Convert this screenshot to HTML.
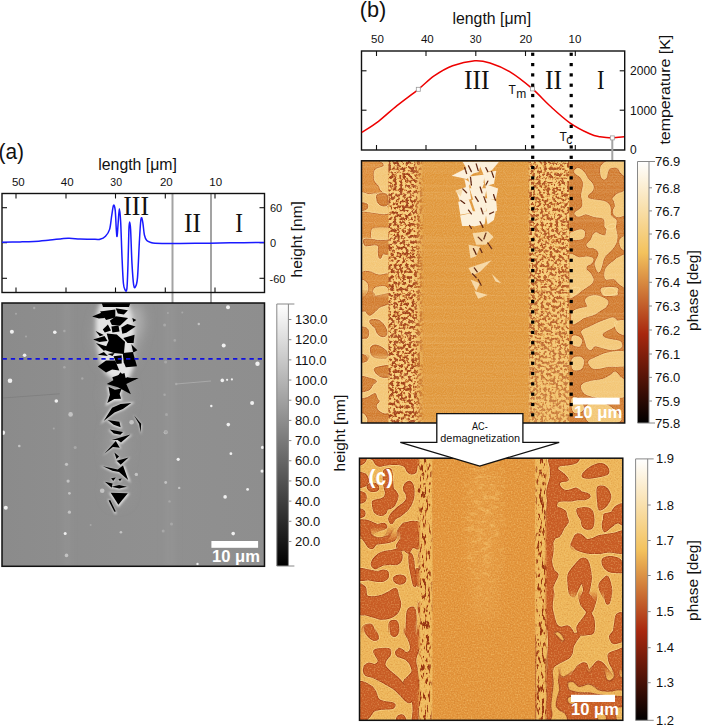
<!DOCTYPE html><html><head><meta charset="utf-8"><style>html,body{margin:0;padding:0;background:#fff;width:702px;height:726px;overflow:hidden}svg{display:block}</style></head><body><svg width="702" height="726" viewBox="0 0 702 726"><defs><linearGradient id="gGray" x1="0" y1="0" x2="0" y2="1"><stop offset="0" stop-color="#fff"/><stop offset="1" stop-color="#000"/></linearGradient><linearGradient id="gGwy" x1="0" y1="0" x2="0" y2="1"><stop offset="0" stop-color="#fff"/><stop offset="0.349" stop-color="rgb(243,194,93)"/><stop offset="0.659" stop-color="rgb(168,40,15)"/><stop offset="1" stop-color="#000"/></linearGradient><clipPath id="cA"><rect x="2" y="303" width="262.5" height="263.3"/></clipPath><clipPath id="cB"><rect x="361.5" y="160.8" width="263.2" height="262.2"/></clipPath><clipPath id="cC"><rect x="359.5" y="458.2" width="263.3" height="262.1"/></clipPath><filter id="fBlur1" x="-20%" y="-20%" width="140%" height="140%"><feGaussianBlur stdDeviation="0.6"/></filter><filter id="fBlur2" x="-50%" y="-50%" width="200%" height="200%"><feGaussianBlur stdDeviation="2.2"/></filter><filter id="fBlur12" x="-50%" y="-50%" width="200%" height="200%"><feGaussianBlur stdDeviation="1.3"/></filter><filter id="fBlur3" x="-50%" y="-50%" width="200%" height="200%"><feGaussianBlur stdDeviation="3"/></filter><filter id="fBlur6" x="-50%" y="-50%" width="200%" height="200%"><feGaussianBlur stdDeviation="6"/></filter><linearGradient id="gAbg" x1="0" y1="0" x2="1" y2="0"><stop offset="0" stop-color="rgb(139,139,139)"/><stop offset="0.3" stop-color="rgb(142,142,142)"/><stop offset="0.6" stop-color="rgb(144,144,144)"/><stop offset="1" stop-color="rgb(142,142,142)"/></linearGradient><filter id="fChC1" x="414" y="455" width="20" height="270" filterUnits="userSpaceOnUse" color-interpolation-filters="sRGB"><feTurbulence type="fractalNoise" baseFrequency="0.45 0.14" numOctaves="2" seed="31"/><feColorMatrix type="matrix" values="1 0 0 0 0  1 0 0 0 0  1 0 0 0 0  0 0 0 0 1"/><feComponentTransfer><feFuncR type="table" tableValues="0.588 0.588 0.588 0.588 0.588 0.588 0.588 0.588 0.792 0.922 0.941 0.941 0.941 0.941 0.941 0.941 0.941 0.941 0.941 0.941 0.941"/><feFuncG type="table" tableValues="0.196 0.196 0.196 0.196 0.196 0.196 0.196 0.196 0.447 0.692 0.737 0.737 0.737 0.737 0.737 0.737 0.737 0.737 0.737 0.737 0.737"/><feFuncB type="table" tableValues="0.059 0.059 0.059 0.059 0.059 0.059 0.059 0.059 0.184 0.341 0.373 0.373 0.373 0.373 0.373 0.373 0.373 0.373 0.373 0.373 0.373"/></feComponentTransfer></filter><filter id="fChC2" x="533" y="455" width="18" height="270" filterUnits="userSpaceOnUse" color-interpolation-filters="sRGB"><feTurbulence type="fractalNoise" baseFrequency="0.45 0.14" numOctaves="2" seed="37"/><feColorMatrix type="matrix" values="1 0 0 0 0  1 0 0 0 0  1 0 0 0 0  0 0 0 0 1"/><feComponentTransfer><feFuncR type="table" tableValues="0.588 0.588 0.588 0.588 0.588 0.588 0.588 0.588 0.792 0.922 0.941 0.941 0.941 0.941 0.941 0.941 0.941 0.941 0.941 0.941 0.941"/><feFuncG type="table" tableValues="0.196 0.196 0.196 0.196 0.196 0.196 0.196 0.196 0.447 0.692 0.737 0.737 0.737 0.737 0.737 0.737 0.737 0.737 0.737 0.737 0.737"/><feFuncB type="table" tableValues="0.059 0.059 0.059 0.059 0.059 0.059 0.059 0.059 0.184 0.341 0.373 0.373 0.373 0.373 0.373 0.373 0.373 0.373 0.373 0.373 0.373"/></feComponentTransfer></filter><linearGradient id="gChC" x1="0" y1="0" x2="1" y2="0"><stop offset="0" stop-color="#fff" stop-opacity="0"/><stop offset="0.25" stop-color="#fff" stop-opacity="1"/><stop offset="0.75" stop-color="#fff" stop-opacity="1"/><stop offset="1" stop-color="#fff" stop-opacity="0"/></linearGradient><mask id="mChC1" maskUnits="userSpaceOnUse" x="414" y="455" width="20" height="270"><rect x="417" y="455" width="16" height="270" fill="url(#gChC)"/></mask><mask id="mChC2" maskUnits="userSpaceOnUse" x="533" y="455" width="16" height="270"><rect x="534.5" y="455" width="13" height="270" fill="url(#gChC)"/></mask><filter id="fGrainC" x="355" y="455" width="275" height="270" filterUnits="userSpaceOnUse" color-interpolation-filters="sRGB"><feTurbulence type="fractalNoise" baseFrequency="0.7" numOctaves="1" seed="7" result="n"/><feColorMatrix in="n" type="matrix" values="0 0 0 0 1  0 0 0 0 0.9  0 0 0 0 0.6  2.2 0 0 0 -1.05" result="l"/><feColorMatrix in="n" type="matrix" values="0 0 0 0 0.7  0 0 0 0 0.35  0 0 0 0 0.1  -2.2 0 0 0 0.95" result="d"/><feMerge><feMergeNode in="l"/><feMergeNode in="d"/></feMerge></filter><filter id="fMottle" x="455" y="458" width="60" height="170" filterUnits="userSpaceOnUse" color-interpolation-filters="sRGB"><feTurbulence type="fractalNoise" baseFrequency="0.12 0.25" numOctaves="2" seed="4"/><feColorMatrix type="matrix" values="0 0 0 0 0.95  0 0 0 0 0.74  0 0 0 0 0.40  4 0 0 0 -2.0"/></filter><radialGradient id="gMot" cx="0.5" cy="0.35" r="0.6"><stop offset="0" stop-color="#fff" stop-opacity="1"/><stop offset="0.6" stop-color="#fff" stop-opacity="0.7"/><stop offset="1" stop-color="#fff" stop-opacity="0"/></radialGradient><mask id="mMot" maskUnits="userSpaceOnUse" x="455" y="458" width="60" height="170"><rect x="462" y="458" width="44" height="170" fill="url(#gMot)" opacity="0.75"/></mask><filter id="fWallC" x="-50%" y="-50%" width="200%" height="200%"><feGaussianBlur stdDeviation="0.7"/></filter><linearGradient id="gcz355_455" gradientUnits="userSpaceOnUse" x1="0" y1="455" x2="0" y2="540"><stop offset="0" stop-color="#fff" stop-opacity="1"/><stop offset="0.000" stop-color="#fff" stop-opacity="1"/><stop offset="1" stop-color="#fff" stop-opacity="1"/></linearGradient><mask id="cz355_455" maskUnits="userSpaceOnUse" x="355" y="455" width="77.5" height="85"><rect x="355" y="455" width="77.5" height="85" fill="url(#gcz355_455)"/></mask><linearGradient id="gcz355_532" gradientUnits="userSpaceOnUse" x1="0" y1="526" x2="0" y2="611"><stop offset="0" stop-color="#fff" stop-opacity="0"/><stop offset="0.141" stop-color="#fff" stop-opacity="1"/><stop offset="1" stop-color="#fff" stop-opacity="1"/></linearGradient><mask id="cz355_532" maskUnits="userSpaceOnUse" x="355" y="526" width="77.5" height="85"><rect x="355" y="526" width="77.5" height="85" fill="url(#gcz355_532)"/></mask><linearGradient id="gcz355_603" gradientUnits="userSpaceOnUse" x1="0" y1="597" x2="0" y2="676"><stop offset="0" stop-color="#fff" stop-opacity="0"/><stop offset="0.152" stop-color="#fff" stop-opacity="1"/><stop offset="1" stop-color="#fff" stop-opacity="1"/></linearGradient><mask id="cz355_603" maskUnits="userSpaceOnUse" x="355" y="597" width="77.5" height="79"><rect x="355" y="597" width="77.5" height="79" fill="url(#gcz355_603)"/></mask><linearGradient id="gcz355_668" gradientUnits="userSpaceOnUse" x1="0" y1="662" x2="0" y2="733"><stop offset="0" stop-color="#fff" stop-opacity="0"/><stop offset="0.169" stop-color="#fff" stop-opacity="1"/><stop offset="1" stop-color="#fff" stop-opacity="1"/></linearGradient><mask id="cz355_668" maskUnits="userSpaceOnUse" x="355" y="662" width="77.5" height="71"><rect x="355" y="662" width="77.5" height="71" fill="url(#gcz355_668)"/></mask><linearGradient id="gcz535_455" gradientUnits="userSpaceOnUse" x1="0" y1="455" x2="0" y2="554"><stop offset="0" stop-color="#fff" stop-opacity="1"/><stop offset="0.000" stop-color="#fff" stop-opacity="1"/><stop offset="1" stop-color="#fff" stop-opacity="1"/></linearGradient><mask id="cz535_455" maskUnits="userSpaceOnUse" x="535" y="455" width="95" height="99"><rect x="535" y="455" width="95" height="99" fill="url(#gcz535_455)"/></mask><linearGradient id="gcz535_546" gradientUnits="userSpaceOnUse" x1="0" y1="540" x2="0" y2="641"><stop offset="0" stop-color="#fff" stop-opacity="0"/><stop offset="0.119" stop-color="#fff" stop-opacity="1"/><stop offset="1" stop-color="#fff" stop-opacity="1"/></linearGradient><mask id="cz535_546" maskUnits="userSpaceOnUse" x="535" y="540" width="95" height="101"><rect x="535" y="540" width="95" height="101" fill="url(#gcz535_546)"/></mask><linearGradient id="gcz535_633" gradientUnits="userSpaceOnUse" x1="0" y1="627" x2="0" y2="733"><stop offset="0" stop-color="#fff" stop-opacity="0"/><stop offset="0.113" stop-color="#fff" stop-opacity="1"/><stop offset="1" stop-color="#fff" stop-opacity="1"/></linearGradient><mask id="cz535_633" maskUnits="userSpaceOnUse" x="535" y="627" width="95" height="106"><rect x="535" y="627" width="95" height="106" fill="url(#gcz535_633)"/></mask><linearGradient id="gcz547_596" gradientUnits="userSpaceOnUse" x1="0" y1="590" x2="0" y2="688"><stop offset="0" stop-color="#fff" stop-opacity="0"/><stop offset="0.122" stop-color="#fff" stop-opacity="1"/><stop offset="0.878" stop-color="#fff" stop-opacity="1"/><stop offset="1" stop-color="#fff" stop-opacity="0"/></linearGradient><mask id="cz547_596" maskUnits="userSpaceOnUse" x="547" y="590" width="83" height="98"><rect x="547" y="590" width="83" height="98" fill="url(#gcz547_596)"/></mask><linearGradient id="gcz548_672" gradientUnits="userSpaceOnUse" x1="0" y1="666" x2="0" y2="733"><stop offset="0" stop-color="#fff" stop-opacity="0"/><stop offset="0.179" stop-color="#fff" stop-opacity="1"/><stop offset="1" stop-color="#fff" stop-opacity="1"/></linearGradient><mask id="cz548_672" maskUnits="userSpaceOnUse" x="548" y="666" width="82" height="67"><rect x="548" y="666" width="82" height="67" fill="url(#gcz548_672)"/></mask><linearGradient id="gcz355_630" gradientUnits="userSpaceOnUse" x1="0" y1="624" x2="0" y2="733"><stop offset="0" stop-color="#fff" stop-opacity="0"/><stop offset="0.110" stop-color="#fff" stop-opacity="1"/><stop offset="1" stop-color="#fff" stop-opacity="1"/></linearGradient><mask id="cz355_630" maskUnits="userSpaceOnUse" x="355" y="624" width="77.5" height="109"><rect x="355" y="624" width="77.5" height="109" fill="url(#gcz355_630)"/></mask><linearGradient id="gcz355_536" gradientUnits="userSpaceOnUse" x1="0" y1="530" x2="0" y2="634"><stop offset="0" stop-color="#fff" stop-opacity="0"/><stop offset="0.115" stop-color="#fff" stop-opacity="1"/><stop offset="0.885" stop-color="#fff" stop-opacity="1"/><stop offset="1" stop-color="#fff" stop-opacity="0"/></linearGradient><mask id="cz355_536" maskUnits="userSpaceOnUse" x="355" y="530" width="77.5" height="104"><rect x="355" y="530" width="77.5" height="104" fill="url(#gcz355_536)"/></mask><filter id="fSpk1" x="386" y="160" width="42" height="265" filterUnits="userSpaceOnUse" color-interpolation-filters="sRGB"><feTurbulence type="fractalNoise" baseFrequency="0.34" numOctaves="2" seed="11"/><feColorMatrix type="matrix" values="1 0 0 0 0  1 0 0 0 0  1 0 0 0 0  0 0 0 0 1"/><feComponentTransfer><feFuncR type="table" tableValues="0.627 0.627 0.627 0.627 0.627 0.627 0.627 0.627 0.627 0.742 0.867 0.948 0.965 0.965 0.965 0.965 0.965 0.965 0.965 0.965 0.965"/><feFuncG type="table" tableValues="0.235 0.235 0.235 0.235 0.235 0.235 0.235 0.235 0.235 0.386 0.575 0.766 0.804 0.804 0.804 0.804 0.804 0.804 0.804 0.804 0.804"/><feFuncB type="table" tableValues="0.078 0.078 0.078 0.078 0.078 0.078 0.078 0.078 0.078 0.154 0.270 0.437 0.471 0.471 0.471 0.471 0.471 0.471 0.471 0.471 0.471"/></feComponentTransfer></filter><filter id="fSpk2" x="526" y="160" width="46" height="265" filterUnits="userSpaceOnUse" color-interpolation-filters="sRGB"><feTurbulence type="fractalNoise" baseFrequency="0.34" numOctaves="2" seed="23"/><feColorMatrix type="matrix" values="1 0 0 0 0  1 0 0 0 0  1 0 0 0 0  0 0 0 0 1"/><feComponentTransfer><feFuncR type="table" tableValues="0.667 0.667 0.667 0.667 0.667 0.667 0.667 0.667 0.667 0.794 0.894 0.953 0.965 0.965 0.965 0.965 0.965 0.965 0.965 0.965 0.965"/><feFuncG type="table" tableValues="0.282 0.282 0.282 0.282 0.282 0.282 0.282 0.282 0.282 0.461 0.627 0.775 0.804 0.804 0.804 0.804 0.804 0.804 0.804 0.804 0.804"/><feFuncB type="table" tableValues="0.098 0.098 0.098 0.098 0.098 0.098 0.098 0.098 0.098 0.189 0.300 0.442 0.471 0.471 0.471 0.471 0.471 0.471 0.471 0.471 0.471"/></feComponentTransfer></filter><linearGradient id="gFade1" x1="0" y1="0" x2="1" y2="0"><stop offset="0" stop-color="#fff" stop-opacity="1"/><stop offset="0.7" stop-color="#fff" stop-opacity="1"/><stop offset="1" stop-color="#fff" stop-opacity="0"/></linearGradient><mask id="mSpk1" maskUnits="userSpaceOnUse" x="380" y="160" width="50" height="265"><rect x="388.5" y="160" width="36" height="265" fill="url(#gFade1)"/></mask><linearGradient id="gFade2" x1="0" y1="0" x2="1" y2="0"><stop offset="0" stop-color="#fff" stop-opacity="0"/><stop offset="0.07" stop-color="#fff" stop-opacity="1"/><stop offset="1" stop-color="#fff" stop-opacity="1"/></linearGradient><linearGradient id="gFade2v" x1="0" y1="0" x2="0" y2="1"><stop offset="0" stop-color="#fff" stop-opacity="1"/><stop offset="0.45" stop-color="#fff" stop-opacity="0.95"/><stop offset="1" stop-color="#fff" stop-opacity="0.5"/></linearGradient><mask id="mSpk2" maskUnits="userSpaceOnUse" x="520" y="160" width="55" height="265"><rect x="527.5" y="160" width="41.5" height="265" fill="url(#gFade2)"/><rect x="527.5" y="160" width="41.5" height="265" fill="#000" opacity="0"/></mask><linearGradient id="gSpk2L" x1="0" y1="0" x2="0" y2="1"><stop offset="0" stop-color="rgb(236,180,95)" stop-opacity="0"/><stop offset="0.45" stop-color="rgb(236,180,95)" stop-opacity="0.1"/><stop offset="1" stop-color="rgb(236,180,95)" stop-opacity="0.5"/></linearGradient><filter id="fScan" x="361" y="160" width="265" height="265" filterUnits="userSpaceOnUse" color-interpolation-filters="sRGB"><feTurbulence type="fractalNoise" baseFrequency="0.004 0.6" numOctaves="2" seed="5"/><feColorMatrix type="matrix" values="0 0 0 0 1  0 0 0 0 0.9  0 0 0 0 0.7  2.2 0 0 0 -0.95"/></filter><filter id="fGrainB" x="361" y="160" width="265" height="265" filterUnits="userSpaceOnUse" color-interpolation-filters="sRGB"><feTurbulence type="fractalNoise" baseFrequency="0.9" numOctaves="1" seed="9"/><feColorMatrix type="matrix" values="0 0 0 0 1  0 0 0 0 0.95  0 0 0 0 0.8  1.6 0 0 0 -0.55"/></filter><filter id="fB05" x="-50%" y="-50%" width="200%" height="200%"><feGaussianBlur stdDeviation="0.5"/></filter><linearGradient id="gbz0" gradientUnits="userSpaceOnUse" x1="0" y1="156" x2="0" y2="232"><stop offset="0" stop-color="#fff" stop-opacity="1"/><stop offset="0.000" stop-color="#fff" stop-opacity="1"/><stop offset="1" stop-color="#fff" stop-opacity="1"/></linearGradient><mask id="bz0" maskUnits="userSpaceOnUse" x="355" y="156" width="33.60000000000002" height="76"><rect x="355" y="156" width="33.60000000000002" height="76" fill="url(#gbz0)"/></mask><linearGradient id="gbz1" gradientUnits="userSpaceOnUse" x1="0" y1="221" x2="0" y2="299"><stop offset="0" stop-color="#fff" stop-opacity="0"/><stop offset="0.128" stop-color="#fff" stop-opacity="1"/><stop offset="1" stop-color="#fff" stop-opacity="1"/></linearGradient><mask id="bz1" maskUnits="userSpaceOnUse" x="355" y="221" width="33.60000000000002" height="78"><rect x="355" y="221" width="33.60000000000002" height="78" fill="url(#gbz1)"/></mask><linearGradient id="gbz2" gradientUnits="userSpaceOnUse" x1="0" y1="288" x2="0" y2="364"><stop offset="0" stop-color="#fff" stop-opacity="0"/><stop offset="0.132" stop-color="#fff" stop-opacity="1"/><stop offset="1" stop-color="#fff" stop-opacity="1"/></linearGradient><mask id="bz2" maskUnits="userSpaceOnUse" x="355" y="288" width="33.60000000000002" height="76"><rect x="355" y="288" width="33.60000000000002" height="76" fill="url(#gbz2)"/></mask><linearGradient id="gbz3" gradientUnits="userSpaceOnUse" x1="0" y1="353" x2="0" y2="432"><stop offset="0" stop-color="#fff" stop-opacity="0"/><stop offset="0.127" stop-color="#fff" stop-opacity="1"/><stop offset="1" stop-color="#fff" stop-opacity="1"/></linearGradient><mask id="bz3" maskUnits="userSpaceOnUse" x="355" y="353" width="33.60000000000002" height="79"><rect x="355" y="353" width="33.60000000000002" height="79" fill="url(#gbz3)"/></mask><clipPath id="cBR"><rect x="569.5" y="155" width="60" height="275"/></clipPath></defs><text x="-1.5" y="159.3" font-size="22" text-anchor="start" fill="#111" font-family="Liberation Sans, sans-serif" textLength="25.5" lengthAdjust="spacingAndGlyphs" >(a)</text><text x="98.3" y="169.5" font-size="16" text-anchor="start" fill="#111" font-family="Liberation Sans, sans-serif" textLength="78.6" lengthAdjust="spacingAndGlyphs" >length [μm]</text><text x="18.3" y="186" font-size="11.5" text-anchor="middle" fill="#111" font-family="Liberation Sans, sans-serif" >50</text><text x="67.2" y="186" font-size="11.5" text-anchor="middle" fill="#111" font-family="Liberation Sans, sans-serif" >40</text><text x="116.2" y="186" font-size="10.5" text-anchor="middle" fill="#111" font-family="Liberation Sans, sans-serif" >30</text><text x="166.3" y="186" font-size="11.5" text-anchor="middle" fill="#111" font-family="Liberation Sans, sans-serif" >20</text><text x="215.7" y="186" font-size="11.5" text-anchor="middle" fill="#111" font-family="Liberation Sans, sans-serif" >10</text><line x1="172.5" y1="194" x2="172.5" y2="303" stroke="#a3a3a3" stroke-width="2"/><line x1="211" y1="194" x2="211" y2="303" stroke="#a3a3a3" stroke-width="2"/><rect x="2" y="193.5" width="262.5" height="99.0" fill="none" stroke="#111" stroke-width="1.4"/><line x1="16" y1="193.5" x2="16" y2="198.5" stroke="#111" stroke-width="1.1"/><line x1="16" y1="292.5" x2="16" y2="287.5" stroke="#111" stroke-width="1.1"/><line x1="66" y1="193.5" x2="66" y2="198.5" stroke="#111" stroke-width="1.1"/><line x1="66" y1="292.5" x2="66" y2="287.5" stroke="#111" stroke-width="1.1"/><line x1="115.5" y1="193.5" x2="115.5" y2="198.5" stroke="#111" stroke-width="1.1"/><line x1="115.5" y1="292.5" x2="115.5" y2="287.5" stroke="#111" stroke-width="1.1"/><line x1="165.3" y1="193.5" x2="165.3" y2="198.5" stroke="#111" stroke-width="1.1"/><line x1="165.3" y1="292.5" x2="165.3" y2="287.5" stroke="#111" stroke-width="1.1"/><line x1="215" y1="193.5" x2="215" y2="198.5" stroke="#111" stroke-width="1.1"/><line x1="215" y1="292.5" x2="215" y2="287.5" stroke="#111" stroke-width="1.1"/><line x1="2" y1="207.7" x2="7" y2="207.7" stroke="#111" stroke-width="1.1"/><line x1="264.5" y1="207.7" x2="259.5" y2="207.7" stroke="#111" stroke-width="1.1"/><line x1="2" y1="242.7" x2="7" y2="242.7" stroke="#111" stroke-width="1.1"/><line x1="264.5" y1="242.7" x2="259.5" y2="242.7" stroke="#111" stroke-width="1.1"/><line x1="2" y1="278.3" x2="7" y2="278.3" stroke="#111" stroke-width="1.1"/><line x1="264.5" y1="278.3" x2="259.5" y2="278.3" stroke="#111" stroke-width="1.1"/><path d="M2.00,242.20 C5.00,242.15 14.67,242.03 20.00,241.90 C25.33,241.77 29.00,241.72 34.00,241.40 C39.00,241.08 44.33,240.52 50.00,240.00 C55.67,239.48 63.00,238.47 68.00,238.30 C73.00,238.13 75.50,238.85 80.00,239.00 C84.50,239.15 91.67,239.15 95.00,239.20 C98.33,239.25 98.25,239.78 100.00,239.30 C101.75,238.82 103.90,237.95 105.50,236.30 C107.10,234.65 108.57,232.83 109.60,229.40 C110.63,225.97 111.05,219.72 111.70,215.70 C112.35,211.68 112.92,206.22 113.50,205.30 C114.08,204.38 114.73,206.18 115.20,210.20 C115.67,214.22 115.98,225.05 116.30,229.40 C116.62,233.75 116.78,237.45 117.10,236.30 C117.42,235.15 117.82,227.08 118.20,222.50 C118.58,217.92 118.98,208.80 119.40,208.80 C119.82,208.80 120.27,214.47 120.70,222.50 C121.13,230.53 121.55,246.88 122.00,257.00 C122.45,267.12 122.88,277.73 123.40,283.20 C123.92,288.67 124.52,288.88 125.10,289.80 C125.68,290.72 126.42,293.02 126.90,288.70 C127.38,284.38 127.67,273.78 128.00,263.90 C128.33,254.02 128.63,236.40 128.90,229.40 C129.17,222.40 129.32,221.90 129.60,221.90 C129.88,221.90 130.20,222.40 130.60,229.40 C131.00,236.40 131.48,254.60 132.00,263.90 C132.52,273.20 133.12,281.42 133.70,285.20 C134.28,288.98 134.87,287.87 135.50,286.60 C136.13,285.33 136.87,284.83 137.50,277.60 C138.13,270.37 138.78,252.38 139.30,243.20 C139.82,234.02 140.20,226.75 140.60,222.50 C141.00,218.25 141.30,217.47 141.70,217.70 C142.10,217.93 142.55,221.02 143.00,223.90 C143.45,226.78 143.77,232.23 144.40,235.00 C145.03,237.77 145.70,239.25 146.80,240.50 C147.90,241.75 149.63,242.05 151.00,242.50 C152.37,242.95 151.83,243.02 155.00,243.20 C158.17,243.38 162.50,243.58 170.00,243.60 C177.50,243.62 190.00,243.43 200.00,243.30 C210.00,243.17 219.33,242.93 230.00,242.80 C240.67,242.67 258.33,242.55 264.00,242.50" fill="none" stroke="#1a1aff" stroke-width="1.5"/><text x="123.3" y="215" font-size="26.5" text-anchor="start" fill="#111" font-family="Liberation Serif, serif" textLength="25.7" lengthAdjust="spacingAndGlyphs" >III</text><text x="184" y="232.2" font-size="26.5" text-anchor="start" fill="#111" font-family="Liberation Serif, serif" textLength="17" lengthAdjust="spacingAndGlyphs" >II</text><text x="235.3" y="231.7" font-size="26.5" text-anchor="start" fill="#111" font-family="Liberation Serif, serif" textLength="7.7" lengthAdjust="spacingAndGlyphs" >I</text><text x="270" y="212" font-size="11" text-anchor="start" fill="#111" font-family="Liberation Sans, sans-serif" >60</text><text x="270" y="247.3" font-size="11" text-anchor="start" fill="#111" font-family="Liberation Sans, sans-serif" >0</text><text x="269.5" y="282.7" font-size="11" text-anchor="start" fill="#111" font-family="Liberation Sans, sans-serif" >-60</text><text transform="translate(301.7,239.3) rotate(-90)" font-size="13.8" text-anchor="middle" fill="#111" font-family="Liberation Sans, sans-serif" textLength="76.2" lengthAdjust="spacingAndGlyphs">height [nm]</text><text x="359.7" y="16.9" font-size="22" text-anchor="start" fill="#111" font-family="Liberation Sans, sans-serif" textLength="26.5" lengthAdjust="spacingAndGlyphs" >(b)</text><text x="452.5" y="23.9" font-size="16" text-anchor="start" fill="#111" font-family="Liberation Sans, sans-serif" textLength="78.6" lengthAdjust="spacingAndGlyphs" >length [μm]</text><text x="377.4" y="43.3" font-size="11.5" text-anchor="middle" fill="#111" font-family="Liberation Sans, sans-serif" >50</text><text x="427.3" y="43.3" font-size="11.5" text-anchor="middle" fill="#111" font-family="Liberation Sans, sans-serif" >40</text><text x="475.7" y="43.3" font-size="10.5" text-anchor="middle" fill="#111" font-family="Liberation Sans, sans-serif" >30</text><text x="525.8" y="43.3" font-size="11.5" text-anchor="middle" fill="#111" font-family="Liberation Sans, sans-serif" >20</text><text x="575" y="43.3" font-size="11.5" text-anchor="middle" fill="#111" font-family="Liberation Sans, sans-serif" >10</text><rect x="361.5" y="51" width="263.20000000000005" height="99" fill="none" stroke="#111" stroke-width="1.4"/><line x1="376.5" y1="51" x2="376.5" y2="56" stroke="#111" stroke-width="1.1"/><line x1="376.5" y1="150" x2="376.5" y2="145" stroke="#111" stroke-width="1.1"/><line x1="426" y1="51" x2="426" y2="56" stroke="#111" stroke-width="1.1"/><line x1="426" y1="150" x2="426" y2="145" stroke="#111" stroke-width="1.1"/><line x1="475.8" y1="51" x2="475.8" y2="56" stroke="#111" stroke-width="1.1"/><line x1="475.8" y1="150" x2="475.8" y2="145" stroke="#111" stroke-width="1.1"/><line x1="525.5" y1="51" x2="525.5" y2="56" stroke="#111" stroke-width="1.1"/><line x1="525.5" y1="150" x2="525.5" y2="145" stroke="#111" stroke-width="1.1"/><line x1="575.3" y1="51" x2="575.3" y2="56" stroke="#111" stroke-width="1.1"/><line x1="575.3" y1="150" x2="575.3" y2="145" stroke="#111" stroke-width="1.1"/><line x1="361.5" y1="70.8" x2="366.5" y2="70.8" stroke="#111" stroke-width="1.1"/><line x1="624.7" y1="70.8" x2="619.7" y2="70.8" stroke="#111" stroke-width="1.1"/><line x1="361.5" y1="110.2" x2="366.5" y2="110.2" stroke="#111" stroke-width="1.1"/><line x1="624.7" y1="110.2" x2="619.7" y2="110.2" stroke="#111" stroke-width="1.1"/><path d="M361.90,132.40 C364.67,130.55 372.65,125.77 378.50,121.30 C384.35,116.83 390.37,110.93 397.00,105.60 C403.63,100.27 412.12,94.25 418.30,89.30 C424.48,84.35 428.38,79.83 434.10,75.90 C439.82,71.97 445.82,68.23 452.60,65.70 C459.38,63.17 468.57,61.15 474.80,60.70 C481.03,60.25 484.13,61.13 490.00,63.00 C495.87,64.87 502.92,67.58 510.00,71.90 C517.08,76.22 525.87,83.25 532.50,88.90 C539.13,94.55 543.58,100.15 549.80,105.80 C556.02,111.45 563.15,118.13 569.80,122.80 C576.45,127.47 584.67,131.47 589.70,133.80 C594.73,136.13 596.23,136.12 600.00,136.80 C603.77,137.48 608.30,137.90 612.30,137.90 C616.30,137.90 622.05,136.98 624.00,136.80" fill="none" stroke="#ee0000" stroke-width="1.5"/><line x1="612.3" y1="140" x2="612.3" y2="161" stroke="#a3a3a3" stroke-width="2"/><rect x="416.3" y="87.3" width="4" height="4" fill="#fff" stroke="#999" stroke-width="0.8"/><rect x="530.5" y="86.9" width="4" height="4" fill="#fff" stroke="#999" stroke-width="0.8"/><rect x="610.3" y="135.9" width="4" height="4" fill="#fff" stroke="#999" stroke-width="0.8"/><text x="464" y="88.7" font-size="26.5" text-anchor="start" fill="#111" font-family="Liberation Serif, serif" textLength="25.6" lengthAdjust="spacingAndGlyphs" >III</text><text x="545" y="88.7" font-size="26.5" text-anchor="start" fill="#111" font-family="Liberation Serif, serif" textLength="17" lengthAdjust="spacingAndGlyphs" >II</text><text x="597" y="88.7" font-size="26.5" text-anchor="start" fill="#111" font-family="Liberation Serif, serif" textLength="7.5" lengthAdjust="spacingAndGlyphs" >I</text><text x="508.5" y="94.3" font-size="12" text-anchor="start" fill="#111" font-family="Liberation Sans, sans-serif" >T</text><text x="516.3" y="97.5" font-size="12" text-anchor="start" fill="#111" font-family="Liberation Sans, sans-serif" >m</text><text x="559.5" y="141" font-size="12" text-anchor="start" fill="#111" font-family="Liberation Sans, sans-serif" >T</text><text x="566.3" y="144" font-size="12" text-anchor="start" fill="#111" font-family="Liberation Sans, sans-serif" >c</text><text x="630" y="75.4" font-size="12" text-anchor="start" fill="#111" font-family="Liberation Sans, sans-serif" textLength="26.8" lengthAdjust="spacingAndGlyphs" >2000</text><text x="630" y="115" font-size="12" text-anchor="start" fill="#111" font-family="Liberation Sans, sans-serif" textLength="26.8" lengthAdjust="spacingAndGlyphs" >1000</text><text x="630" y="154" font-size="12" text-anchor="start" fill="#111" font-family="Liberation Sans, sans-serif" >0</text><text transform="translate(670.2,89.7) rotate(-90)" font-size="14.5" text-anchor="middle" fill="#111" font-family="Liberation Sans, sans-serif" textLength="109.8" lengthAdjust="spacingAndGlyphs">temperature [K]</text><g clip-path="url(#cA)"><rect x="0" y="300" width="270" height="270" fill="url(#gAbg)"/><g filter="url(#fBlur3)" opacity="0.5"><rect x="63" y="300" width="8" height="270" fill="rgb(152,152,152)"/><rect x="164" y="300" width="12" height="270" fill="rgb(150,150,150)"/></g><g filter="url(#fBlur6)"><ellipse cx="117" cy="335" rx="22" ry="36" fill="rgb(165,165,165)"/><ellipse cx="135" cy="322" rx="8" ry="18" fill="rgb(178,178,178)"/><ellipse cx="118" cy="395" rx="12" ry="20" fill="rgb(158,158,158)"/><ellipse cx="117" cy="445" rx="10" ry="30" fill="rgb(154,154,154)"/><ellipse cx="118" cy="490" rx="10" ry="14" fill="rgb(154,154,154)"/></g><g filter="url(#fBlur2)"><polygon points="100.0,303.0 128.0,303.0 132.0,315.0 134.0,330.0 133.0,350.0 134.0,366.0 128.0,381.0 118.0,383.0 106.0,374.0 101.0,364.0 98.0,350.0 96.0,336.0 96.0,318.0" fill="rgb(228,228,228)" /></g><g filter="url(#fBlur12)"><polygon points="106.9,385.7 115.0,389.4 123.4,387.9 120.9,394.7 122.7,400.7 114.3,400.9 105.4,405.9 108.7,395.7" fill="rgb(225,225,225)" /><polygon points="134.8,402.1 121.2,403.3 110.8,408.1 100.2,424.6 113.8,414.1 124.2,409.6" fill="rgb(225,225,225)" /><polygon points="133.0,414.2 141.8,424.6 141.1,435.1 139.1,424.9" fill="rgb(225,225,225)" /><polygon points="105.8,419.9 120.4,422.1 122.0,429.0 113.3,425.9" fill="rgb(225,225,225)" /><polygon points="108.1,429.5 124.6,432.8 121.3,436.1 113.1,434.4" fill="rgb(225,225,225)" /><polygon points="109.7,440.9 132.8,434.2 121.3,444.2 116.9,441.2" fill="rgb(225,225,225)" /><polygon points="102.4,455.9 116.5,440.2 121.4,448.6 112.9,447.7" fill="rgb(225,225,225)" /><polygon points="113.9,452.4 119.7,457.4 116.4,460.7" fill="rgb(225,225,225)" /><polygon points="115.4,461.5 130.2,457.3 120.4,466.5" fill="rgb(225,225,225)" /><polygon points="99.5,465.8 117.8,469.9 124.4,464.9 131.0,483.1 119.4,473.2 111.2,471.5" fill="rgb(225,225,225)" /><polygon points="110.6,478.9 116.4,478.0 113.1,482.2" fill="rgb(225,225,225)" /><polygon points="118.0,479.5 122.2,479.2 120.0,482.5" fill="rgb(225,225,225)" /><polygon points="103.7,481.8 113.3,483.9 112.2,489.3" fill="rgb(225,225,225)" /><polygon points="109.6,487.5 119.2,485.4 128.8,487.5 119.2,489.7" fill="rgb(225,225,225)" /><polygon points="108.7,492.6 130.0,493.2 118.3,507.6" fill="rgb(225,225,225)" /><polygon points="107.7,499.8 109.6,499.3 116.7,513.7 114.9,514.0" fill="rgb(225,225,225)" /></g><g filter="url(#fBlur1)"><polygon points="101.7,303.1 130.3,303.1 129.0,306.9 103.0,306.9" fill="#050505" /><polygon points="92.2,316.5 101.8,312.4 105.0,318.1 98.9,318.5" fill="#050505" /><polygon points="100.0,311.5 115.3,309.4 115.3,317.6 106.1,320.1" fill="#050505" /><polygon points="115.7,308.2 127.9,310.3 123.9,314.5 117.8,313.4" fill="#050505" /><polygon points="109.8,320.7 115.9,316.2 128.1,318.1 119.9,325.8 111.9,324.9" fill="#050505" /><polygon points="102.8,329.5 107.9,324.4 111.0,330.5 104.8,332.6" fill="#050505" /><polygon points="111.4,326.5 118.5,325.5 119.5,331.6 112.4,332.6" fill="#050505" /><polygon points="121.3,327.6 127.4,324.0 135.6,326.6 126.3,332.7 122.3,333.7" fill="#050505" /><polygon points="95.6,331.1 103.8,335.1 99.8,336.2" fill="#050505" /><polygon points="132.3,318.0 136.3,320.0 133.3,322.1" fill="#050505" /><polygon points="93.2,339.4 104.5,335.9 107.5,340.9 99.4,342.0" fill="#050505" /><polygon points="95.9,342.9 107.1,346.4 104.1,351.0" fill="#050505" /><polygon points="106.7,333.5 116.8,334.5 125.0,341.7 123.9,353.9 113.8,352.9 104.6,349.9 108.7,340.7" fill="#050505" /><polygon points="123.3,337.9 134.6,334.8 133.6,343.0 127.5,343.0" fill="#050505" /><polygon points="131.3,344.2 137.4,350.3 133.3,352.4" fill="#050505" /><polygon points="97.8,354.8 103.9,351.9 107.9,355.9" fill="#050505" /><polygon points="107.5,353.9 114.6,352.9 112.5,355.9" fill="#050505" /><polygon points="113.5,356.3 121.7,355.3 121.7,363.5 116.6,364.0" fill="#050505" /><polygon points="122.7,353.0 132.9,352.1 137.0,366.3 125.8,367.3 123.7,362.3" fill="#050505" /><polygon points="97.8,366.5 106.0,360.4 115.2,360.4 119.3,370.5 112.1,369.5 106.0,372.6" fill="#050505" /><polygon points="112.3,377.2 124.5,373.0 126.4,382.2 114.2,382.2" fill="#050505" /><polygon points="126.3,377.0 136.4,379.0 128.3,381.1" fill="#050505" /><polygon points="106.8,383.9 115.9,378.7 120.5,372.2 125.7,378.1 138.7,378.1 126.3,383.9 130.9,394.3 117.9,387.2" fill="#050505" /><polygon points="108.5,386.7 114.9,389.7 121.7,388.5 119.6,393.9 121.1,398.7 114.3,399.0 107.3,402.9 109.9,394.8" fill="#050505" /><polygon points="131.3,402.9 120.5,403.9 112.1,407.7 103.7,420.9 114.5,412.5 122.9,408.9" fill="#050505" /><polygon points="134.1,415.5 141.2,423.8 140.6,432.2 139.1,424.0" fill="#050505" /><polygon points="107.7,419.9 119.4,421.7 120.7,427.2 113.7,424.7" fill="#050505" /><polygon points="109.8,429.4 123.0,432.0 120.4,434.7 113.8,433.4" fill="#050505" /><polygon points="111.8,439.9 130.3,434.6 121.0,442.5 117.6,440.1" fill="#050505" /><polygon points="104.5,453.5 115.8,440.9 119.8,447.7 112.9,446.9" fill="#050505" /><polygon points="114.4,452.5 119.1,456.5 116.5,459.1" fill="#050505" /><polygon points="116.7,460.8 128.6,457.4 120.7,464.7" fill="#050505" /><polygon points="103.0,466.2 117.7,469.4 123.0,465.4 128.2,480.0 119.0,472.0 112.4,470.7" fill="#050505" /><polygon points="111.1,478.3 115.8,477.6 113.2,480.9" fill="#050505" /><polygon points="118.4,478.9 121.8,478.6 120.0,481.3" fill="#050505" /><polygon points="104.9,481.7 112.6,483.4 111.7,487.7" fill="#050505" /><polygon points="111.5,486.7 119.2,485.0 126.9,486.7 119.2,488.5" fill="#050505" /><polygon points="110.7,492.8 127.8,493.3 118.4,504.8" fill="#050505" /><polygon points="108.6,500.4 110.2,500.0 115.8,511.5 114.4,511.8" fill="#050505" /></g><g filter="url(#fBlur1)"><circle cx="228" cy="307.3" r="2" fill="rgb(240,240,240)"/><circle cx="223.7" cy="345.6" r="2" fill="rgb(240,240,240)"/><circle cx="257.5" cy="363.8" r="2.2" fill="rgb(240,240,240)"/><circle cx="222.3" cy="380.4" r="1.8" fill="rgb(240,240,240)"/><circle cx="227.1" cy="379.8" r="1.1" fill="rgb(240,240,240)"/><circle cx="231.9" cy="379.4" r="1.1" fill="rgb(240,240,240)"/><circle cx="252.1" cy="402.9" r="2" fill="rgb(240,240,240)"/><circle cx="211.3" cy="406" r="1.2" fill="rgb(240,240,240)"/><circle cx="228.3" cy="424.6" r="1.8" fill="rgb(240,240,240)"/><circle cx="11.9" cy="331.7" r="2" fill="rgb(240,240,240)"/><circle cx="54.8" cy="332.3" r="1.8" fill="rgb(240,240,240)"/><circle cx="24.6" cy="355.2" r="1.8" fill="rgb(240,240,240)"/><circle cx="10" cy="380.8" r="2.3" fill="rgb(240,240,240)"/><circle cx="56.3" cy="401" r="1.8" fill="rgb(240,240,240)"/><circle cx="2.9" cy="432.7" r="2.2" fill="rgb(240,240,240)"/><circle cx="5.8" cy="507.7" r="2" fill="rgb(240,240,240)"/><circle cx="65.2" cy="533.6" r="1.5" fill="rgb(240,240,240)"/><circle cx="178.2" cy="459.3" r="1.6" fill="rgb(240,240,240)"/><circle cx="230.9" cy="453.7" r="1.4" fill="rgb(240,240,240)"/><circle cx="262.5" cy="447.4" r="1.6" fill="rgb(240,240,240)"/><circle cx="262.1" cy="471.1" r="1.6" fill="rgb(240,240,240)"/><circle cx="247.6" cy="489.4" r="1.4" fill="rgb(240,240,240)"/><circle cx="225.1" cy="496.9" r="1.8" fill="rgb(240,240,240)"/><circle cx="233.2" cy="533.6" r="1.8" fill="rgb(240,240,240)"/><circle cx="197.5" cy="564" r="1.2" fill="rgb(240,240,240)"/><circle cx="198.8" cy="324" r="1.2" fill="rgb(195,195,195)"/><circle cx="70.6" cy="414.4" r="2.3" fill="rgb(195,195,195)"/><circle cx="19.3" cy="446" r="1.3" fill="rgb(195,195,195)"/><circle cx="66.5" cy="464.3" r="1.6" fill="rgb(195,195,195)"/><circle cx="68.1" cy="481.1" r="1.6" fill="rgb(195,195,195)"/><circle cx="69.4" cy="493.3" r="1.4" fill="rgb(195,195,195)"/><circle cx="69.4" cy="512.2" r="1.6" fill="rgb(195,195,195)"/><circle cx="102.2" cy="490.8" r="2.3" fill="rgb(195,195,195)"/><circle cx="120.9" cy="532.2" r="1.3" fill="rgb(195,195,195)"/><circle cx="66.5" cy="555.4" r="1.8" fill="rgb(195,195,195)"/><circle cx="165.7" cy="432.3" r="2" fill="rgb(195,195,195)"/><circle cx="136.4" cy="474.4" r="1.5" fill="rgb(195,195,195)"/><circle cx="165.7" cy="482.5" r="1.4" fill="rgb(195,195,195)"/><circle cx="179.2" cy="487.9" r="1.2" fill="rgb(195,195,195)"/><circle cx="131.6" cy="422.3" r="2.3" fill="rgb(195,195,195)"/><circle cx="136.3" cy="474.3" r="1.5" fill="rgb(195,195,195)"/><circle cx="167.9" cy="312.9" r="1" fill="rgb(168,168,168)"/><circle cx="182.3" cy="312.5" r="1" fill="rgb(168,168,168)"/><circle cx="164.6" cy="325" r="1.5" fill="rgb(168,168,168)"/><circle cx="174.8" cy="340.4" r="1.3" fill="rgb(168,168,168)"/><circle cx="165.6" cy="362" r="1.5" fill="rgb(168,168,168)"/><circle cx="176.2" cy="384" r="1.3" fill="rgb(168,168,168)"/><circle cx="164.6" cy="394.8" r="1.3" fill="rgb(168,168,168)"/><circle cx="166.5" cy="414.6" r="1.5" fill="rgb(168,168,168)"/><circle cx="166" cy="432" r="1.8" fill="rgb(168,168,168)"/><circle cx="34.2" cy="308" r="1.2" fill="rgb(168,168,168)"/><circle cx="16" cy="313.8" r="1" fill="rgb(168,168,168)"/><circle cx="26" cy="336.5" r="1" fill="rgb(168,168,168)"/><circle cx="64.4" cy="331" r="1.3" fill="rgb(168,168,168)"/><circle cx="64.4" cy="367.3" r="1.3" fill="rgb(168,168,168)"/><circle cx="82.3" cy="378.5" r="1.2" fill="rgb(168,168,168)"/><circle cx="53.8" cy="428.5" r="1" fill="rgb(168,168,168)"/><circle cx="75.2" cy="447.4" r="1.5" fill="rgb(168,168,168)"/><circle cx="169.5" cy="501.4" r="1.2" fill="rgb(168,168,168)"/><circle cx="171.5" cy="524.1" r="1.5" fill="rgb(168,168,168)"/><circle cx="163.2" cy="530.9" r="1.5" fill="rgb(168,168,168)"/><circle cx="90.6" cy="525" r="1" fill="rgb(168,168,168)"/><line x1="176" y1="384" x2="211" y2="381" stroke="rgb(175,175,175)" stroke-width="0.8"/><line x1="2.9" y1="398" x2="59.6" y2="393.8" stroke="rgb(125,125,125)" stroke-width="0.8"/></g></g><rect x="2" y="303" width="262.5" height="263.3" fill="none" stroke="#111" stroke-width="1.5"/><g clip-path="url(#cB)"><rect x="355" y="155" width="275" height="275" fill="rgb(224,150,58)"/><g mask="url(#bz0)"><rect x="355" y="156" width="33.60000000000002" height="76" fill="rgb(220,138,56)"/><g filter="url(#fB05)"><path d="M374.4,171.5 C374.9,169.7 376.2,169.3 377.3,168.6 C378.4,168.0 380.0,168.1 381.1,167.6 C382.3,167.2 383.7,166.5 384.0,165.7 C384.4,164.9 383.7,163.6 383.1,162.8 C382.4,162.0 379.1,161.2 380.2,160.9 C381.3,160.6 388.2,155.9 389.8,160.9 C391.4,165.9 390.5,185.5 389.8,190.8 C389.2,196.1 387.3,192.6 386.0,192.7 C384.7,192.8 383.1,191.9 382.1,191.3 C381.1,190.6 380.7,189.7 380.2,188.9 C379.7,188.0 379.9,186.9 379.2,186.0 C378.6,185.0 377.1,184.2 376.3,183.1 C375.5,181.9 374.7,181.1 374.4,179.2 C374.1,177.3 373.9,173.3 374.4,171.5Z" fill="none" stroke="rgb(180,85,30)" stroke-width="2.2"/><path d="M374.4,171.5 C374.9,169.7 376.2,169.3 377.3,168.6 C378.4,168.0 380.0,168.1 381.1,167.6 C382.3,167.2 383.7,166.5 384.0,165.7 C384.4,164.9 383.7,163.6 383.1,162.8 C382.4,162.0 379.1,161.2 380.2,160.9 C381.3,160.6 388.2,155.9 389.8,160.9 C391.4,165.9 390.5,185.5 389.8,190.8 C389.2,196.1 387.3,192.6 386.0,192.7 C384.7,192.8 383.1,191.9 382.1,191.3 C381.1,190.6 380.7,189.7 380.2,188.9 C379.7,188.0 379.9,186.9 379.2,186.0 C378.6,185.0 377.1,184.2 376.3,183.1 C375.5,181.9 374.7,181.1 374.4,179.2 C374.1,177.3 373.9,173.3 374.4,171.5Z" fill="rgb(243,198,118)" stroke="rgb(250,220,150)" stroke-width="0.9"/><path d="M359.9,193.7 C361.5,191.0 367.0,194.6 369.6,194.6 C372.1,194.6 374.1,193.5 375.4,193.7 C376.6,193.8 377.1,194.6 377.3,195.6 C377.4,196.6 376.3,198.3 376.3,199.5 C376.3,200.6 376.5,201.4 377.3,202.4 C378.1,203.3 379.5,204.4 381.1,205.3 C382.8,206.1 385.5,206.1 386.9,207.2 C388.4,208.3 390.3,210.9 389.8,212.0 C389.3,213.1 386.1,213.8 384.0,213.9 C381.9,214.1 379.7,213.3 377.3,213.0 C374.9,212.6 371.8,212.3 369.6,212.0 C367.3,211.7 365.4,211.3 363.8,211.0 C362.2,210.8 360.6,213.4 359.9,210.6 C359.3,207.7 358.3,196.3 359.9,193.7Z" fill="none" stroke="rgb(180,85,30)" stroke-width="2.2"/><path d="M359.9,193.7 C361.5,191.0 367.0,194.6 369.6,194.6 C372.1,194.6 374.1,193.5 375.4,193.7 C376.6,193.8 377.1,194.6 377.3,195.6 C377.4,196.6 376.3,198.3 376.3,199.5 C376.3,200.6 376.5,201.4 377.3,202.4 C378.1,203.3 379.5,204.4 381.1,205.3 C382.8,206.1 385.5,206.1 386.9,207.2 C388.4,208.3 390.3,210.9 389.8,212.0 C389.3,213.1 386.1,213.8 384.0,213.9 C381.9,214.1 379.7,213.3 377.3,213.0 C374.9,212.6 371.8,212.3 369.6,212.0 C367.3,211.7 365.4,211.3 363.8,211.0 C362.2,210.8 360.6,213.4 359.9,210.6 C359.3,207.7 358.3,196.3 359.9,193.7Z" fill="rgb(243,198,118)" stroke="rgb(250,220,150)" stroke-width="0.9"/><path d="M377.3,194.6 C378.3,193.7 381.5,193.7 383.1,193.7 C384.7,193.7 386.1,193.4 386.9,194.6 C387.7,195.9 387.9,199.6 387.9,201.4 C387.9,203.2 387.9,204.5 386.9,205.3 C386.0,206.0 383.6,206.1 382.1,205.7 C380.7,205.4 379.1,204.4 378.3,203.3 C377.4,202.3 377.0,200.9 376.8,199.5 C376.6,198.0 376.2,195.6 377.3,194.6Z" fill="none" stroke="rgb(250,220,150)" stroke-width="2.4"/><path d="M377.3,194.6 C378.3,193.7 381.5,193.7 383.1,193.7 C384.7,193.7 386.1,193.4 386.9,194.6 C387.7,195.9 387.9,199.6 387.9,201.4 C387.9,203.2 387.9,204.5 386.9,205.3 C386.0,206.0 383.6,206.1 382.1,205.7 C380.7,205.4 379.1,204.4 378.3,203.3 C377.4,202.3 377.0,200.9 376.8,199.5 C376.6,198.0 376.2,195.6 377.3,194.6Z" fill="rgb(209,122,47)" stroke="rgb(180,85,30)" stroke-width="1.0"/><path d="M359.9,203.3 C361.1,202.3 365.4,203.2 366.7,203.8 C368.0,204.4 367.8,206.2 367.6,207.2 C367.5,208.1 367.0,209.1 365.7,209.6 C364.4,210.1 360.9,211.1 359.9,210.1 C359.0,209.0 358.8,204.4 359.9,203.3Z" fill="none" stroke="rgb(250,220,150)" stroke-width="2.4"/><path d="M359.9,203.3 C361.1,202.3 365.4,203.2 366.7,203.8 C368.0,204.4 367.8,206.2 367.6,207.2 C367.5,208.1 367.0,209.1 365.7,209.6 C364.4,210.1 360.9,211.1 359.9,210.1 C359.0,209.0 358.8,204.4 359.9,203.3Z" fill="rgb(209,122,47)" stroke="rgb(180,85,30)" stroke-width="1.0"/></g></g><g mask="url(#bz1)"><rect x="355" y="221" width="33.60000000000002" height="78" fill="rgb(220,138,56)"/><g filter="url(#fB05)"><path d="M372.5,228.9 C373.4,227.7 375.2,228.1 377.3,227.9 C379.4,227.7 382.9,227.7 385.0,227.9 C387.1,228.1 389.0,226.9 389.8,228.9 C390.6,230.8 390.8,237.5 389.8,239.5 C388.9,241.4 386.1,240.3 384.0,240.4 C381.9,240.6 379.2,240.6 377.3,240.4 C375.4,240.3 373.4,240.4 372.5,239.5 C371.5,238.5 371.5,236.4 371.5,234.6 C371.5,232.9 371.5,230.0 372.5,228.9Z" fill="none" stroke="rgb(180,85,30)" stroke-width="2.2"/><path d="M372.5,228.9 C373.4,227.7 375.2,228.1 377.3,227.9 C379.4,227.7 382.9,227.7 385.0,227.9 C387.1,228.1 389.0,226.9 389.8,228.9 C390.6,230.8 390.8,237.5 389.8,239.5 C388.9,241.4 386.1,240.3 384.0,240.4 C381.9,240.6 379.2,240.6 377.3,240.4 C375.4,240.3 373.4,240.4 372.5,239.5 C371.5,238.5 371.5,236.4 371.5,234.6 C371.5,232.9 371.5,230.0 372.5,228.9Z" fill="rgb(243,198,118)" stroke="rgb(250,220,150)" stroke-width="0.9"/><path d="M359.9,246.2 C361.2,242.3 365.2,246.0 367.6,245.7 C370.1,245.5 372.6,244.7 374.4,244.8 C376.2,244.8 377.6,245.0 378.3,246.2 C378.9,247.4 378.1,250.1 378.3,252.0 C378.4,253.9 378.7,256.8 379.2,257.8 C379.7,258.8 380.5,258.4 381.1,257.8 C381.8,257.1 381.6,254.6 383.1,253.9 C384.5,253.3 388.7,251.0 389.8,253.9 C390.9,256.8 390.6,268.1 389.8,271.3 C389.0,274.5 386.6,272.7 385.0,273.2 C383.4,273.7 381.8,274.2 380.2,274.2 C378.6,274.2 376.8,273.7 375.4,273.2 C373.9,272.7 373.1,271.8 371.5,271.3 C369.9,270.8 367.6,270.6 365.7,270.3 C363.8,270.0 360.9,273.4 359.9,269.4 C359.0,265.3 358.6,250.2 359.9,246.2Z" fill="none" stroke="rgb(180,85,30)" stroke-width="2.2"/><path d="M359.9,246.2 C361.2,242.3 365.2,246.0 367.6,245.7 C370.1,245.5 372.6,244.7 374.4,244.8 C376.2,244.8 377.6,245.0 378.3,246.2 C378.9,247.4 378.1,250.1 378.3,252.0 C378.4,253.9 378.7,256.8 379.2,257.8 C379.7,258.8 380.5,258.4 381.1,257.8 C381.8,257.1 381.6,254.6 383.1,253.9 C384.5,253.3 388.7,251.0 389.8,253.9 C390.9,256.8 390.6,268.1 389.8,271.3 C389.0,274.5 386.6,272.7 385.0,273.2 C383.4,273.7 381.8,274.2 380.2,274.2 C378.6,274.2 376.8,273.7 375.4,273.2 C373.9,272.7 373.1,271.8 371.5,271.3 C369.9,270.8 367.6,270.6 365.7,270.3 C363.8,270.0 360.9,273.4 359.9,269.4 C359.0,265.3 358.6,250.2 359.9,246.2Z" fill="rgb(243,198,118)" stroke="rgb(250,220,150)" stroke-width="0.9"/><path d="M363.8,239.5 C365.1,238.5 370.2,239.3 372.5,239.5 C374.7,239.6 375.4,240.3 377.3,240.4 C379.2,240.6 381.9,240.3 384.0,240.4 C386.1,240.6 388.9,239.1 389.8,241.4 C390.8,243.6 390.9,251.8 389.8,253.9 C388.7,256.0 384.5,253.3 383.1,253.9 C381.6,254.6 381.8,257.1 381.1,257.8 C380.5,258.4 379.7,258.8 379.2,257.8 C378.7,256.8 378.4,253.9 378.3,252.0 C378.1,250.1 378.9,247.4 378.3,246.2 C377.6,245.0 376.2,244.8 374.4,244.8 C372.6,244.7 369.3,245.7 367.6,245.7 C366.0,245.8 365.4,246.3 364.8,245.3 C364.1,244.2 362.5,240.4 363.8,239.5Z" fill="none" stroke="rgb(250,220,150)" stroke-width="2.4"/><path d="M363.8,239.5 C365.1,238.5 370.2,239.3 372.5,239.5 C374.7,239.6 375.4,240.3 377.3,240.4 C379.2,240.6 381.9,240.3 384.0,240.4 C386.1,240.6 388.9,239.1 389.8,241.4 C390.8,243.6 390.9,251.8 389.8,253.9 C388.7,256.0 384.5,253.3 383.1,253.9 C381.6,254.6 381.8,257.1 381.1,257.8 C380.5,258.4 379.7,258.8 379.2,257.8 C378.7,256.8 378.4,253.9 378.3,252.0 C378.1,250.1 378.9,247.4 378.3,246.2 C377.6,245.0 376.2,244.8 374.4,244.8 C372.6,244.7 369.3,245.7 367.6,245.7 C366.0,245.8 365.4,246.3 364.8,245.3 C364.1,244.2 362.5,240.4 363.8,239.5Z" fill="rgb(209,122,47)" stroke="rgb(180,85,30)" stroke-width="1.0"/><path d="M359.9,280.9 C361.1,278.7 365.4,281.3 366.7,282.9 C368.0,284.5 368.1,288.3 367.6,290.6 C367.2,292.8 365.1,295.4 363.8,296.4 C362.5,297.3 360.6,298.9 359.9,296.4 C359.3,293.8 358.8,283.2 359.9,280.9Z" fill="none" stroke="rgb(180,85,30)" stroke-width="2.2"/><path d="M359.9,280.9 C361.1,278.7 365.4,281.3 366.7,282.9 C368.0,284.5 368.1,288.3 367.6,290.6 C367.2,292.8 365.1,295.4 363.8,296.4 C362.5,297.3 360.6,298.9 359.9,296.4 C359.3,293.8 358.8,283.2 359.9,280.9Z" fill="rgb(243,198,118)" stroke="rgb(250,220,150)" stroke-width="0.9"/><path d="M374.4,288.6 C375.4,287.0 378.1,286.9 380.2,286.7 C382.3,286.6 385.3,286.1 386.9,287.7 C388.5,289.3 391.9,294.9 389.8,296.4 C387.7,297.8 377.0,297.6 374.4,296.4 C371.8,295.1 373.4,290.3 374.4,288.6Z" fill="none" stroke="rgb(180,85,30)" stroke-width="2.2"/><path d="M374.4,288.6 C375.4,287.0 378.1,286.9 380.2,286.7 C382.3,286.6 385.3,286.1 386.9,287.7 C388.5,289.3 391.9,294.9 389.8,296.4 C387.7,297.8 377.0,297.6 374.4,296.4 C371.8,295.1 373.4,290.3 374.4,288.6Z" fill="rgb(243,198,118)" stroke="rgb(250,220,150)" stroke-width="0.9"/></g></g><g mask="url(#bz2)"><rect x="355" y="288" width="33.60000000000002" height="76" fill="rgb(243,198,118)"/><g filter="url(#fB05)"><path d="M359.9,292.0 C362.0,289.1 369.9,291.4 372.5,292.0 C375.0,292.6 373.8,295.4 375.4,295.9 C377.0,296.3 379.7,295.2 382.1,294.9 C384.5,294.6 388.5,292.6 389.8,293.9 C391.1,295.2 390.8,300.7 389.8,302.6 C388.9,304.5 385.8,304.7 384.0,305.5 C382.3,306.3 380.7,306.5 379.2,307.4 C377.8,308.4 376.8,310.0 375.4,311.3 C373.9,312.6 371.8,314.7 370.5,315.1 C369.3,315.6 368.4,314.8 367.6,314.2 C366.8,313.5 367.0,312.1 365.7,311.3 C364.4,310.5 360.9,312.6 359.9,309.4 C359.0,306.1 357.8,294.9 359.9,292.0Z" fill="none" stroke="rgb(250,220,150)" stroke-width="2.4"/><path d="M359.9,292.0 C362.0,289.1 369.9,291.4 372.5,292.0 C375.0,292.6 373.8,295.4 375.4,295.9 C377.0,296.3 379.7,295.2 382.1,294.9 C384.5,294.6 388.5,292.6 389.8,293.9 C391.1,295.2 390.8,300.7 389.8,302.6 C388.9,304.5 385.8,304.7 384.0,305.5 C382.3,306.3 380.7,306.5 379.2,307.4 C377.8,308.4 376.8,310.0 375.4,311.3 C373.9,312.6 371.8,314.7 370.5,315.1 C369.3,315.6 368.4,314.8 367.6,314.2 C366.8,313.5 367.0,312.1 365.7,311.3 C364.4,310.5 360.9,312.6 359.9,309.4 C359.0,306.1 357.8,294.9 359.9,292.0Z" fill="rgb(209,122,47)" stroke="rgb(180,85,30)" stroke-width="1.0"/><path d="M369.6,320.9 C369.9,320.0 371.8,319.6 373.4,319.5 C375.0,319.4 377.6,319.7 379.2,320.4 C380.8,321.2 381.9,322.5 383.1,323.8 C384.2,325.2 385.3,327.0 386.0,328.6 C386.6,330.3 387.1,332.2 386.9,333.5 C386.8,334.8 386.0,335.9 385.0,336.4 C384.0,336.8 382.4,336.8 381.1,336.4 C379.9,335.9 378.3,334.8 377.3,333.5 C376.3,332.2 376.3,330.1 375.4,328.6 C374.4,327.2 372.5,326.1 371.5,324.8 C370.5,323.5 369.3,321.8 369.6,320.9Z" fill="none" stroke="rgb(250,220,150)" stroke-width="2.4"/><path d="M369.6,320.9 C369.9,320.0 371.8,319.6 373.4,319.5 C375.0,319.4 377.6,319.7 379.2,320.4 C380.8,321.2 381.9,322.5 383.1,323.8 C384.2,325.2 385.3,327.0 386.0,328.6 C386.6,330.3 387.1,332.2 386.9,333.5 C386.8,334.8 386.0,335.9 385.0,336.4 C384.0,336.8 382.4,336.8 381.1,336.4 C379.9,335.9 378.3,334.8 377.3,333.5 C376.3,332.2 376.3,330.1 375.4,328.6 C374.4,327.2 372.5,326.1 371.5,324.8 C370.5,323.5 369.3,321.8 369.6,320.9Z" fill="rgb(209,122,47)" stroke="rgb(180,85,30)" stroke-width="1.0"/><path d="M359.9,327.7 C361.1,326.2 365.2,327.4 366.7,328.2 C368.1,329.0 368.4,331.0 368.6,332.5 C368.8,334.0 368.3,336.4 367.6,337.3 C367.0,338.3 366.0,338.3 364.8,338.3 C363.5,338.3 360.7,339.1 359.9,337.3 C359.1,335.6 358.8,329.2 359.9,327.7Z" fill="none" stroke="rgb(250,220,150)" stroke-width="2.4"/><path d="M359.9,327.7 C361.1,326.2 365.2,327.4 366.7,328.2 C368.1,329.0 368.4,331.0 368.6,332.5 C368.8,334.0 368.3,336.4 367.6,337.3 C367.0,338.3 366.0,338.3 364.8,338.3 C363.5,338.3 360.7,339.1 359.9,337.3 C359.1,335.6 358.8,329.2 359.9,327.7Z" fill="rgb(209,122,47)" stroke="rgb(180,85,30)" stroke-width="1.0"/><path d="M370.5,347.9 C371.0,346.3 372.9,345.4 374.4,345.0 C375.8,344.7 377.6,345.4 379.2,346.0 C380.8,346.6 382.8,347.9 384.0,348.9 C385.3,349.9 386.4,350.3 386.9,351.8 C387.4,353.2 387.7,356.4 386.9,357.6 C386.1,358.7 384.0,358.5 382.1,358.5 C380.2,358.5 377.1,358.2 375.4,357.6 C373.6,356.9 372.3,356.3 371.5,354.7 C370.7,353.1 370.1,349.5 370.5,347.9Z" fill="none" stroke="rgb(250,220,150)" stroke-width="2.4"/><path d="M370.5,347.9 C371.0,346.3 372.9,345.4 374.4,345.0 C375.8,344.7 377.6,345.4 379.2,346.0 C380.8,346.6 382.8,347.9 384.0,348.9 C385.3,349.9 386.4,350.3 386.9,351.8 C387.4,353.2 387.7,356.4 386.9,357.6 C386.1,358.7 384.0,358.5 382.1,358.5 C380.2,358.5 377.1,358.2 375.4,357.6 C373.6,356.9 372.3,356.3 371.5,354.7 C370.7,353.1 370.1,349.5 370.5,347.9Z" fill="rgb(209,122,47)" stroke="rgb(180,85,30)" stroke-width="1.0"/><path d="M359.9,354.7 C361.1,353.6 365.7,355.2 366.7,356.6 C367.6,358.1 366.8,362.2 365.7,363.4 C364.6,364.5 360.9,364.8 359.9,363.4 C359.0,361.9 358.8,355.8 359.9,354.7Z" fill="none" stroke="rgb(250,220,150)" stroke-width="2.4"/><path d="M359.9,354.7 C361.1,353.6 365.7,355.2 366.7,356.6 C367.6,358.1 366.8,362.2 365.7,363.4 C364.6,364.5 360.9,364.8 359.9,363.4 C359.0,361.9 358.8,355.8 359.9,354.7Z" fill="rgb(209,122,47)" stroke="rgb(180,85,30)" stroke-width="1.0"/></g></g><g mask="url(#bz3)"><rect x="355" y="353" width="33.60000000000002" height="79" fill="rgb(243,198,118)"/><g filter="url(#fB05)"><path d="M359.9,355.1 C361.4,353.9 367.3,354.3 368.6,355.1 C369.9,355.9 368.3,358.8 367.6,359.9 C367.0,361.0 366.0,361.5 364.8,361.8 C363.5,362.1 360.7,362.9 359.9,361.8 C359.1,360.7 358.5,356.2 359.9,355.1Z" fill="none" stroke="rgb(250,220,150)" stroke-width="2.4"/><path d="M359.9,355.1 C361.4,353.9 367.3,354.3 368.6,355.1 C369.9,355.9 368.3,358.8 367.6,359.9 C367.0,361.0 366.0,361.5 364.8,361.8 C363.5,362.1 360.7,362.9 359.9,361.8 C359.1,360.7 358.5,356.2 359.9,355.1Z" fill="rgb(209,122,47)" stroke="rgb(180,85,30)" stroke-width="1.0"/><path d="M374.4,368.6 C375.2,367.6 378.3,367.1 380.2,366.6 C382.1,366.2 384.4,365.7 386.0,365.7 C387.6,365.7 389.2,364.9 389.8,366.6 C390.5,368.4 390.9,374.5 389.8,376.3 C388.7,378.1 385.0,377.4 383.1,377.3 C381.1,377.1 379.5,376.1 378.3,375.3 C377.0,374.5 376.0,373.6 375.4,372.4 C374.7,371.3 373.6,369.5 374.4,368.6Z" fill="none" stroke="rgb(250,220,150)" stroke-width="2.4"/><path d="M374.4,368.6 C375.2,367.6 378.3,367.1 380.2,366.6 C382.1,366.2 384.4,365.7 386.0,365.7 C387.6,365.7 389.2,364.9 389.8,366.6 C390.5,368.4 390.9,374.5 389.8,376.3 C388.7,378.1 385.0,377.4 383.1,377.3 C381.1,377.1 379.5,376.1 378.3,375.3 C377.0,374.5 376.0,373.6 375.4,372.4 C374.7,371.3 373.6,369.5 374.4,368.6Z" fill="rgb(209,122,47)" stroke="rgb(180,85,30)" stroke-width="1.0"/><path d="M359.9,377.3 C361.5,375.2 367.0,377.7 369.6,378.2 C372.1,378.7 374.2,379.5 375.4,380.1 C376.5,380.8 376.8,381.3 376.3,382.1 C375.8,382.9 373.4,383.8 372.5,385.0 C371.5,386.1 371.5,387.9 370.5,388.8 C369.6,389.8 368.4,390.4 366.7,390.8 C364.9,391.1 361.1,393.0 359.9,390.8 C358.8,388.5 358.3,379.3 359.9,377.3Z" fill="none" stroke="rgb(250,220,150)" stroke-width="2.4"/><path d="M359.9,377.3 C361.5,375.2 367.0,377.7 369.6,378.2 C372.1,378.7 374.2,379.5 375.4,380.1 C376.5,380.8 376.8,381.3 376.3,382.1 C375.8,382.9 373.4,383.8 372.5,385.0 C371.5,386.1 371.5,387.9 370.5,388.8 C369.6,389.8 368.4,390.4 366.7,390.8 C364.9,391.1 361.1,393.0 359.9,390.8 C358.8,388.5 358.3,379.3 359.9,377.3Z" fill="rgb(209,122,47)" stroke="rgb(180,85,30)" stroke-width="1.0"/><path d="M367.6,397.5 C369.7,396.5 371.2,395.3 372.5,394.6 C373.8,394.0 374.6,393.0 375.4,393.6 C376.2,394.3 376.6,397.2 377.3,398.5 C377.9,399.8 379.4,400.2 379.2,401.4 C379.1,402.5 376.6,403.9 376.3,405.2 C376.0,406.5 376.6,407.9 377.3,409.1 C377.9,410.2 379.1,411.2 380.2,412.0 C381.3,412.8 382.4,413.4 384.0,413.9 C385.6,414.4 388.9,412.8 389.8,414.9 C390.8,416.9 393.2,424.5 389.8,426.4 C386.4,428.4 373.3,427.7 369.6,426.4 C365.9,425.1 368.4,420.8 367.6,418.7 C366.8,416.6 366.0,415.2 364.8,413.9 C363.5,412.6 360.7,413.3 359.9,411.0 C359.1,408.8 358.6,402.6 359.9,400.4 C361.2,398.1 365.6,398.5 367.6,397.5Z" fill="none" stroke="rgb(250,220,150)" stroke-width="2.4"/><path d="M367.6,397.5 C369.7,396.5 371.2,395.3 372.5,394.6 C373.8,394.0 374.6,393.0 375.4,393.6 C376.2,394.3 376.6,397.2 377.3,398.5 C377.9,399.8 379.4,400.2 379.2,401.4 C379.1,402.5 376.6,403.9 376.3,405.2 C376.0,406.5 376.6,407.9 377.3,409.1 C377.9,410.2 379.1,411.2 380.2,412.0 C381.3,412.8 382.4,413.4 384.0,413.9 C385.6,414.4 388.9,412.8 389.8,414.9 C390.8,416.9 393.2,424.5 389.8,426.4 C386.4,428.4 373.3,427.7 369.6,426.4 C365.9,425.1 368.4,420.8 367.6,418.7 C366.8,416.6 366.0,415.2 364.8,413.9 C363.5,412.6 360.7,413.3 359.9,411.0 C359.1,408.8 358.6,402.6 359.9,400.4 C361.2,398.1 365.6,398.5 367.6,397.5Z" fill="rgb(209,122,47)" stroke="rgb(180,85,30)" stroke-width="1.0"/></g></g><rect x="569.5" y="155" width="60" height="275" fill="rgb(209,122,47)"/><g filter="url(#fB05)"><g clip-path="url(#cBR)"><path d="M574.3,171.5 C574.4,170.5 576.0,168.7 577.2,168.4 C578.3,168.1 579.7,168.7 581.0,169.6 C582.3,170.4 583.8,171.9 584.9,173.4 C586.0,175.0 586.6,177.2 587.8,178.7 C588.9,180.3 590.7,181.2 591.6,182.6 C592.5,184.0 593.2,185.5 593.3,186.9 C593.4,188.4 593.0,189.9 592.1,191.3 C591.2,192.6 588.3,193.9 587.8,195.1 C587.2,196.3 587.5,197.7 588.7,198.5 C589.9,199.3 592.8,199.6 595.0,200.0 C597.2,200.4 599.8,200.5 601.8,200.9 C603.7,201.3 605.3,201.6 606.6,202.4 C607.9,203.1 608.8,204.0 609.5,205.3 C610.1,206.6 610.3,208.5 610.4,210.1 C610.6,211.7 610.0,213.6 610.4,214.9 C610.9,216.2 612.4,216.8 613.3,217.8 C614.3,218.8 616.1,219.0 616.2,220.7 C616.4,222.4 616.1,226.8 614.3,228.0 C612.5,229.3 607.2,229.3 605.6,228.0 C604.0,226.8 605.3,222.4 604.7,220.7 C604.0,219.0 603.4,218.4 601.8,217.8 C600.2,217.2 597.1,217.3 595.0,216.8 C592.9,216.4 590.8,215.4 589.2,214.9 C587.6,214.4 586.8,213.8 585.4,213.9 C583.9,214.1 582.0,215.6 580.5,215.9 C579.1,216.2 577.6,216.4 576.7,215.9 C575.7,215.4 574.4,213.9 574.8,213.0 C575.1,212.0 577.3,211.2 578.6,210.1 C579.9,209.0 581.8,207.8 582.5,206.2 C583.1,204.6 582.6,202.2 582.5,200.4 C582.3,198.7 581.5,197.4 581.5,195.6 C581.5,193.9 582.1,191.9 582.5,189.8 C582.8,187.7 583.8,185.2 583.4,183.1 C583.1,181.0 581.7,178.7 580.5,177.3 C579.4,175.8 577.7,175.4 576.7,174.4 C575.6,173.4 574.2,172.5 574.3,171.5Z" fill="none" stroke="rgb(180,85,30)" stroke-width="2.2"/><path d="M600.8,167.2 C601.3,165.3 602.4,164.4 603.7,163.3 C605.0,162.3 606.4,161.5 608.5,160.9 C610.6,160.3 613.0,160.1 616.2,159.9 C619.4,159.8 625.9,157.2 627.8,159.9 C629.7,162.7 628.9,174.1 627.8,176.3 C626.8,178.6 623.1,174.7 621.5,173.4 C619.9,172.1 619.4,169.7 618.2,168.6 C617.0,167.6 615.7,167.2 614.3,167.2 C612.9,167.2 610.6,167.7 609.5,168.6 C608.4,169.5 608.1,170.9 607.5,172.5 C607.0,174.1 606.9,177.2 606.1,178.3 C605.3,179.3 603.6,179.4 602.7,178.7 C601.8,178.1 601.1,176.3 600.8,174.4 C600.5,172.5 600.3,169.0 600.8,167.2Z" fill="none" stroke="rgb(180,85,30)" stroke-width="2.2"/><path d="M612.9,198.5 C613.2,197.4 614.9,195.6 616.2,194.7 C617.6,193.7 619.1,193.1 621.1,192.7 C623.0,192.3 626.7,189.0 627.8,192.2 C628.9,195.5 628.8,208.1 627.8,212.0 C626.8,216.0 623.6,215.1 622.0,215.9 C620.4,216.7 619.4,217.0 618.2,216.8 C616.9,216.7 615.1,216.0 614.3,214.9 C613.5,213.8 613.2,211.5 613.3,210.1 C613.5,208.6 615.1,207.7 615.3,206.2 C615.4,204.8 614.7,202.7 614.3,201.4 C613.9,200.1 612.5,199.6 612.9,198.5Z" fill="none" stroke="rgb(180,85,30)" stroke-width="2.2"/><path d="M569.9,233.7 C570.6,232.7 572.2,232.4 573.8,231.8 C575.4,231.1 577.9,230.0 579.6,229.8 C581.3,229.7 583.1,229.8 583.9,230.8 C584.7,231.8 584.6,234.3 584.4,235.6 C584.2,236.9 583.6,237.9 582.5,238.5 C581.3,239.1 579.4,239.3 577.6,239.5 C575.9,239.6 573.1,239.8 571.9,239.5 C570.6,239.1 570.3,238.5 569.9,237.5 C569.6,236.6 569.3,234.6 569.9,233.7Z" fill="none" stroke="rgb(180,85,30)" stroke-width="2.2"/><path d="M586.8,244.8 C587.1,243.4 590.0,241.2 591.2,239.5 C592.3,237.7 592.7,235.3 593.6,234.2 C594.4,233.0 595.3,232.6 596.5,232.7 C597.6,232.8 598.9,234.2 600.3,234.6 C601.8,235.1 604.1,236.3 605.1,235.6 C606.2,235.0 606.1,232.4 606.6,230.8 C607.1,229.2 606.7,227.1 608.0,226.0 C609.3,224.8 612.9,223.2 614.3,224.0 C615.7,224.8 615.7,228.7 616.2,230.8 C616.7,232.9 617.2,234.6 617.2,236.6 C617.2,238.5 616.9,240.5 616.2,242.4 C615.6,244.2 614.5,246.1 613.3,247.7 C612.2,249.3 610.9,250.5 609.5,252.0 C608.0,253.5 605.8,255.2 604.7,256.8 C603.5,258.4 603.3,259.9 602.7,261.7 C602.2,263.4 601.9,265.7 601.3,267.4 C600.6,269.2 599.7,272.0 598.9,272.3 C598.1,272.5 597.1,270.3 596.5,268.9 C595.8,267.4 594.9,265.3 595.0,263.6 C595.1,261.9 596.3,260.4 596.9,258.8 C597.6,257.2 598.9,255.4 598.9,253.9 C598.9,252.5 597.9,251.1 596.9,250.1 C596.0,249.0 594.4,248.1 593.1,247.7 C591.8,247.3 590.3,248.2 589.2,247.7 C588.2,247.2 586.5,246.1 586.8,244.8Z" fill="none" stroke="rgb(180,85,30)" stroke-width="2.2"/><path d="M568.0,256.8 C569.9,250.6 576.4,257.8 579.6,257.8 C582.8,257.8 585.0,256.7 587.3,256.8 C589.5,257.0 592.4,257.6 593.1,258.8 C593.7,259.9 592.1,262.5 591.2,263.6 C590.2,264.7 588.1,264.5 587.3,265.5 C586.5,266.5 585.8,268.1 586.3,269.4 C586.8,270.7 589.1,271.6 590.2,273.2 C591.3,274.8 592.8,277.4 593.1,279.0 C593.4,280.6 593.1,281.6 592.1,282.9 C591.2,284.2 589.1,285.4 587.3,286.7 C585.5,288.0 583.4,289.2 581.5,290.6 C579.6,292.0 578.0,294.3 575.7,295.0 C573.5,295.8 569.3,301.4 568.0,295.0 C566.7,288.7 566.1,263.0 568.0,256.8Z" fill="none" stroke="rgb(180,85,30)" stroke-width="2.2"/><path d="M604.7,273.2 C604.8,271.3 605.6,269.1 606.6,267.4 C607.5,265.8 609.2,264.7 610.4,263.6 C611.7,262.5 613.0,261.7 614.3,260.7 C615.6,259.7 615.9,258.4 618.2,257.8 C620.4,257.2 626.2,252.0 627.8,256.8 C629.4,261.7 628.8,281.9 627.8,286.7 C626.8,291.6 623.6,286.4 622.0,285.8 C620.4,285.1 619.4,284.0 618.2,282.9 C616.9,281.8 615.7,279.7 614.3,279.0 C612.9,278.4 610.9,279.0 609.5,279.0 C608.0,279.0 606.4,280.0 605.6,279.0 C604.8,278.1 604.5,275.2 604.7,273.2Z" fill="none" stroke="rgb(180,85,30)" stroke-width="2.2"/><path d="M620.1,239.5 C621.1,237.5 626.5,235.0 627.8,236.6 C629.1,238.2 628.9,247.2 627.8,249.1 C626.8,251.0 622.8,249.8 621.5,248.2 C620.2,246.5 619.0,241.4 620.1,239.5Z" fill="none" stroke="rgb(180,85,30)" stroke-width="2.2"/><path d="M604.7,290.6 C605.3,289.4 606.9,288.0 608.5,287.7 C610.1,287.4 612.9,287.9 614.3,288.7 C615.7,289.5 616.9,291.5 617.2,292.5 C617.5,293.6 618.3,294.6 616.2,295.0 C614.1,295.4 606.6,295.8 604.7,295.0 C602.7,294.3 604.0,291.8 604.7,290.6Z" fill="none" stroke="rgb(180,85,30)" stroke-width="2.2"/><path d="M572.4,288.1 C573.7,286.9 579.3,287.2 579.9,288.1 C580.5,289.1 577.4,292.5 576.2,293.7 C574.9,295.0 573.1,296.5 572.4,295.6 C571.8,294.7 571.2,289.4 572.4,288.1Z" fill="none" stroke="rgb(180,85,30)" stroke-width="2.2"/><path d="M602.2,288.1 C604.7,287.2 615.0,287.2 617.1,288.1 C619.3,289.1 617.1,292.5 615.3,293.7 C613.4,295.0 608.1,295.6 606.0,295.6 C603.8,295.6 602.9,295.0 602.2,293.7 C601.6,292.5 599.8,289.1 602.2,288.1Z" fill="none" stroke="rgb(180,85,30)" stroke-width="2.2"/><path d="M572.4,312.3 C573.7,309.9 577.4,309.6 579.9,308.6 C582.4,307.7 586.4,308.0 587.3,306.8 C588.3,305.5 585.5,302.7 585.5,301.2 C585.5,299.6 585.8,298.4 587.3,297.4 C588.9,296.5 592.3,295.6 594.8,295.6 C597.3,295.6 600.1,296.5 602.2,297.4 C604.4,298.4 607.2,299.6 607.8,301.2 C608.5,302.7 607.2,305.2 606.0,306.8 C604.7,308.3 602.2,309.2 600.4,310.5 C598.5,311.7 596.7,313.3 594.8,314.2 C592.9,315.1 591.1,315.5 589.2,316.1 C587.3,316.7 585.5,317.0 583.6,317.9 C581.8,318.9 579.9,320.7 578.0,321.7 C576.2,322.6 573.4,325.1 572.4,323.5 C571.5,322.0 571.2,314.8 572.4,312.3Z" fill="none" stroke="rgb(180,85,30)" stroke-width="2.2"/><path d="M581.8,331.0 C582.7,329.4 586.7,328.5 589.2,327.2 C591.7,326.0 593.9,324.8 596.7,323.5 C599.5,322.3 603.2,320.7 606.0,319.8 C608.8,318.9 611.6,317.6 613.4,317.9 C615.3,318.2 617.1,320.1 617.1,321.7 C617.1,323.2 615.3,325.7 613.4,327.2 C611.6,328.8 607.8,329.7 606.0,331.0 C604.1,332.2 602.2,333.5 602.2,334.7 C602.2,335.9 603.8,337.5 606.0,338.4 C608.1,339.3 612.8,339.7 615.3,340.3 C617.8,340.9 619.9,340.9 620.9,342.1 C621.8,343.4 622.4,346.5 620.9,347.7 C619.3,349.0 614.7,349.6 611.6,349.6 C608.5,349.6 605.0,348.3 602.2,347.7 C599.5,347.1 596.7,345.6 594.8,345.9 C592.9,346.2 592.3,349.3 591.1,349.6 C589.8,349.9 588.3,349.0 587.3,347.7 C586.4,346.5 586.1,344.0 585.5,342.1 C584.9,340.3 584.2,338.4 583.6,336.6 C583.0,334.7 580.8,332.5 581.8,331.0Z" fill="none" stroke="rgb(180,85,30)" stroke-width="2.2"/><path d="M572.4,336.6 C573.4,335.3 576.5,335.9 578.0,336.6 C579.6,337.2 581.4,338.7 581.8,340.3 C582.1,341.8 580.8,344.9 579.9,345.9 C579.0,346.8 577.4,346.2 576.2,345.9 C574.9,345.6 573.1,345.6 572.4,344.0 C571.8,342.5 571.5,337.8 572.4,336.6Z" fill="none" stroke="rgb(180,85,30)" stroke-width="2.2"/><path d="M572.4,358.9 C573.7,357.0 578.0,356.7 579.9,357.0 C581.8,357.3 583.3,358.9 583.6,360.8 C583.9,362.6 583.0,366.7 581.8,368.2 C580.5,369.8 577.7,370.1 576.2,370.1 C574.6,370.1 573.1,370.1 572.4,368.2 C571.8,366.4 571.2,360.8 572.4,358.9Z" fill="none" stroke="rgb(180,85,30)" stroke-width="2.2"/><path d="M589.2,360.8 C590.5,359.5 593.9,358.3 596.7,357.0 C599.5,355.8 602.6,354.2 606.0,353.3 C609.4,352.4 613.4,351.5 617.1,351.5 C620.9,351.5 626.5,351.1 628.3,353.3 C630.2,355.5 630.2,362.3 628.3,364.5 C626.5,366.7 620.6,366.0 617.1,366.4 C613.7,366.7 610.6,366.0 607.8,366.4 C605.0,366.7 602.9,367.9 600.4,368.2 C597.9,368.5 594.8,368.8 592.9,368.2 C591.1,367.6 589.8,365.7 589.2,364.5 C588.6,363.2 588.0,362.0 589.2,360.8Z" fill="none" stroke="rgb(180,85,30)" stroke-width="2.2"/><path d="M581.8,385.0 C583.0,383.1 587.7,382.2 591.1,381.2 C594.5,380.3 599.1,380.3 602.2,379.4 C605.3,378.5 607.5,376.9 609.7,375.7 C611.9,374.4 613.4,371.6 615.3,371.9 C617.1,372.2 618.7,375.7 620.9,377.5 C623.0,379.4 627.1,380.3 628.3,383.1 C629.6,385.9 630.2,391.8 628.3,394.3 C626.5,396.8 621.5,397.4 617.1,398.0 C612.8,398.6 606.6,398.3 602.2,398.0 C597.9,397.7 594.2,397.1 591.1,396.1 C588.0,395.2 585.2,394.3 583.6,392.4 C582.1,390.6 580.5,386.8 581.8,385.0Z" fill="none" stroke="rgb(180,85,30)" stroke-width="2.2"/><path d="M615.3,321.7 C617.5,320.7 626.1,319.5 628.3,321.7 C630.5,323.8 629.9,332.8 628.3,334.7 C626.8,336.6 621.2,334.1 619.0,332.8 C616.8,331.6 615.9,329.1 615.3,327.2 C614.7,325.4 613.1,322.6 615.3,321.7Z" fill="none" stroke="rgb(180,85,30)" stroke-width="2.2"/><path d="M572.4,398.0 C573.7,396.5 578.0,398.0 579.9,399.9 C581.8,401.7 584.2,407.0 583.6,409.2 C583.0,411.4 578.0,412.9 576.2,412.9 C574.3,412.9 573.1,411.7 572.4,409.2 C571.8,406.7 571.2,399.6 572.4,398.0Z" fill="none" stroke="rgb(180,85,30)" stroke-width="2.2"/><path d="M587.3,405.5 C589.8,402.7 597.9,403.0 602.2,403.6 C606.6,404.2 610.3,406.4 613.4,409.2 C616.5,412.0 622.7,417.9 620.9,420.4 C619.0,422.8 607.8,424.1 602.2,424.1 C596.7,424.1 589.8,423.5 587.3,420.4 C584.9,417.3 584.9,408.2 587.3,405.5Z" fill="none" stroke="rgb(180,85,30)" stroke-width="2.2"/><path d="M574.3,171.5 C574.4,170.5 576.0,168.7 577.2,168.4 C578.3,168.1 579.7,168.7 581.0,169.6 C582.3,170.4 583.8,171.9 584.9,173.4 C586.0,175.0 586.6,177.2 587.8,178.7 C588.9,180.3 590.7,181.2 591.6,182.6 C592.5,184.0 593.2,185.5 593.3,186.9 C593.4,188.4 593.0,189.9 592.1,191.3 C591.2,192.6 588.3,193.9 587.8,195.1 C587.2,196.3 587.5,197.7 588.7,198.5 C589.9,199.3 592.8,199.6 595.0,200.0 C597.2,200.4 599.8,200.5 601.8,200.9 C603.7,201.3 605.3,201.6 606.6,202.4 C607.9,203.1 608.8,204.0 609.5,205.3 C610.1,206.6 610.3,208.5 610.4,210.1 C610.6,211.7 610.0,213.6 610.4,214.9 C610.9,216.2 612.4,216.8 613.3,217.8 C614.3,218.8 616.1,219.0 616.2,220.7 C616.4,222.4 616.1,226.8 614.3,228.0 C612.5,229.3 607.2,229.3 605.6,228.0 C604.0,226.8 605.3,222.4 604.7,220.7 C604.0,219.0 603.4,218.4 601.8,217.8 C600.2,217.2 597.1,217.3 595.0,216.8 C592.9,216.4 590.8,215.4 589.2,214.9 C587.6,214.4 586.8,213.8 585.4,213.9 C583.9,214.1 582.0,215.6 580.5,215.9 C579.1,216.2 577.6,216.4 576.7,215.9 C575.7,215.4 574.4,213.9 574.8,213.0 C575.1,212.0 577.3,211.2 578.6,210.1 C579.9,209.0 581.8,207.8 582.5,206.2 C583.1,204.6 582.6,202.2 582.5,200.4 C582.3,198.7 581.5,197.4 581.5,195.6 C581.5,193.9 582.1,191.9 582.5,189.8 C582.8,187.7 583.8,185.2 583.4,183.1 C583.1,181.0 581.7,178.7 580.5,177.3 C579.4,175.8 577.7,175.4 576.7,174.4 C575.6,173.4 574.2,172.5 574.3,171.5Z" fill="rgb(243,198,118)" stroke="rgb(243,198,118)" stroke-width="0.2"/><path d="M600.8,167.2 C601.3,165.3 602.4,164.4 603.7,163.3 C605.0,162.3 606.4,161.5 608.5,160.9 C610.6,160.3 613.0,160.1 616.2,159.9 C619.4,159.8 625.9,157.2 627.8,159.9 C629.7,162.7 628.9,174.1 627.8,176.3 C626.8,178.6 623.1,174.7 621.5,173.4 C619.9,172.1 619.4,169.7 618.2,168.6 C617.0,167.6 615.7,167.2 614.3,167.2 C612.9,167.2 610.6,167.7 609.5,168.6 C608.4,169.5 608.1,170.9 607.5,172.5 C607.0,174.1 606.9,177.2 606.1,178.3 C605.3,179.3 603.6,179.4 602.7,178.7 C601.8,178.1 601.1,176.3 600.8,174.4 C600.5,172.5 600.3,169.0 600.8,167.2Z" fill="rgb(243,198,118)" stroke="rgb(243,198,118)" stroke-width="0.2"/><path d="M612.9,198.5 C613.2,197.4 614.9,195.6 616.2,194.7 C617.6,193.7 619.1,193.1 621.1,192.7 C623.0,192.3 626.7,189.0 627.8,192.2 C628.9,195.5 628.8,208.1 627.8,212.0 C626.8,216.0 623.6,215.1 622.0,215.9 C620.4,216.7 619.4,217.0 618.2,216.8 C616.9,216.7 615.1,216.0 614.3,214.9 C613.5,213.8 613.2,211.5 613.3,210.1 C613.5,208.6 615.1,207.7 615.3,206.2 C615.4,204.8 614.7,202.7 614.3,201.4 C613.9,200.1 612.5,199.6 612.9,198.5Z" fill="rgb(243,198,118)" stroke="rgb(243,198,118)" stroke-width="0.2"/><path d="M569.9,233.7 C570.6,232.7 572.2,232.4 573.8,231.8 C575.4,231.1 577.9,230.0 579.6,229.8 C581.3,229.7 583.1,229.8 583.9,230.8 C584.7,231.8 584.6,234.3 584.4,235.6 C584.2,236.9 583.6,237.9 582.5,238.5 C581.3,239.1 579.4,239.3 577.6,239.5 C575.9,239.6 573.1,239.8 571.9,239.5 C570.6,239.1 570.3,238.5 569.9,237.5 C569.6,236.6 569.3,234.6 569.9,233.7Z" fill="rgb(243,198,118)" stroke="rgb(243,198,118)" stroke-width="0.2"/><path d="M586.8,244.8 C587.1,243.4 590.0,241.2 591.2,239.5 C592.3,237.7 592.7,235.3 593.6,234.2 C594.4,233.0 595.3,232.6 596.5,232.7 C597.6,232.8 598.9,234.2 600.3,234.6 C601.8,235.1 604.1,236.3 605.1,235.6 C606.2,235.0 606.1,232.4 606.6,230.8 C607.1,229.2 606.7,227.1 608.0,226.0 C609.3,224.8 612.9,223.2 614.3,224.0 C615.7,224.8 615.7,228.7 616.2,230.8 C616.7,232.9 617.2,234.6 617.2,236.6 C617.2,238.5 616.9,240.5 616.2,242.4 C615.6,244.2 614.5,246.1 613.3,247.7 C612.2,249.3 610.9,250.5 609.5,252.0 C608.0,253.5 605.8,255.2 604.7,256.8 C603.5,258.4 603.3,259.9 602.7,261.7 C602.2,263.4 601.9,265.7 601.3,267.4 C600.6,269.2 599.7,272.0 598.9,272.3 C598.1,272.5 597.1,270.3 596.5,268.9 C595.8,267.4 594.9,265.3 595.0,263.6 C595.1,261.9 596.3,260.4 596.9,258.8 C597.6,257.2 598.9,255.4 598.9,253.9 C598.9,252.5 597.9,251.1 596.9,250.1 C596.0,249.0 594.4,248.1 593.1,247.7 C591.8,247.3 590.3,248.2 589.2,247.7 C588.2,247.2 586.5,246.1 586.8,244.8Z" fill="rgb(243,198,118)" stroke="rgb(243,198,118)" stroke-width="0.2"/><path d="M568.0,256.8 C569.9,250.6 576.4,257.8 579.6,257.8 C582.8,257.8 585.0,256.7 587.3,256.8 C589.5,257.0 592.4,257.6 593.1,258.8 C593.7,259.9 592.1,262.5 591.2,263.6 C590.2,264.7 588.1,264.5 587.3,265.5 C586.5,266.5 585.8,268.1 586.3,269.4 C586.8,270.7 589.1,271.6 590.2,273.2 C591.3,274.8 592.8,277.4 593.1,279.0 C593.4,280.6 593.1,281.6 592.1,282.9 C591.2,284.2 589.1,285.4 587.3,286.7 C585.5,288.0 583.4,289.2 581.5,290.6 C579.6,292.0 578.0,294.3 575.7,295.0 C573.5,295.8 569.3,301.4 568.0,295.0 C566.7,288.7 566.1,263.0 568.0,256.8Z" fill="rgb(243,198,118)" stroke="rgb(243,198,118)" stroke-width="0.2"/><path d="M604.7,273.2 C604.8,271.3 605.6,269.1 606.6,267.4 C607.5,265.8 609.2,264.7 610.4,263.6 C611.7,262.5 613.0,261.7 614.3,260.7 C615.6,259.7 615.9,258.4 618.2,257.8 C620.4,257.2 626.2,252.0 627.8,256.8 C629.4,261.7 628.8,281.9 627.8,286.7 C626.8,291.6 623.6,286.4 622.0,285.8 C620.4,285.1 619.4,284.0 618.2,282.9 C616.9,281.8 615.7,279.7 614.3,279.0 C612.9,278.4 610.9,279.0 609.5,279.0 C608.0,279.0 606.4,280.0 605.6,279.0 C604.8,278.1 604.5,275.2 604.7,273.2Z" fill="rgb(243,198,118)" stroke="rgb(243,198,118)" stroke-width="0.2"/><path d="M620.1,239.5 C621.1,237.5 626.5,235.0 627.8,236.6 C629.1,238.2 628.9,247.2 627.8,249.1 C626.8,251.0 622.8,249.8 621.5,248.2 C620.2,246.5 619.0,241.4 620.1,239.5Z" fill="rgb(243,198,118)" stroke="rgb(243,198,118)" stroke-width="0.2"/><path d="M604.7,290.6 C605.3,289.4 606.9,288.0 608.5,287.7 C610.1,287.4 612.9,287.9 614.3,288.7 C615.7,289.5 616.9,291.5 617.2,292.5 C617.5,293.6 618.3,294.6 616.2,295.0 C614.1,295.4 606.6,295.8 604.7,295.0 C602.7,294.3 604.0,291.8 604.7,290.6Z" fill="rgb(243,198,118)" stroke="rgb(243,198,118)" stroke-width="0.2"/><path d="M572.4,288.1 C573.7,286.9 579.3,287.2 579.9,288.1 C580.5,289.1 577.4,292.5 576.2,293.7 C574.9,295.0 573.1,296.5 572.4,295.6 C571.8,294.7 571.2,289.4 572.4,288.1Z" fill="rgb(243,198,118)" stroke="rgb(243,198,118)" stroke-width="0.2"/><path d="M602.2,288.1 C604.7,287.2 615.0,287.2 617.1,288.1 C619.3,289.1 617.1,292.5 615.3,293.7 C613.4,295.0 608.1,295.6 606.0,295.6 C603.8,295.6 602.9,295.0 602.2,293.7 C601.6,292.5 599.8,289.1 602.2,288.1Z" fill="rgb(243,198,118)" stroke="rgb(243,198,118)" stroke-width="0.2"/><path d="M572.4,312.3 C573.7,309.9 577.4,309.6 579.9,308.6 C582.4,307.7 586.4,308.0 587.3,306.8 C588.3,305.5 585.5,302.7 585.5,301.2 C585.5,299.6 585.8,298.4 587.3,297.4 C588.9,296.5 592.3,295.6 594.8,295.6 C597.3,295.6 600.1,296.5 602.2,297.4 C604.4,298.4 607.2,299.6 607.8,301.2 C608.5,302.7 607.2,305.2 606.0,306.8 C604.7,308.3 602.2,309.2 600.4,310.5 C598.5,311.7 596.7,313.3 594.8,314.2 C592.9,315.1 591.1,315.5 589.2,316.1 C587.3,316.7 585.5,317.0 583.6,317.9 C581.8,318.9 579.9,320.7 578.0,321.7 C576.2,322.6 573.4,325.1 572.4,323.5 C571.5,322.0 571.2,314.8 572.4,312.3Z" fill="rgb(243,198,118)" stroke="rgb(243,198,118)" stroke-width="0.2"/><path d="M581.8,331.0 C582.7,329.4 586.7,328.5 589.2,327.2 C591.7,326.0 593.9,324.8 596.7,323.5 C599.5,322.3 603.2,320.7 606.0,319.8 C608.8,318.9 611.6,317.6 613.4,317.9 C615.3,318.2 617.1,320.1 617.1,321.7 C617.1,323.2 615.3,325.7 613.4,327.2 C611.6,328.8 607.8,329.7 606.0,331.0 C604.1,332.2 602.2,333.5 602.2,334.7 C602.2,335.9 603.8,337.5 606.0,338.4 C608.1,339.3 612.8,339.7 615.3,340.3 C617.8,340.9 619.9,340.9 620.9,342.1 C621.8,343.4 622.4,346.5 620.9,347.7 C619.3,349.0 614.7,349.6 611.6,349.6 C608.5,349.6 605.0,348.3 602.2,347.7 C599.5,347.1 596.7,345.6 594.8,345.9 C592.9,346.2 592.3,349.3 591.1,349.6 C589.8,349.9 588.3,349.0 587.3,347.7 C586.4,346.5 586.1,344.0 585.5,342.1 C584.9,340.3 584.2,338.4 583.6,336.6 C583.0,334.7 580.8,332.5 581.8,331.0Z" fill="rgb(243,198,118)" stroke="rgb(243,198,118)" stroke-width="0.2"/><path d="M572.4,336.6 C573.4,335.3 576.5,335.9 578.0,336.6 C579.6,337.2 581.4,338.7 581.8,340.3 C582.1,341.8 580.8,344.9 579.9,345.9 C579.0,346.8 577.4,346.2 576.2,345.9 C574.9,345.6 573.1,345.6 572.4,344.0 C571.8,342.5 571.5,337.8 572.4,336.6Z" fill="rgb(243,198,118)" stroke="rgb(243,198,118)" stroke-width="0.2"/><path d="M572.4,358.9 C573.7,357.0 578.0,356.7 579.9,357.0 C581.8,357.3 583.3,358.9 583.6,360.8 C583.9,362.6 583.0,366.7 581.8,368.2 C580.5,369.8 577.7,370.1 576.2,370.1 C574.6,370.1 573.1,370.1 572.4,368.2 C571.8,366.4 571.2,360.8 572.4,358.9Z" fill="rgb(243,198,118)" stroke="rgb(243,198,118)" stroke-width="0.2"/><path d="M589.2,360.8 C590.5,359.5 593.9,358.3 596.7,357.0 C599.5,355.8 602.6,354.2 606.0,353.3 C609.4,352.4 613.4,351.5 617.1,351.5 C620.9,351.5 626.5,351.1 628.3,353.3 C630.2,355.5 630.2,362.3 628.3,364.5 C626.5,366.7 620.6,366.0 617.1,366.4 C613.7,366.7 610.6,366.0 607.8,366.4 C605.0,366.7 602.9,367.9 600.4,368.2 C597.9,368.5 594.8,368.8 592.9,368.2 C591.1,367.6 589.8,365.7 589.2,364.5 C588.6,363.2 588.0,362.0 589.2,360.8Z" fill="rgb(243,198,118)" stroke="rgb(243,198,118)" stroke-width="0.2"/><path d="M581.8,385.0 C583.0,383.1 587.7,382.2 591.1,381.2 C594.5,380.3 599.1,380.3 602.2,379.4 C605.3,378.5 607.5,376.9 609.7,375.7 C611.9,374.4 613.4,371.6 615.3,371.9 C617.1,372.2 618.7,375.7 620.9,377.5 C623.0,379.4 627.1,380.3 628.3,383.1 C629.6,385.9 630.2,391.8 628.3,394.3 C626.5,396.8 621.5,397.4 617.1,398.0 C612.8,398.6 606.6,398.3 602.2,398.0 C597.9,397.7 594.2,397.1 591.1,396.1 C588.0,395.2 585.2,394.3 583.6,392.4 C582.1,390.6 580.5,386.8 581.8,385.0Z" fill="rgb(243,198,118)" stroke="rgb(243,198,118)" stroke-width="0.2"/><path d="M615.3,321.7 C617.5,320.7 626.1,319.5 628.3,321.7 C630.5,323.8 629.9,332.8 628.3,334.7 C626.8,336.6 621.2,334.1 619.0,332.8 C616.8,331.6 615.9,329.1 615.3,327.2 C614.7,325.4 613.1,322.6 615.3,321.7Z" fill="rgb(243,198,118)" stroke="rgb(243,198,118)" stroke-width="0.2"/><path d="M572.4,398.0 C573.7,396.5 578.0,398.0 579.9,399.9 C581.8,401.7 584.2,407.0 583.6,409.2 C583.0,411.4 578.0,412.9 576.2,412.9 C574.3,412.9 573.1,411.7 572.4,409.2 C571.8,406.7 571.2,399.6 572.4,398.0Z" fill="rgb(243,198,118)" stroke="rgb(243,198,118)" stroke-width="0.2"/><path d="M587.3,405.5 C589.8,402.7 597.9,403.0 602.2,403.6 C606.6,404.2 610.3,406.4 613.4,409.2 C616.5,412.0 622.7,417.9 620.9,420.4 C619.0,422.8 607.8,424.1 602.2,424.1 C596.7,424.1 589.8,423.5 587.3,420.4 C584.9,417.3 584.9,408.2 587.3,405.5Z" fill="rgb(243,198,118)" stroke="rgb(243,198,118)" stroke-width="0.2"/><path d="M574.3,171.5 C574.4,170.5 576.0,168.7 577.2,168.4 C578.3,168.1 579.7,168.7 581.0,169.6 C582.3,170.4 583.8,171.9 584.9,173.4 C586.0,175.0 586.6,177.2 587.8,178.7 C588.9,180.3 590.7,181.2 591.6,182.6 C592.5,184.0 593.2,185.5 593.3,186.9 C593.4,188.4 593.0,189.9 592.1,191.3 C591.2,192.6 588.3,193.9 587.8,195.1 C587.2,196.3 587.5,197.7 588.7,198.5 C589.9,199.3 592.8,199.6 595.0,200.0 C597.2,200.4 599.8,200.5 601.8,200.9 C603.7,201.3 605.3,201.6 606.6,202.4 C607.9,203.1 608.8,204.0 609.5,205.3 C610.1,206.6 610.3,208.5 610.4,210.1 C610.6,211.7 610.0,213.6 610.4,214.9 C610.9,216.2 612.4,216.8 613.3,217.8 C614.3,218.8 616.1,219.0 616.2,220.7 C616.4,222.4 616.1,226.8 614.3,228.0 C612.5,229.3 607.2,229.3 605.6,228.0 C604.0,226.8 605.3,222.4 604.7,220.7 C604.0,219.0 603.4,218.4 601.8,217.8 C600.2,217.2 597.1,217.3 595.0,216.8 C592.9,216.4 590.8,215.4 589.2,214.9 C587.6,214.4 586.8,213.8 585.4,213.9 C583.9,214.1 582.0,215.6 580.5,215.9 C579.1,216.2 577.6,216.4 576.7,215.9 C575.7,215.4 574.4,213.9 574.8,213.0 C575.1,212.0 577.3,211.2 578.6,210.1 C579.9,209.0 581.8,207.8 582.5,206.2 C583.1,204.6 582.6,202.2 582.5,200.4 C582.3,198.7 581.5,197.4 581.5,195.6 C581.5,193.9 582.1,191.9 582.5,189.8 C582.8,187.7 583.8,185.2 583.4,183.1 C583.1,181.0 581.7,178.7 580.5,177.3 C579.4,175.8 577.7,175.4 576.7,174.4 C575.6,173.4 574.2,172.5 574.3,171.5Z" fill="none" stroke="rgb(250,220,150)" stroke-width="0.8" transform="translate(0,0)"/><path d="M600.8,167.2 C601.3,165.3 602.4,164.4 603.7,163.3 C605.0,162.3 606.4,161.5 608.5,160.9 C610.6,160.3 613.0,160.1 616.2,159.9 C619.4,159.8 625.9,157.2 627.8,159.9 C629.7,162.7 628.9,174.1 627.8,176.3 C626.8,178.6 623.1,174.7 621.5,173.4 C619.9,172.1 619.4,169.7 618.2,168.6 C617.0,167.6 615.7,167.2 614.3,167.2 C612.9,167.2 610.6,167.7 609.5,168.6 C608.4,169.5 608.1,170.9 607.5,172.5 C607.0,174.1 606.9,177.2 606.1,178.3 C605.3,179.3 603.6,179.4 602.7,178.7 C601.8,178.1 601.1,176.3 600.8,174.4 C600.5,172.5 600.3,169.0 600.8,167.2Z" fill="none" stroke="rgb(250,220,150)" stroke-width="0.8" transform="translate(0,0)"/><path d="M612.9,198.5 C613.2,197.4 614.9,195.6 616.2,194.7 C617.6,193.7 619.1,193.1 621.1,192.7 C623.0,192.3 626.7,189.0 627.8,192.2 C628.9,195.5 628.8,208.1 627.8,212.0 C626.8,216.0 623.6,215.1 622.0,215.9 C620.4,216.7 619.4,217.0 618.2,216.8 C616.9,216.7 615.1,216.0 614.3,214.9 C613.5,213.8 613.2,211.5 613.3,210.1 C613.5,208.6 615.1,207.7 615.3,206.2 C615.4,204.8 614.7,202.7 614.3,201.4 C613.9,200.1 612.5,199.6 612.9,198.5Z" fill="none" stroke="rgb(250,220,150)" stroke-width="0.8" transform="translate(0,0)"/><path d="M569.9,233.7 C570.6,232.7 572.2,232.4 573.8,231.8 C575.4,231.1 577.9,230.0 579.6,229.8 C581.3,229.7 583.1,229.8 583.9,230.8 C584.7,231.8 584.6,234.3 584.4,235.6 C584.2,236.9 583.6,237.9 582.5,238.5 C581.3,239.1 579.4,239.3 577.6,239.5 C575.9,239.6 573.1,239.8 571.9,239.5 C570.6,239.1 570.3,238.5 569.9,237.5 C569.6,236.6 569.3,234.6 569.9,233.7Z" fill="none" stroke="rgb(250,220,150)" stroke-width="0.8" transform="translate(0,0)"/><path d="M586.8,244.8 C587.1,243.4 590.0,241.2 591.2,239.5 C592.3,237.7 592.7,235.3 593.6,234.2 C594.4,233.0 595.3,232.6 596.5,232.7 C597.6,232.8 598.9,234.2 600.3,234.6 C601.8,235.1 604.1,236.3 605.1,235.6 C606.2,235.0 606.1,232.4 606.6,230.8 C607.1,229.2 606.7,227.1 608.0,226.0 C609.3,224.8 612.9,223.2 614.3,224.0 C615.7,224.8 615.7,228.7 616.2,230.8 C616.7,232.9 617.2,234.6 617.2,236.6 C617.2,238.5 616.9,240.5 616.2,242.4 C615.6,244.2 614.5,246.1 613.3,247.7 C612.2,249.3 610.9,250.5 609.5,252.0 C608.0,253.5 605.8,255.2 604.7,256.8 C603.5,258.4 603.3,259.9 602.7,261.7 C602.2,263.4 601.9,265.7 601.3,267.4 C600.6,269.2 599.7,272.0 598.9,272.3 C598.1,272.5 597.1,270.3 596.5,268.9 C595.8,267.4 594.9,265.3 595.0,263.6 C595.1,261.9 596.3,260.4 596.9,258.8 C597.6,257.2 598.9,255.4 598.9,253.9 C598.9,252.5 597.9,251.1 596.9,250.1 C596.0,249.0 594.4,248.1 593.1,247.7 C591.8,247.3 590.3,248.2 589.2,247.7 C588.2,247.2 586.5,246.1 586.8,244.8Z" fill="none" stroke="rgb(250,220,150)" stroke-width="0.8" transform="translate(0,0)"/><path d="M568.0,256.8 C569.9,250.6 576.4,257.8 579.6,257.8 C582.8,257.8 585.0,256.7 587.3,256.8 C589.5,257.0 592.4,257.6 593.1,258.8 C593.7,259.9 592.1,262.5 591.2,263.6 C590.2,264.7 588.1,264.5 587.3,265.5 C586.5,266.5 585.8,268.1 586.3,269.4 C586.8,270.7 589.1,271.6 590.2,273.2 C591.3,274.8 592.8,277.4 593.1,279.0 C593.4,280.6 593.1,281.6 592.1,282.9 C591.2,284.2 589.1,285.4 587.3,286.7 C585.5,288.0 583.4,289.2 581.5,290.6 C579.6,292.0 578.0,294.3 575.7,295.0 C573.5,295.8 569.3,301.4 568.0,295.0 C566.7,288.7 566.1,263.0 568.0,256.8Z" fill="none" stroke="rgb(250,220,150)" stroke-width="0.8" transform="translate(0,0)"/><path d="M604.7,273.2 C604.8,271.3 605.6,269.1 606.6,267.4 C607.5,265.8 609.2,264.7 610.4,263.6 C611.7,262.5 613.0,261.7 614.3,260.7 C615.6,259.7 615.9,258.4 618.2,257.8 C620.4,257.2 626.2,252.0 627.8,256.8 C629.4,261.7 628.8,281.9 627.8,286.7 C626.8,291.6 623.6,286.4 622.0,285.8 C620.4,285.1 619.4,284.0 618.2,282.9 C616.9,281.8 615.7,279.7 614.3,279.0 C612.9,278.4 610.9,279.0 609.5,279.0 C608.0,279.0 606.4,280.0 605.6,279.0 C604.8,278.1 604.5,275.2 604.7,273.2Z" fill="none" stroke="rgb(250,220,150)" stroke-width="0.8" transform="translate(0,0)"/><path d="M620.1,239.5 C621.1,237.5 626.5,235.0 627.8,236.6 C629.1,238.2 628.9,247.2 627.8,249.1 C626.8,251.0 622.8,249.8 621.5,248.2 C620.2,246.5 619.0,241.4 620.1,239.5Z" fill="none" stroke="rgb(250,220,150)" stroke-width="0.8" transform="translate(0,0)"/><path d="M604.7,290.6 C605.3,289.4 606.9,288.0 608.5,287.7 C610.1,287.4 612.9,287.9 614.3,288.7 C615.7,289.5 616.9,291.5 617.2,292.5 C617.5,293.6 618.3,294.6 616.2,295.0 C614.1,295.4 606.6,295.8 604.7,295.0 C602.7,294.3 604.0,291.8 604.7,290.6Z" fill="none" stroke="rgb(250,220,150)" stroke-width="0.8" transform="translate(0,0)"/><path d="M572.4,288.1 C573.7,286.9 579.3,287.2 579.9,288.1 C580.5,289.1 577.4,292.5 576.2,293.7 C574.9,295.0 573.1,296.5 572.4,295.6 C571.8,294.7 571.2,289.4 572.4,288.1Z" fill="none" stroke="rgb(250,220,150)" stroke-width="0.8" transform="translate(0,0)"/><path d="M602.2,288.1 C604.7,287.2 615.0,287.2 617.1,288.1 C619.3,289.1 617.1,292.5 615.3,293.7 C613.4,295.0 608.1,295.6 606.0,295.6 C603.8,295.6 602.9,295.0 602.2,293.7 C601.6,292.5 599.8,289.1 602.2,288.1Z" fill="none" stroke="rgb(250,220,150)" stroke-width="0.8" transform="translate(0,0)"/><path d="M572.4,312.3 C573.7,309.9 577.4,309.6 579.9,308.6 C582.4,307.7 586.4,308.0 587.3,306.8 C588.3,305.5 585.5,302.7 585.5,301.2 C585.5,299.6 585.8,298.4 587.3,297.4 C588.9,296.5 592.3,295.6 594.8,295.6 C597.3,295.6 600.1,296.5 602.2,297.4 C604.4,298.4 607.2,299.6 607.8,301.2 C608.5,302.7 607.2,305.2 606.0,306.8 C604.7,308.3 602.2,309.2 600.4,310.5 C598.5,311.7 596.7,313.3 594.8,314.2 C592.9,315.1 591.1,315.5 589.2,316.1 C587.3,316.7 585.5,317.0 583.6,317.9 C581.8,318.9 579.9,320.7 578.0,321.7 C576.2,322.6 573.4,325.1 572.4,323.5 C571.5,322.0 571.2,314.8 572.4,312.3Z" fill="none" stroke="rgb(250,220,150)" stroke-width="0.8" transform="translate(0,0)"/><path d="M581.8,331.0 C582.7,329.4 586.7,328.5 589.2,327.2 C591.7,326.0 593.9,324.8 596.7,323.5 C599.5,322.3 603.2,320.7 606.0,319.8 C608.8,318.9 611.6,317.6 613.4,317.9 C615.3,318.2 617.1,320.1 617.1,321.7 C617.1,323.2 615.3,325.7 613.4,327.2 C611.6,328.8 607.8,329.7 606.0,331.0 C604.1,332.2 602.2,333.5 602.2,334.7 C602.2,335.9 603.8,337.5 606.0,338.4 C608.1,339.3 612.8,339.7 615.3,340.3 C617.8,340.9 619.9,340.9 620.9,342.1 C621.8,343.4 622.4,346.5 620.9,347.7 C619.3,349.0 614.7,349.6 611.6,349.6 C608.5,349.6 605.0,348.3 602.2,347.7 C599.5,347.1 596.7,345.6 594.8,345.9 C592.9,346.2 592.3,349.3 591.1,349.6 C589.8,349.9 588.3,349.0 587.3,347.7 C586.4,346.5 586.1,344.0 585.5,342.1 C584.9,340.3 584.2,338.4 583.6,336.6 C583.0,334.7 580.8,332.5 581.8,331.0Z" fill="none" stroke="rgb(250,220,150)" stroke-width="0.8" transform="translate(0,0)"/><path d="M572.4,336.6 C573.4,335.3 576.5,335.9 578.0,336.6 C579.6,337.2 581.4,338.7 581.8,340.3 C582.1,341.8 580.8,344.9 579.9,345.9 C579.0,346.8 577.4,346.2 576.2,345.9 C574.9,345.6 573.1,345.6 572.4,344.0 C571.8,342.5 571.5,337.8 572.4,336.6Z" fill="none" stroke="rgb(250,220,150)" stroke-width="0.8" transform="translate(0,0)"/><path d="M572.4,358.9 C573.7,357.0 578.0,356.7 579.9,357.0 C581.8,357.3 583.3,358.9 583.6,360.8 C583.9,362.6 583.0,366.7 581.8,368.2 C580.5,369.8 577.7,370.1 576.2,370.1 C574.6,370.1 573.1,370.1 572.4,368.2 C571.8,366.4 571.2,360.8 572.4,358.9Z" fill="none" stroke="rgb(250,220,150)" stroke-width="0.8" transform="translate(0,0)"/><path d="M589.2,360.8 C590.5,359.5 593.9,358.3 596.7,357.0 C599.5,355.8 602.6,354.2 606.0,353.3 C609.4,352.4 613.4,351.5 617.1,351.5 C620.9,351.5 626.5,351.1 628.3,353.3 C630.2,355.5 630.2,362.3 628.3,364.5 C626.5,366.7 620.6,366.0 617.1,366.4 C613.7,366.7 610.6,366.0 607.8,366.4 C605.0,366.7 602.9,367.9 600.4,368.2 C597.9,368.5 594.8,368.8 592.9,368.2 C591.1,367.6 589.8,365.7 589.2,364.5 C588.6,363.2 588.0,362.0 589.2,360.8Z" fill="none" stroke="rgb(250,220,150)" stroke-width="0.8" transform="translate(0,0)"/><path d="M581.8,385.0 C583.0,383.1 587.7,382.2 591.1,381.2 C594.5,380.3 599.1,380.3 602.2,379.4 C605.3,378.5 607.5,376.9 609.7,375.7 C611.9,374.4 613.4,371.6 615.3,371.9 C617.1,372.2 618.7,375.7 620.9,377.5 C623.0,379.4 627.1,380.3 628.3,383.1 C629.6,385.9 630.2,391.8 628.3,394.3 C626.5,396.8 621.5,397.4 617.1,398.0 C612.8,398.6 606.6,398.3 602.2,398.0 C597.9,397.7 594.2,397.1 591.1,396.1 C588.0,395.2 585.2,394.3 583.6,392.4 C582.1,390.6 580.5,386.8 581.8,385.0Z" fill="none" stroke="rgb(250,220,150)" stroke-width="0.8" transform="translate(0,0)"/><path d="M615.3,321.7 C617.5,320.7 626.1,319.5 628.3,321.7 C630.5,323.8 629.9,332.8 628.3,334.7 C626.8,336.6 621.2,334.1 619.0,332.8 C616.8,331.6 615.9,329.1 615.3,327.2 C614.7,325.4 613.1,322.6 615.3,321.7Z" fill="none" stroke="rgb(250,220,150)" stroke-width="0.8" transform="translate(0,0)"/><path d="M572.4,398.0 C573.7,396.5 578.0,398.0 579.9,399.9 C581.8,401.7 584.2,407.0 583.6,409.2 C583.0,411.4 578.0,412.9 576.2,412.9 C574.3,412.9 573.1,411.7 572.4,409.2 C571.8,406.7 571.2,399.6 572.4,398.0Z" fill="none" stroke="rgb(250,220,150)" stroke-width="0.8" transform="translate(0,0)"/><path d="M587.3,405.5 C589.8,402.7 597.9,403.0 602.2,403.6 C606.6,404.2 610.3,406.4 613.4,409.2 C616.5,412.0 622.7,417.9 620.9,420.4 C619.0,422.8 607.8,424.1 602.2,424.1 C596.7,424.1 589.8,423.5 587.3,420.4 C584.9,417.3 584.9,408.2 587.3,405.5Z" fill="none" stroke="rgb(250,220,150)" stroke-width="0.8" transform="translate(0,0)"/></g></g><g mask="url(#mSpk1)"><rect x="386" y="160" width="42" height="265" filter="url(#fSpk1)"/></g><g mask="url(#mSpk2)"><rect x="526" y="160" width="46" height="265" filter="url(#fSpk2)"/><rect x="526" y="160" width="46" height="265" fill="url(#gSpk2L)"/></g><rect x="361" y="160" width="265" height="265" filter="url(#fScan)" opacity="0.15"/><g filter="url(#fB05)"><polygon points="451.6,175.7 468.9,167.0 475.4,171.4 466.7,178.9" fill="rgb(252,240,220)"/><polygon points="462.6,161.7 481.4,161.7 478.8,172.1 470.1,174.2" fill="rgb(252,240,220)"/><polygon points="478.1,161.8 499.0,161.8 492.1,170.0 483.4,174.3" fill="rgb(252,240,220)"/><polygon points="467.6,176.8 484.8,174.6 482.7,187.6 471.9,189.7" fill="rgb(252,240,220)"/><polygon points="483.3,172.9 496.2,170.8 494.0,183.7 485.4,185.9" fill="rgb(252,240,220)"/><polygon points="456.1,190.4 469.1,186.1 471.2,199.0 460.4,202.3" fill="rgb(252,240,220)"/><polygon points="469.5,188.3 486.7,188.3 484.6,199.1 473.8,201.2" fill="rgb(252,240,220)"/><polygon points="485.2,184.1 498.1,188.4 496.0,199.2 487.3,199.2" fill="rgb(252,240,220)"/><polygon points="458.2,201.8 468.9,199.7 473.3,212.6 460.3,214.8" fill="rgb(252,240,220)"/><polygon points="471.5,199.9 484.5,197.7 486.6,210.7 475.8,212.8" fill="rgb(252,240,220)"/><polygon points="483.1,197.7 496.1,199.9 497.1,210.7 487.4,212.8" fill="rgb(252,240,220)"/><polygon points="460.1,215.4 470.9,213.2 475.2,226.1 462.2,226.1" fill="rgb(252,240,220)"/><polygon points="469.5,211.3 486.7,211.3 484.6,224.2 473.8,226.4" fill="rgb(252,240,220)"/><polygon points="485.3,211.5 496.1,209.3 493.9,220.1 487.5,224.5" fill="rgb(252,240,220)"/><polygon points="473.7,184.9 484.5,182.7 480.2,191.4" fill="rgb(252,240,220)"/><polygon points="464.4,178.7 470.8,183.0 466.5,189.5" fill="rgb(252,240,220)"/><polygon points="472.4,233.2 487.8,231.3 493.6,237.1 485.9,244.8 476.2,244.8" fill="rgb(246,215,165)"/><polygon points="468.5,244.8 480.1,246.7 476.2,256.3 470.5,258.3" fill="rgb(246,215,165)"/><polygon points="468.5,267.9 491.7,260.2 480.1,271.8 472.4,275.6" fill="rgb(246,215,165)"/><polygon points="470.5,279.5 480.1,283.3 476.2,291.0" fill="rgb(246,215,165)"/><polygon points="474.3,291.0 487.8,294.9 478.2,298.7" fill="rgb(246,215,165)"/><polygon points="491.7,273.7 501.3,283.3 495.5,281.4" fill="rgb(246,215,165)"/><polygon points="455.0,190.8 462.8,188.9 460.8,196.6" fill="rgb(246,215,165)"/><line x1="468.5" y1="165.8" x2="471.4" y2="171.6" stroke="rgb(90,30,10)" stroke-width="1.3" stroke-linecap="round"/><line x1="476.2" y1="163.9" x2="478.2" y2="170.6" stroke="rgb(90,30,10)" stroke-width="1.3" stroke-linecap="round"/><line x1="485.9" y1="167.7" x2="487.8" y2="171.6" stroke="rgb(90,30,10)" stroke-width="1.3" stroke-linecap="round"/><line x1="470.5" y1="177.3" x2="471.4" y2="185.0" stroke="rgb(90,30,10)" stroke-width="1.3" stroke-linecap="round"/><line x1="480.1" y1="187.0" x2="482.0" y2="192.8" stroke="rgb(90,30,10)" stroke-width="1.3" stroke-linecap="round"/><line x1="487.8" y1="181.2" x2="485.9" y2="185.0" stroke="rgb(90,30,10)" stroke-width="1.3" stroke-linecap="round"/><line x1="462.8" y1="188.9" x2="466.6" y2="192.8" stroke="rgb(90,30,10)" stroke-width="1.3" stroke-linecap="round"/><line x1="483.9" y1="196.6" x2="485.9" y2="202.4" stroke="rgb(90,30,10)" stroke-width="1.3" stroke-linecap="round"/><line x1="493.6" y1="194.7" x2="495.5" y2="200.5" stroke="rgb(90,30,10)" stroke-width="1.3" stroke-linecap="round"/><line x1="460.8" y1="200.5" x2="464.7" y2="203.4" stroke="rgb(90,30,10)" stroke-width="1.3" stroke-linecap="round"/><line x1="481.1" y1="208.2" x2="483.0" y2="213.9" stroke="rgb(90,30,10)" stroke-width="1.3" stroke-linecap="round"/><line x1="468.5" y1="210.1" x2="471.4" y2="213.9" stroke="rgb(90,30,10)" stroke-width="1.3" stroke-linecap="round"/><line x1="489.7" y1="213.9" x2="493.6" y2="212.0" stroke="rgb(90,30,10)" stroke-width="1.3" stroke-linecap="round"/><line x1="480.1" y1="221.7" x2="483.0" y2="227.4" stroke="rgb(90,30,10)" stroke-width="1.3" stroke-linecap="round"/><line x1="469.5" y1="225.5" x2="471.4" y2="228.4" stroke="rgb(90,30,10)" stroke-width="1.3" stroke-linecap="round"/><line x1="485.9" y1="233.2" x2="483.9" y2="239.0" stroke="rgb(90,30,10)" stroke-width="1.3" stroke-linecap="round"/><line x1="478.2" y1="237.1" x2="482.0" y2="240.9" stroke="rgb(90,30,10)" stroke-width="1.3" stroke-linecap="round"/><line x1="487.8" y1="242.9" x2="491.7" y2="248.6" stroke="rgb(90,30,10)" stroke-width="1.3" stroke-linecap="round"/><line x1="473.4" y1="248.6" x2="476.2" y2="254.4" stroke="rgb(90,30,10)" stroke-width="1.3" stroke-linecap="round"/><line x1="480.1" y1="248.6" x2="482.0" y2="252.5" stroke="rgb(90,30,10)" stroke-width="1.3" stroke-linecap="round"/><line x1="472.4" y1="273.7" x2="476.2" y2="277.5" stroke="rgb(90,30,10)" stroke-width="1.3" stroke-linecap="round"/><line x1="478.2" y1="279.5" x2="481.1" y2="285.2" stroke="rgb(90,30,10)" stroke-width="1.3" stroke-linecap="round"/><line x1="474.3" y1="267.9" x2="477.2" y2="271.8" stroke="rgb(90,30,10)" stroke-width="1.3" stroke-linecap="round"/><line x1="464.7" y1="167.7" x2="466.6" y2="173.5" stroke="rgb(90,30,10)" stroke-width="1.3" stroke-linecap="round"/><line x1="491.7" y1="171.6" x2="493.6" y2="177.3" stroke="rgb(90,30,10)" stroke-width="1.3" stroke-linecap="round"/><line x1="475.3" y1="196.6" x2="478.2" y2="201.4" stroke="rgb(90,30,10)" stroke-width="1.3" stroke-linecap="round"/></g><rect x="361" y="160" width="265" height="265" filter="url(#fGrainB)" opacity="0.3"/></g><rect x="361.5" y="160.8" width="263.2" height="262.2" fill="none" stroke="#111" stroke-width="1.5"/><g clip-path="url(#cC)"><rect x="355" y="455" width="275" height="270" fill="rgb(227,149,60)"/><g filter="url(#fBlur6)" opacity="0.3"><rect x="470" y="470" width="28" height="150" fill="rgb(236,170,85)"/></g><g mask="url(#mMot)"><rect x="455" y="458" width="60" height="170" filter="url(#fMottle)"/></g><g mask="url(#cz355_455)"><rect x="355" y="455" width="77.5" height="85" fill="rgb(237,181,90)"/><g filter="url(#fWallC)"><path d="M374.2,456.9 C381.7,456.4 412.1,456.0 419.6,456.9 C427.1,457.8 419.7,460.7 419.2,462.3 C418.7,464.0 417.0,465.0 416.4,466.7 C415.7,468.3 416.2,471.0 415.3,472.1 C414.4,473.2 412.2,473.3 411.0,473.2 C409.7,473.0 408.6,472.1 407.7,471.0 C406.8,469.9 406.5,467.7 405.6,466.7 C404.6,465.6 404.1,465.2 402.3,464.7 C400.5,464.2 397.4,463.7 394.7,463.6 C392.0,463.6 388.6,464.0 386.1,464.3 C383.5,464.6 381.2,465.6 379.6,465.6 C377.9,465.5 377.2,464.9 376.3,464.0 C375.4,463.1 374.5,461.3 374.2,460.2 C373.8,459.0 366.6,457.5 374.2,456.9Z" fill="none" stroke="rgb(250,215,140)" stroke-width="3.8"/><path d="M357.9,456.9 C359.2,455.7 364.3,456.3 365.5,456.9 C366.7,457.5 365.5,459.6 365.0,460.7 C364.4,461.8 363.4,462.9 362.2,463.4 C361.1,464.0 358.6,465.0 357.9,464.0 C357.2,462.9 356.7,458.1 357.9,456.9Z" fill="none" stroke="rgb(250,215,140)" stroke-width="3.8"/><path d="M357.9,474.2 C359.0,472.3 362.9,473.7 364.4,474.2 C365.9,474.8 366.6,476.2 367.1,477.5 C367.7,478.7 367.9,480.6 367.7,481.8 C367.4,483.1 366.6,484.3 365.5,485.1 C364.4,485.9 362.4,486.5 361.2,486.7 C359.9,486.9 358.5,488.2 357.9,486.1 C357.4,484.1 356.8,476.2 357.9,474.2Z" fill="none" stroke="rgb(250,215,140)" stroke-width="3.8"/><path d="M368.7,485.1 C369.7,484.3 372.6,483.6 374.2,484.0 C375.7,484.3 377.6,486.1 377.9,487.2 C378.3,488.3 377.5,489.9 376.3,490.5 C375.1,491.0 372.3,490.8 370.9,490.5 C369.6,490.1 368.6,489.2 368.2,488.3 C367.8,487.4 367.8,485.8 368.7,485.1Z" fill="none" stroke="rgb(250,215,140)" stroke-width="3.8"/><path d="M373.1,503.5 C373.1,502.4 372.4,501.9 373.6,501.3 C374.9,500.7 378.8,500.4 380.7,499.7 C382.5,499.0 384.1,498.1 385.0,497.0 C385.9,495.8 386.1,494.1 386.1,492.6 C386.1,491.2 385.3,490.5 385.0,488.3 C384.6,486.1 384.0,482.5 383.9,479.7 C383.8,476.8 383.4,472.6 384.4,471.0 C385.5,469.4 389.1,468.5 390.4,469.9 C391.7,471.4 391.7,476.6 392.0,479.7 C392.4,482.7 392.0,486.3 392.6,488.3 C393.1,490.3 394.5,490.3 395.3,491.6 C396.1,492.8 397.3,494.3 397.4,495.9 C397.5,497.5 396.4,499.7 395.8,501.3 C395.2,502.9 394.5,504.6 393.6,505.6 C392.7,506.7 391.5,507.3 390.4,507.8 C389.3,508.3 388.0,508.0 387.1,508.9 C386.2,509.8 386.1,512.2 385.0,513.2 C383.9,514.2 382.3,515.0 380.7,514.8 C379.0,514.7 376.4,513.3 375.2,512.1 C374.1,511.0 374.0,509.2 373.6,507.8 C373.3,506.4 373.1,504.6 373.1,503.5Z" fill="none" stroke="rgb(250,215,140)" stroke-width="3.8"/><path d="M404.5,486.1 C405.0,484.8 406.6,482.9 407.7,482.4 C408.8,481.8 410.1,481.9 411.0,482.9 C411.9,483.9 412.8,486.0 413.1,488.3 C413.5,490.7 413.5,494.4 413.1,497.0 C412.8,499.5 411.9,501.5 411.0,503.5 C410.1,505.5 408.8,507.4 407.7,508.9 C406.6,510.3 405.7,511.0 404.5,512.1 C403.2,513.2 401.8,514.3 400.1,515.4 C398.5,516.5 396.2,517.4 394.7,518.6 C393.3,519.9 392.4,523.0 391.5,523.0 C390.6,523.0 389.3,520.1 389.3,518.6 C389.3,517.2 390.2,515.9 391.5,514.3 C392.7,512.7 395.1,510.5 396.9,508.9 C398.7,507.3 400.7,506.0 402.3,504.6 C403.9,503.1 405.9,502.0 406.6,500.2 C407.4,498.4 407.0,495.3 406.6,493.7 C406.3,492.1 404.8,491.7 404.5,490.5 C404.1,489.2 403.9,487.5 404.5,486.1Z" fill="none" stroke="rgb(250,215,140)" stroke-width="3.8"/><path d="M357.9,492.6 C359.0,491.3 363.1,492.8 364.4,493.7 C365.7,494.6 365.6,496.8 365.5,498.1 C365.4,499.3 365.1,500.7 363.9,501.3 C362.6,501.9 358.9,503.3 357.9,501.8 C356.9,500.4 356.8,494.0 357.9,492.6Z" fill="none" stroke="rgb(250,215,140)" stroke-width="3.8"/><path d="M357.9,510.0 C358.8,509.0 362.3,510.1 363.3,511.0 C364.3,511.9 364.8,514.4 363.9,515.4 C363.0,516.4 358.9,517.9 357.9,517.0 C356.9,516.1 357.0,511.0 357.9,510.0Z" fill="none" stroke="rgb(250,215,140)" stroke-width="3.8"/><path d="M357.9,521.9 C359.2,519.5 363.1,520.6 365.5,520.8 C367.8,521.0 370.0,522.2 372.0,523.0 C374.0,523.7 375.4,524.9 377.4,525.1 C379.4,525.3 382.5,523.7 383.9,524.0 C385.3,524.4 386.4,526.4 386.1,527.3 C385.7,528.2 383.5,528.7 381.7,529.5 C379.9,530.2 377.0,530.7 375.2,531.6 C373.4,532.6 373.8,534.5 370.9,535.1 C368.0,535.7 360.1,537.3 357.9,535.1 C355.8,532.9 356.7,524.3 357.9,521.9Z" fill="none" stroke="rgb(250,215,140)" stroke-width="3.8"/><path d="M402.3,525.1 C403.7,523.1 405.9,523.5 407.7,523.0 C409.5,522.4 411.1,521.9 413.1,521.9 C415.1,521.9 417.8,522.4 419.6,523.0 C421.4,523.5 422.9,523.1 424.0,525.1 C425.0,527.1 430.3,533.4 426.1,535.1 C422.0,536.7 403.0,536.7 399.1,535.1 C395.1,533.4 400.9,527.1 402.3,525.1Z" fill="none" stroke="rgb(250,215,140)" stroke-width="3.8"/><path d="M374.2,456.9 C381.7,456.4 412.1,456.0 419.6,456.9 C427.1,457.8 419.7,460.7 419.2,462.3 C418.7,464.0 417.0,465.0 416.4,466.7 C415.7,468.3 416.2,471.0 415.3,472.1 C414.4,473.2 412.2,473.3 411.0,473.2 C409.7,473.0 408.6,472.1 407.7,471.0 C406.8,469.9 406.5,467.7 405.6,466.7 C404.6,465.6 404.1,465.2 402.3,464.7 C400.5,464.2 397.4,463.7 394.7,463.6 C392.0,463.6 388.6,464.0 386.1,464.3 C383.5,464.6 381.2,465.6 379.6,465.6 C377.9,465.5 377.2,464.9 376.3,464.0 C375.4,463.1 374.5,461.3 374.2,460.2 C373.8,459.0 366.6,457.5 374.2,456.9Z" fill="none" stroke="rgb(165,62,22)" stroke-width="2.4"/><path d="M357.9,456.9 C359.2,455.7 364.3,456.3 365.5,456.9 C366.7,457.5 365.5,459.6 365.0,460.7 C364.4,461.8 363.4,462.9 362.2,463.4 C361.1,464.0 358.6,465.0 357.9,464.0 C357.2,462.9 356.7,458.1 357.9,456.9Z" fill="none" stroke="rgb(165,62,22)" stroke-width="2.4"/><path d="M357.9,474.2 C359.0,472.3 362.9,473.7 364.4,474.2 C365.9,474.8 366.6,476.2 367.1,477.5 C367.7,478.7 367.9,480.6 367.7,481.8 C367.4,483.1 366.6,484.3 365.5,485.1 C364.4,485.9 362.4,486.5 361.2,486.7 C359.9,486.9 358.5,488.2 357.9,486.1 C357.4,484.1 356.8,476.2 357.9,474.2Z" fill="none" stroke="rgb(165,62,22)" stroke-width="2.4"/><path d="M368.7,485.1 C369.7,484.3 372.6,483.6 374.2,484.0 C375.7,484.3 377.6,486.1 377.9,487.2 C378.3,488.3 377.5,489.9 376.3,490.5 C375.1,491.0 372.3,490.8 370.9,490.5 C369.6,490.1 368.6,489.2 368.2,488.3 C367.8,487.4 367.8,485.8 368.7,485.1Z" fill="none" stroke="rgb(165,62,22)" stroke-width="2.4"/><path d="M373.1,503.5 C373.1,502.4 372.4,501.9 373.6,501.3 C374.9,500.7 378.8,500.4 380.7,499.7 C382.5,499.0 384.1,498.1 385.0,497.0 C385.9,495.8 386.1,494.1 386.1,492.6 C386.1,491.2 385.3,490.5 385.0,488.3 C384.6,486.1 384.0,482.5 383.9,479.7 C383.8,476.8 383.4,472.6 384.4,471.0 C385.5,469.4 389.1,468.5 390.4,469.9 C391.7,471.4 391.7,476.6 392.0,479.7 C392.4,482.7 392.0,486.3 392.6,488.3 C393.1,490.3 394.5,490.3 395.3,491.6 C396.1,492.8 397.3,494.3 397.4,495.9 C397.5,497.5 396.4,499.7 395.8,501.3 C395.2,502.9 394.5,504.6 393.6,505.6 C392.7,506.7 391.5,507.3 390.4,507.8 C389.3,508.3 388.0,508.0 387.1,508.9 C386.2,509.8 386.1,512.2 385.0,513.2 C383.9,514.2 382.3,515.0 380.7,514.8 C379.0,514.7 376.4,513.3 375.2,512.1 C374.1,511.0 374.0,509.2 373.6,507.8 C373.3,506.4 373.1,504.6 373.1,503.5Z" fill="none" stroke="rgb(165,62,22)" stroke-width="2.4"/><path d="M404.5,486.1 C405.0,484.8 406.6,482.9 407.7,482.4 C408.8,481.8 410.1,481.9 411.0,482.9 C411.9,483.9 412.8,486.0 413.1,488.3 C413.5,490.7 413.5,494.4 413.1,497.0 C412.8,499.5 411.9,501.5 411.0,503.5 C410.1,505.5 408.8,507.4 407.7,508.9 C406.6,510.3 405.7,511.0 404.5,512.1 C403.2,513.2 401.8,514.3 400.1,515.4 C398.5,516.5 396.2,517.4 394.7,518.6 C393.3,519.9 392.4,523.0 391.5,523.0 C390.6,523.0 389.3,520.1 389.3,518.6 C389.3,517.2 390.2,515.9 391.5,514.3 C392.7,512.7 395.1,510.5 396.9,508.9 C398.7,507.3 400.7,506.0 402.3,504.6 C403.9,503.1 405.9,502.0 406.6,500.2 C407.4,498.4 407.0,495.3 406.6,493.7 C406.3,492.1 404.8,491.7 404.5,490.5 C404.1,489.2 403.9,487.5 404.5,486.1Z" fill="none" stroke="rgb(165,62,22)" stroke-width="2.4"/><path d="M357.9,492.6 C359.0,491.3 363.1,492.8 364.4,493.7 C365.7,494.6 365.6,496.8 365.5,498.1 C365.4,499.3 365.1,500.7 363.9,501.3 C362.6,501.9 358.9,503.3 357.9,501.8 C356.9,500.4 356.8,494.0 357.9,492.6Z" fill="none" stroke="rgb(165,62,22)" stroke-width="2.4"/><path d="M357.9,510.0 C358.8,509.0 362.3,510.1 363.3,511.0 C364.3,511.9 364.8,514.4 363.9,515.4 C363.0,516.4 358.9,517.9 357.9,517.0 C356.9,516.1 357.0,511.0 357.9,510.0Z" fill="none" stroke="rgb(165,62,22)" stroke-width="2.4"/><path d="M357.9,521.9 C359.2,519.5 363.1,520.6 365.5,520.8 C367.8,521.0 370.0,522.2 372.0,523.0 C374.0,523.7 375.4,524.9 377.4,525.1 C379.4,525.3 382.5,523.7 383.9,524.0 C385.3,524.4 386.4,526.4 386.1,527.3 C385.7,528.2 383.5,528.7 381.7,529.5 C379.9,530.2 377.0,530.7 375.2,531.6 C373.4,532.6 373.8,534.5 370.9,535.1 C368.0,535.7 360.1,537.3 357.9,535.1 C355.8,532.9 356.7,524.3 357.9,521.9Z" fill="none" stroke="rgb(165,62,22)" stroke-width="2.4"/><path d="M402.3,525.1 C403.7,523.1 405.9,523.5 407.7,523.0 C409.5,522.4 411.1,521.9 413.1,521.9 C415.1,521.9 417.8,522.4 419.6,523.0 C421.4,523.5 422.9,523.1 424.0,525.1 C425.0,527.1 430.3,533.4 426.1,535.1 C422.0,536.7 403.0,536.7 399.1,535.1 C395.1,533.4 400.9,527.1 402.3,525.1Z" fill="none" stroke="rgb(165,62,22)" stroke-width="2.4"/><path d="M374.2,456.9 C381.7,456.4 412.1,456.0 419.6,456.9 C427.1,457.8 419.7,460.7 419.2,462.3 C418.7,464.0 417.0,465.0 416.4,466.7 C415.7,468.3 416.2,471.0 415.3,472.1 C414.4,473.2 412.2,473.3 411.0,473.2 C409.7,473.0 408.6,472.1 407.7,471.0 C406.8,469.9 406.5,467.7 405.6,466.7 C404.6,465.6 404.1,465.2 402.3,464.7 C400.5,464.2 397.4,463.7 394.7,463.6 C392.0,463.6 388.6,464.0 386.1,464.3 C383.5,464.6 381.2,465.6 379.6,465.6 C377.9,465.5 377.2,464.9 376.3,464.0 C375.4,463.1 374.5,461.3 374.2,460.2 C373.8,459.0 366.6,457.5 374.2,456.9Z" fill="rgb(201,93,38)" stroke="rgb(201,93,38)" stroke-width="1.0"/><path d="M357.9,456.9 C359.2,455.7 364.3,456.3 365.5,456.9 C366.7,457.5 365.5,459.6 365.0,460.7 C364.4,461.8 363.4,462.9 362.2,463.4 C361.1,464.0 358.6,465.0 357.9,464.0 C357.2,462.9 356.7,458.1 357.9,456.9Z" fill="rgb(201,93,38)" stroke="rgb(201,93,38)" stroke-width="1.0"/><path d="M357.9,474.2 C359.0,472.3 362.9,473.7 364.4,474.2 C365.9,474.8 366.6,476.2 367.1,477.5 C367.7,478.7 367.9,480.6 367.7,481.8 C367.4,483.1 366.6,484.3 365.5,485.1 C364.4,485.9 362.4,486.5 361.2,486.7 C359.9,486.9 358.5,488.2 357.9,486.1 C357.4,484.1 356.8,476.2 357.9,474.2Z" fill="rgb(201,93,38)" stroke="rgb(201,93,38)" stroke-width="1.0"/><path d="M368.7,485.1 C369.7,484.3 372.6,483.6 374.2,484.0 C375.7,484.3 377.6,486.1 377.9,487.2 C378.3,488.3 377.5,489.9 376.3,490.5 C375.1,491.0 372.3,490.8 370.9,490.5 C369.6,490.1 368.6,489.2 368.2,488.3 C367.8,487.4 367.8,485.8 368.7,485.1Z" fill="rgb(201,93,38)" stroke="rgb(201,93,38)" stroke-width="1.0"/><path d="M373.1,503.5 C373.1,502.4 372.4,501.9 373.6,501.3 C374.9,500.7 378.8,500.4 380.7,499.7 C382.5,499.0 384.1,498.1 385.0,497.0 C385.9,495.8 386.1,494.1 386.1,492.6 C386.1,491.2 385.3,490.5 385.0,488.3 C384.6,486.1 384.0,482.5 383.9,479.7 C383.8,476.8 383.4,472.6 384.4,471.0 C385.5,469.4 389.1,468.5 390.4,469.9 C391.7,471.4 391.7,476.6 392.0,479.7 C392.4,482.7 392.0,486.3 392.6,488.3 C393.1,490.3 394.5,490.3 395.3,491.6 C396.1,492.8 397.3,494.3 397.4,495.9 C397.5,497.5 396.4,499.7 395.8,501.3 C395.2,502.9 394.5,504.6 393.6,505.6 C392.7,506.7 391.5,507.3 390.4,507.8 C389.3,508.3 388.0,508.0 387.1,508.9 C386.2,509.8 386.1,512.2 385.0,513.2 C383.9,514.2 382.3,515.0 380.7,514.8 C379.0,514.7 376.4,513.3 375.2,512.1 C374.1,511.0 374.0,509.2 373.6,507.8 C373.3,506.4 373.1,504.6 373.1,503.5Z" fill="rgb(201,93,38)" stroke="rgb(201,93,38)" stroke-width="1.0"/><path d="M404.5,486.1 C405.0,484.8 406.6,482.9 407.7,482.4 C408.8,481.8 410.1,481.9 411.0,482.9 C411.9,483.9 412.8,486.0 413.1,488.3 C413.5,490.7 413.5,494.4 413.1,497.0 C412.8,499.5 411.9,501.5 411.0,503.5 C410.1,505.5 408.8,507.4 407.7,508.9 C406.6,510.3 405.7,511.0 404.5,512.1 C403.2,513.2 401.8,514.3 400.1,515.4 C398.5,516.5 396.2,517.4 394.7,518.6 C393.3,519.9 392.4,523.0 391.5,523.0 C390.6,523.0 389.3,520.1 389.3,518.6 C389.3,517.2 390.2,515.9 391.5,514.3 C392.7,512.7 395.1,510.5 396.9,508.9 C398.7,507.3 400.7,506.0 402.3,504.6 C403.9,503.1 405.9,502.0 406.6,500.2 C407.4,498.4 407.0,495.3 406.6,493.7 C406.3,492.1 404.8,491.7 404.5,490.5 C404.1,489.2 403.9,487.5 404.5,486.1Z" fill="rgb(201,93,38)" stroke="rgb(201,93,38)" stroke-width="1.0"/><path d="M357.9,492.6 C359.0,491.3 363.1,492.8 364.4,493.7 C365.7,494.6 365.6,496.8 365.5,498.1 C365.4,499.3 365.1,500.7 363.9,501.3 C362.6,501.9 358.9,503.3 357.9,501.8 C356.9,500.4 356.8,494.0 357.9,492.6Z" fill="rgb(201,93,38)" stroke="rgb(201,93,38)" stroke-width="1.0"/><path d="M357.9,510.0 C358.8,509.0 362.3,510.1 363.3,511.0 C364.3,511.9 364.8,514.4 363.9,515.4 C363.0,516.4 358.9,517.9 357.9,517.0 C356.9,516.1 357.0,511.0 357.9,510.0Z" fill="rgb(201,93,38)" stroke="rgb(201,93,38)" stroke-width="1.0"/><path d="M357.9,521.9 C359.2,519.5 363.1,520.6 365.5,520.8 C367.8,521.0 370.0,522.2 372.0,523.0 C374.0,523.7 375.4,524.9 377.4,525.1 C379.4,525.3 382.5,523.7 383.9,524.0 C385.3,524.4 386.4,526.4 386.1,527.3 C385.7,528.2 383.5,528.7 381.7,529.5 C379.9,530.2 377.0,530.7 375.2,531.6 C373.4,532.6 373.8,534.5 370.9,535.1 C368.0,535.7 360.1,537.3 357.9,535.1 C355.8,532.9 356.7,524.3 357.9,521.9Z" fill="rgb(201,93,38)" stroke="rgb(201,93,38)" stroke-width="1.0"/><path d="M402.3,525.1 C403.7,523.1 405.9,523.5 407.7,523.0 C409.5,522.4 411.1,521.9 413.1,521.9 C415.1,521.9 417.8,522.4 419.6,523.0 C421.4,523.5 422.9,523.1 424.0,525.1 C425.0,527.1 430.3,533.4 426.1,535.1 C422.0,536.7 403.0,536.7 399.1,535.1 C395.1,533.4 400.9,527.1 402.3,525.1Z" fill="rgb(201,93,38)" stroke="rgb(201,93,38)" stroke-width="1.0"/></g></g><g mask="url(#cz355_532)"><rect x="355" y="526" width="77.5" height="85" fill="rgb(201,93,38)"/><g filter="url(#fWallC)"><path d="M370.9,527.8 C373.6,526.9 384.6,526.8 387.1,527.8 C389.7,528.9 386.8,532.7 386.1,534.3 C385.3,536.0 384.3,536.9 382.8,537.6 C381.4,538.2 379.0,538.4 377.4,538.1 C375.8,537.8 374.2,536.8 373.1,536.0 C372.0,535.1 371.3,534.6 370.9,533.2 C370.5,531.9 368.2,528.7 370.9,527.8Z" fill="rgb(237,181,90)" stroke="rgb(250,215,140)" stroke-width="1.0"/><path d="M361.2,535.4 C362.4,536.3 363.3,539.0 364.4,540.8 C365.5,542.6 366.6,544.9 367.7,546.2 C368.7,547.6 369.8,549.3 370.9,548.9 C372.0,548.6 373.1,545.2 374.2,544.1 C375.2,542.9 375.8,542.4 377.4,541.9 C379.0,541.4 381.9,541.7 383.9,540.8 C385.9,539.9 388.0,537.9 389.3,536.5 C390.6,535.1 390.6,533.6 391.5,532.2 C392.4,530.7 393.6,528.6 394.7,527.8 C395.8,527.1 397.4,526.4 398.0,527.8 C398.5,529.3 398.2,534.0 398.0,536.5 C397.8,539.0 397.3,541.0 396.9,543.0 C396.5,545.0 396.7,547.1 395.8,548.4 C394.9,549.7 393.1,550.0 391.5,550.6 C389.9,551.1 387.9,551.2 386.1,551.7 C384.3,552.1 382.3,552.7 380.7,553.3 C379.0,553.8 377.8,553.9 376.3,554.9 C374.9,555.9 373.1,558.0 372.0,559.2 C370.9,560.5 370.0,561.2 369.8,562.5 C369.6,563.7 370.4,565.5 370.9,566.8 C371.4,568.1 372.9,569.2 373.1,570.1 C373.3,571.0 373.3,571.7 372.0,572.2 C370.7,572.8 368.0,573.3 365.5,573.3 C363.0,573.3 358.3,578.5 356.8,572.2 C355.4,565.9 356.1,541.5 356.8,535.4 C357.6,529.3 359.9,534.5 361.2,535.4Z" fill="rgb(237,181,90)" stroke="rgb(250,215,140)" stroke-width="1.0"/><path d="M378.5,566.8 C379.4,565.7 382.5,564.1 385.0,563.6 C387.5,563.0 391.1,563.9 393.6,563.6 C396.2,563.2 399.1,563.7 400.1,561.4 C401.2,559.0 399.8,551.5 400.1,549.5 C400.5,547.5 401.4,548.8 402.3,549.5 C403.2,550.2 404.5,551.7 405.6,553.8 C406.6,556.0 408.3,559.6 408.8,562.5 C409.3,565.4 408.6,568.8 408.8,571.1 C409.0,573.5 409.5,574.7 409.9,576.6 C410.2,578.4 410.1,580.3 411.0,582.0 C411.9,583.6 413.9,585.9 415.3,586.3 C416.7,586.7 418.5,583.4 419.6,584.1 C420.7,584.9 421.8,588.5 421.8,590.6 C421.8,592.8 420.3,594.2 419.6,597.1 C418.9,600.0 420.7,606.1 417.5,607.9 C414.2,609.8 403.4,609.0 400.1,607.9 C396.9,606.9 398.5,604.0 398.0,601.5 C397.4,598.9 397.3,595.3 396.9,592.8 C396.5,590.3 396.3,587.9 395.8,586.3 C395.3,584.7 395.1,583.4 393.6,583.0 C392.2,582.7 389.0,583.4 387.1,584.1 C385.3,584.9 383.9,586.1 382.8,587.4 C381.7,588.6 382.1,590.4 380.7,591.7 C379.2,593.0 376.1,594.1 374.2,595.0 C372.2,595.9 370.4,597.1 368.7,597.1 C367.1,597.1 365.3,596.0 364.4,595.0 C363.5,593.9 364.6,592.1 363.3,590.6 C362.1,589.2 357.9,588.1 356.8,586.3 C355.8,584.5 355.0,581.2 356.8,579.8 C358.6,578.4 364.8,577.8 367.7,577.6 C370.5,577.5 372.0,578.7 374.2,578.7 C376.3,578.7 378.8,578.2 380.7,577.6 C382.5,577.1 384.3,576.4 385.0,575.5 C385.7,574.6 385.9,573.1 385.0,572.2 C384.1,571.3 380.7,571.0 379.6,570.1 C378.5,569.2 377.6,567.9 378.5,566.8Z" fill="rgb(237,181,90)" stroke="rgb(250,215,140)" stroke-width="1.0"/><path d="M411.0,547.3 C411.5,545.9 413.1,545.2 414.2,546.2 C415.3,547.3 416.7,551.5 417.5,553.8 C418.2,556.2 418.5,558.1 418.5,560.3 C418.6,562.5 418.2,564.6 418.0,566.8 C417.8,569.0 417.9,571.9 417.5,573.3 C417.0,574.7 415.8,576.4 415.3,575.5 C414.8,574.6 414.6,570.2 414.2,567.9 C413.9,565.5 413.7,563.6 413.1,561.4 C412.6,559.2 411.3,557.2 411.0,554.9 C410.6,552.6 410.4,548.8 411.0,547.3Z" fill="rgb(237,181,90)" stroke="rgb(250,215,140)" stroke-width="1.0"/><path d="M420.7,540.8 C421.6,538.7 424.9,536.1 426.1,536.5 C427.4,536.9 428.1,540.5 428.3,543.0 C428.5,545.5 427.9,549.3 427.2,551.7 C426.5,554.0 424.7,554.7 424.0,557.1 C423.2,559.4 423.2,563.0 422.9,565.7 C422.5,568.4 422.2,573.3 421.8,573.3 C421.4,573.3 420.8,568.4 420.7,565.7 C420.6,563.0 421.2,559.8 421.2,557.1 C421.2,554.4 420.8,552.2 420.7,549.5 C420.6,546.8 419.8,543.0 420.7,540.8Z" fill="rgb(237,181,90)" stroke="rgb(250,215,140)" stroke-width="1.0"/><path d="M425.0,527.8 C425.6,525.7 431.4,514.5 432.6,527.8 C433.9,541.2 434.1,594.6 432.6,607.9 C431.2,621.3 425.4,610.1 424.0,607.9 C422.5,605.8 423.6,598.9 424.0,595.0 C424.3,591.0 425.9,587.7 426.1,584.1 C426.3,580.5 425.0,576.9 425.0,573.3 C425.0,569.7 425.6,566.1 426.1,562.5 C426.7,558.9 427.7,555.3 428.3,551.7 C428.8,548.0 429.9,544.8 429.4,540.8 C428.8,536.9 424.5,530.0 425.0,527.8Z" fill="rgb(237,181,90)" stroke="rgb(250,215,140)" stroke-width="1.0"/><path d="M370.9,527.8 C373.6,526.9 384.6,526.8 387.1,527.8 C389.7,528.9 386.8,532.7 386.1,534.3 C385.3,536.0 384.3,536.9 382.8,537.6 C381.4,538.2 379.0,538.4 377.4,538.1 C375.8,537.8 374.2,536.8 373.1,536.0 C372.0,535.1 371.3,534.6 370.9,533.2 C370.5,531.9 368.2,528.7 370.9,527.8Z" fill="none" stroke="rgb(165,62,22)" stroke-width="1.4" stroke-opacity="0.9"/><path d="M361.2,535.4 C362.4,536.3 363.3,539.0 364.4,540.8 C365.5,542.6 366.6,544.9 367.7,546.2 C368.7,547.6 369.8,549.3 370.9,548.9 C372.0,548.6 373.1,545.2 374.2,544.1 C375.2,542.9 375.8,542.4 377.4,541.9 C379.0,541.4 381.9,541.7 383.9,540.8 C385.9,539.9 388.0,537.9 389.3,536.5 C390.6,535.1 390.6,533.6 391.5,532.2 C392.4,530.7 393.6,528.6 394.7,527.8 C395.8,527.1 397.4,526.4 398.0,527.8 C398.5,529.3 398.2,534.0 398.0,536.5 C397.8,539.0 397.3,541.0 396.9,543.0 C396.5,545.0 396.7,547.1 395.8,548.4 C394.9,549.7 393.1,550.0 391.5,550.6 C389.9,551.1 387.9,551.2 386.1,551.7 C384.3,552.1 382.3,552.7 380.7,553.3 C379.0,553.8 377.8,553.9 376.3,554.9 C374.9,555.9 373.1,558.0 372.0,559.2 C370.9,560.5 370.0,561.2 369.8,562.5 C369.6,563.7 370.4,565.5 370.9,566.8 C371.4,568.1 372.9,569.2 373.1,570.1 C373.3,571.0 373.3,571.7 372.0,572.2 C370.7,572.8 368.0,573.3 365.5,573.3 C363.0,573.3 358.3,578.5 356.8,572.2 C355.4,565.9 356.1,541.5 356.8,535.4 C357.6,529.3 359.9,534.5 361.2,535.4Z" fill="none" stroke="rgb(165,62,22)" stroke-width="1.4" stroke-opacity="0.9"/><path d="M378.5,566.8 C379.4,565.7 382.5,564.1 385.0,563.6 C387.5,563.0 391.1,563.9 393.6,563.6 C396.2,563.2 399.1,563.7 400.1,561.4 C401.2,559.0 399.8,551.5 400.1,549.5 C400.5,547.5 401.4,548.8 402.3,549.5 C403.2,550.2 404.5,551.7 405.6,553.8 C406.6,556.0 408.3,559.6 408.8,562.5 C409.3,565.4 408.6,568.8 408.8,571.1 C409.0,573.5 409.5,574.7 409.9,576.6 C410.2,578.4 410.1,580.3 411.0,582.0 C411.9,583.6 413.9,585.9 415.3,586.3 C416.7,586.7 418.5,583.4 419.6,584.1 C420.7,584.9 421.8,588.5 421.8,590.6 C421.8,592.8 420.3,594.2 419.6,597.1 C418.9,600.0 420.7,606.1 417.5,607.9 C414.2,609.8 403.4,609.0 400.1,607.9 C396.9,606.9 398.5,604.0 398.0,601.5 C397.4,598.9 397.3,595.3 396.9,592.8 C396.5,590.3 396.3,587.9 395.8,586.3 C395.3,584.7 395.1,583.4 393.6,583.0 C392.2,582.7 389.0,583.4 387.1,584.1 C385.3,584.9 383.9,586.1 382.8,587.4 C381.7,588.6 382.1,590.4 380.7,591.7 C379.2,593.0 376.1,594.1 374.2,595.0 C372.2,595.9 370.4,597.1 368.7,597.1 C367.1,597.1 365.3,596.0 364.4,595.0 C363.5,593.9 364.6,592.1 363.3,590.6 C362.1,589.2 357.9,588.1 356.8,586.3 C355.8,584.5 355.0,581.2 356.8,579.8 C358.6,578.4 364.8,577.8 367.7,577.6 C370.5,577.5 372.0,578.7 374.2,578.7 C376.3,578.7 378.8,578.2 380.7,577.6 C382.5,577.1 384.3,576.4 385.0,575.5 C385.7,574.6 385.9,573.1 385.0,572.2 C384.1,571.3 380.7,571.0 379.6,570.1 C378.5,569.2 377.6,567.9 378.5,566.8Z" fill="none" stroke="rgb(165,62,22)" stroke-width="1.4" stroke-opacity="0.9"/><path d="M411.0,547.3 C411.5,545.9 413.1,545.2 414.2,546.2 C415.3,547.3 416.7,551.5 417.5,553.8 C418.2,556.2 418.5,558.1 418.5,560.3 C418.6,562.5 418.2,564.6 418.0,566.8 C417.8,569.0 417.9,571.9 417.5,573.3 C417.0,574.7 415.8,576.4 415.3,575.5 C414.8,574.6 414.6,570.2 414.2,567.9 C413.9,565.5 413.7,563.6 413.1,561.4 C412.6,559.2 411.3,557.2 411.0,554.9 C410.6,552.6 410.4,548.8 411.0,547.3Z" fill="none" stroke="rgb(165,62,22)" stroke-width="1.4" stroke-opacity="0.9"/><path d="M420.7,540.8 C421.6,538.7 424.9,536.1 426.1,536.5 C427.4,536.9 428.1,540.5 428.3,543.0 C428.5,545.5 427.9,549.3 427.2,551.7 C426.5,554.0 424.7,554.7 424.0,557.1 C423.2,559.4 423.2,563.0 422.9,565.7 C422.5,568.4 422.2,573.3 421.8,573.3 C421.4,573.3 420.8,568.4 420.7,565.7 C420.6,563.0 421.2,559.8 421.2,557.1 C421.2,554.4 420.8,552.2 420.7,549.5 C420.6,546.8 419.8,543.0 420.7,540.8Z" fill="none" stroke="rgb(165,62,22)" stroke-width="1.4" stroke-opacity="0.9"/><path d="M425.0,527.8 C425.6,525.7 431.4,514.5 432.6,527.8 C433.9,541.2 434.1,594.6 432.6,607.9 C431.2,621.3 425.4,610.1 424.0,607.9 C422.5,605.8 423.6,598.9 424.0,595.0 C424.3,591.0 425.9,587.7 426.1,584.1 C426.3,580.5 425.0,576.9 425.0,573.3 C425.0,569.7 425.6,566.1 426.1,562.5 C426.7,558.9 427.7,555.3 428.3,551.7 C428.8,548.0 429.9,544.8 429.4,540.8 C428.8,536.9 424.5,530.0 425.0,527.8Z" fill="none" stroke="rgb(165,62,22)" stroke-width="1.4" stroke-opacity="0.9"/></g></g><g mask="url(#cz355_603)"><rect x="355" y="597" width="77.5" height="79" fill="rgb(237,181,90)"/><g filter="url(#fWallC)"><path d="M361.2,597.8 C367.7,596.0 393.6,596.6 400.1,597.8 C406.6,599.1 400.9,603.2 400.1,605.4 C399.4,607.6 397.4,609.4 395.8,610.8 C394.2,612.3 392.2,613.0 390.4,614.1 C388.6,615.2 386.6,616.6 385.0,617.3 C383.4,618.0 382.3,618.6 380.7,618.4 C379.0,618.2 377.2,616.8 375.2,616.2 C373.3,615.7 370.5,615.9 368.7,615.2 C366.9,614.4 365.7,613.0 364.4,611.9 C363.1,610.8 361.7,611.0 361.2,608.7 C360.6,606.3 354.7,599.6 361.2,597.8Z" fill="none" stroke="rgb(250,215,140)" stroke-width="3.8"/><path d="M365.5,627.1 C366.2,626.0 369.5,625.4 370.9,626.0 C372.4,626.5 373.1,628.7 374.2,630.3 C375.2,631.9 377.2,634.5 377.4,635.7 C377.6,637.0 376.3,637.7 375.2,637.9 C374.2,638.1 372.4,637.7 370.9,636.8 C369.5,635.9 367.5,634.1 366.6,632.5 C365.7,630.9 364.8,628.1 365.5,627.1Z" fill="none" stroke="rgb(250,215,140)" stroke-width="3.8"/><path d="M391.5,622.7 C392.3,621.7 394.7,621.1 395.8,621.7 C396.9,622.2 397.6,624.2 398.0,626.0 C398.3,627.8 398.5,630.9 398.0,632.5 C397.4,634.1 395.8,635.4 394.7,635.7 C393.6,636.1 392.1,635.9 391.5,634.6 C390.8,633.4 390.9,630.1 390.9,628.1 C390.9,626.2 390.7,623.8 391.5,622.7Z" fill="none" stroke="rgb(250,215,140)" stroke-width="3.8"/><path d="M404.5,611.9 C405.6,610.6 408.6,608.3 409.9,608.7 C411.1,609.0 411.5,611.9 412.0,614.1 C412.6,616.2 412.8,619.3 413.1,621.7 C413.5,624.0 414.0,626.0 414.2,628.1 C414.4,630.3 413.9,632.8 414.2,634.6 C414.6,636.4 415.8,637.2 416.4,639.0 C416.9,640.8 417.5,643.3 417.5,645.5 C417.5,647.6 416.7,649.8 416.4,652.0 C416.0,654.1 415.3,656.3 415.3,658.5 C415.3,660.6 416.4,663.0 416.4,665.0 C416.4,666.9 416.0,668.2 415.3,670.4 C414.6,672.5 413.5,676.7 412.0,677.9 C410.6,679.2 407.7,679.8 406.6,677.9 C405.6,676.1 406.3,670.0 405.6,667.1 C404.8,664.2 403.7,662.2 402.3,660.6 C400.9,659.0 398.0,658.8 396.9,657.4 C395.8,655.9 395.4,653.2 395.8,652.0 C396.2,650.7 398.0,650.0 399.1,649.8 C400.1,649.6 401.0,650.5 402.3,650.9 C403.6,651.2 405.4,652.0 406.6,652.0 C407.9,652.0 409.3,652.0 409.9,650.9 C410.4,649.8 410.6,646.9 409.9,645.5 C409.2,644.0 406.6,643.7 405.6,642.2 C404.5,640.8 403.6,638.6 403.4,636.8 C403.2,635.0 403.9,633.0 404.5,631.4 C405.0,629.8 406.5,628.7 406.6,627.1 C406.8,625.4 406.1,623.5 405.6,621.7 C405.0,619.8 403.6,617.9 403.4,616.2 C403.2,614.6 403.4,613.2 404.5,611.9Z" fill="none" stroke="rgb(250,215,140)" stroke-width="3.8"/><path d="M375.2,650.9 C377.0,650.0 385.9,648.9 388.2,649.8 C390.6,650.7 389.5,654.1 389.3,656.3 C389.1,658.5 387.9,661.0 387.1,662.8 C386.4,664.6 386.1,666.4 385.0,667.1 C383.9,667.8 381.7,668.2 380.7,667.1 C379.6,666.0 379.0,662.6 378.5,660.6 C377.9,658.6 377.9,656.8 377.4,655.2 C376.9,653.6 373.4,651.8 375.2,650.9Z" fill="none" stroke="rgb(250,215,140)" stroke-width="3.8"/><path d="M364.4,667.1 C365.3,664.8 368.0,664.2 369.8,663.9 C371.6,663.5 373.4,664.1 375.2,665.0 C377.0,665.9 379.7,667.1 380.7,669.3 C381.6,671.5 383.4,676.5 380.7,677.9 C377.9,679.4 367.1,679.8 364.4,677.9 C361.7,676.1 363.5,669.5 364.4,667.1Z" fill="none" stroke="rgb(250,215,140)" stroke-width="3.8"/><path d="M419.6,603.2 C420.3,602.0 422.3,601.6 422.9,603.2 C423.4,604.9 423.2,610.6 422.9,613.0 C422.5,615.3 421.3,617.7 420.7,617.3 C420.1,617.0 419.3,613.2 419.1,610.8 C418.9,608.5 419.0,604.5 419.6,603.2Z" fill="none" stroke="rgb(250,215,140)" stroke-width="3.8"/><path d="M418.5,626.0 C419.2,624.2 421.1,623.8 421.8,624.9 C422.5,626.0 422.9,629.8 422.9,632.5 C422.9,635.2 422.3,638.4 421.8,641.1 C421.2,643.8 420.3,647.1 419.6,648.7 C418.9,650.3 418.0,651.8 417.5,650.9 C416.9,650.0 416.3,645.8 416.4,643.3 C416.5,640.8 417.6,638.6 418.0,635.7 C418.4,632.8 417.9,627.8 418.5,626.0Z" fill="none" stroke="rgb(250,215,140)" stroke-width="3.8"/><path d="M419.6,660.6 C420.0,659.4 421.4,661.2 421.8,662.8 C422.2,664.4 422.2,669.1 421.8,670.4 C421.4,671.6 420.0,672.0 419.6,670.4 C419.3,668.7 419.3,661.9 419.6,660.6Z" fill="none" stroke="rgb(250,215,140)" stroke-width="3.8"/><path d="M361.2,597.8 C367.7,596.0 393.6,596.6 400.1,597.8 C406.6,599.1 400.9,603.2 400.1,605.4 C399.4,607.6 397.4,609.4 395.8,610.8 C394.2,612.3 392.2,613.0 390.4,614.1 C388.6,615.2 386.6,616.6 385.0,617.3 C383.4,618.0 382.3,618.6 380.7,618.4 C379.0,618.2 377.2,616.8 375.2,616.2 C373.3,615.7 370.5,615.9 368.7,615.2 C366.9,614.4 365.7,613.0 364.4,611.9 C363.1,610.8 361.7,611.0 361.2,608.7 C360.6,606.3 354.7,599.6 361.2,597.8Z" fill="none" stroke="rgb(165,62,22)" stroke-width="2.4"/><path d="M365.5,627.1 C366.2,626.0 369.5,625.4 370.9,626.0 C372.4,626.5 373.1,628.7 374.2,630.3 C375.2,631.9 377.2,634.5 377.4,635.7 C377.6,637.0 376.3,637.7 375.2,637.9 C374.2,638.1 372.4,637.7 370.9,636.8 C369.5,635.9 367.5,634.1 366.6,632.5 C365.7,630.9 364.8,628.1 365.5,627.1Z" fill="none" stroke="rgb(165,62,22)" stroke-width="2.4"/><path d="M391.5,622.7 C392.3,621.7 394.7,621.1 395.8,621.7 C396.9,622.2 397.6,624.2 398.0,626.0 C398.3,627.8 398.5,630.9 398.0,632.5 C397.4,634.1 395.8,635.4 394.7,635.7 C393.6,636.1 392.1,635.9 391.5,634.6 C390.8,633.4 390.9,630.1 390.9,628.1 C390.9,626.2 390.7,623.8 391.5,622.7Z" fill="none" stroke="rgb(165,62,22)" stroke-width="2.4"/><path d="M404.5,611.9 C405.6,610.6 408.6,608.3 409.9,608.7 C411.1,609.0 411.5,611.9 412.0,614.1 C412.6,616.2 412.8,619.3 413.1,621.7 C413.5,624.0 414.0,626.0 414.2,628.1 C414.4,630.3 413.9,632.8 414.2,634.6 C414.6,636.4 415.8,637.2 416.4,639.0 C416.9,640.8 417.5,643.3 417.5,645.5 C417.5,647.6 416.7,649.8 416.4,652.0 C416.0,654.1 415.3,656.3 415.3,658.5 C415.3,660.6 416.4,663.0 416.4,665.0 C416.4,666.9 416.0,668.2 415.3,670.4 C414.6,672.5 413.5,676.7 412.0,677.9 C410.6,679.2 407.7,679.8 406.6,677.9 C405.6,676.1 406.3,670.0 405.6,667.1 C404.8,664.2 403.7,662.2 402.3,660.6 C400.9,659.0 398.0,658.8 396.9,657.4 C395.8,655.9 395.4,653.2 395.8,652.0 C396.2,650.7 398.0,650.0 399.1,649.8 C400.1,649.6 401.0,650.5 402.3,650.9 C403.6,651.2 405.4,652.0 406.6,652.0 C407.9,652.0 409.3,652.0 409.9,650.9 C410.4,649.8 410.6,646.9 409.9,645.5 C409.2,644.0 406.6,643.7 405.6,642.2 C404.5,640.8 403.6,638.6 403.4,636.8 C403.2,635.0 403.9,633.0 404.5,631.4 C405.0,629.8 406.5,628.7 406.6,627.1 C406.8,625.4 406.1,623.5 405.6,621.7 C405.0,619.8 403.6,617.9 403.4,616.2 C403.2,614.6 403.4,613.2 404.5,611.9Z" fill="none" stroke="rgb(165,62,22)" stroke-width="2.4"/><path d="M375.2,650.9 C377.0,650.0 385.9,648.9 388.2,649.8 C390.6,650.7 389.5,654.1 389.3,656.3 C389.1,658.5 387.9,661.0 387.1,662.8 C386.4,664.6 386.1,666.4 385.0,667.1 C383.9,667.8 381.7,668.2 380.7,667.1 C379.6,666.0 379.0,662.6 378.5,660.6 C377.9,658.6 377.9,656.8 377.4,655.2 C376.9,653.6 373.4,651.8 375.2,650.9Z" fill="none" stroke="rgb(165,62,22)" stroke-width="2.4"/><path d="M364.4,667.1 C365.3,664.8 368.0,664.2 369.8,663.9 C371.6,663.5 373.4,664.1 375.2,665.0 C377.0,665.9 379.7,667.1 380.7,669.3 C381.6,671.5 383.4,676.5 380.7,677.9 C377.9,679.4 367.1,679.8 364.4,677.9 C361.7,676.1 363.5,669.5 364.4,667.1Z" fill="none" stroke="rgb(165,62,22)" stroke-width="2.4"/><path d="M419.6,603.2 C420.3,602.0 422.3,601.6 422.9,603.2 C423.4,604.9 423.2,610.6 422.9,613.0 C422.5,615.3 421.3,617.7 420.7,617.3 C420.1,617.0 419.3,613.2 419.1,610.8 C418.9,608.5 419.0,604.5 419.6,603.2Z" fill="none" stroke="rgb(165,62,22)" stroke-width="2.4"/><path d="M418.5,626.0 C419.2,624.2 421.1,623.8 421.8,624.9 C422.5,626.0 422.9,629.8 422.9,632.5 C422.9,635.2 422.3,638.4 421.8,641.1 C421.2,643.8 420.3,647.1 419.6,648.7 C418.9,650.3 418.0,651.8 417.5,650.9 C416.9,650.0 416.3,645.8 416.4,643.3 C416.5,640.8 417.6,638.6 418.0,635.7 C418.4,632.8 417.9,627.8 418.5,626.0Z" fill="none" stroke="rgb(165,62,22)" stroke-width="2.4"/><path d="M419.6,660.6 C420.0,659.4 421.4,661.2 421.8,662.8 C422.2,664.4 422.2,669.1 421.8,670.4 C421.4,671.6 420.0,672.0 419.6,670.4 C419.3,668.7 419.3,661.9 419.6,660.6Z" fill="none" stroke="rgb(165,62,22)" stroke-width="2.4"/><path d="M361.2,597.8 C367.7,596.0 393.6,596.6 400.1,597.8 C406.6,599.1 400.9,603.2 400.1,605.4 C399.4,607.6 397.4,609.4 395.8,610.8 C394.2,612.3 392.2,613.0 390.4,614.1 C388.6,615.2 386.6,616.6 385.0,617.3 C383.4,618.0 382.3,618.6 380.7,618.4 C379.0,618.2 377.2,616.8 375.2,616.2 C373.3,615.7 370.5,615.9 368.7,615.2 C366.9,614.4 365.7,613.0 364.4,611.9 C363.1,610.8 361.7,611.0 361.2,608.7 C360.6,606.3 354.7,599.6 361.2,597.8Z" fill="rgb(201,93,38)" stroke="rgb(201,93,38)" stroke-width="1.0"/><path d="M365.5,627.1 C366.2,626.0 369.5,625.4 370.9,626.0 C372.4,626.5 373.1,628.7 374.2,630.3 C375.2,631.9 377.2,634.5 377.4,635.7 C377.6,637.0 376.3,637.7 375.2,637.9 C374.2,638.1 372.4,637.7 370.9,636.8 C369.5,635.9 367.5,634.1 366.6,632.5 C365.7,630.9 364.8,628.1 365.5,627.1Z" fill="rgb(201,93,38)" stroke="rgb(201,93,38)" stroke-width="1.0"/><path d="M391.5,622.7 C392.3,621.7 394.7,621.1 395.8,621.7 C396.9,622.2 397.6,624.2 398.0,626.0 C398.3,627.8 398.5,630.9 398.0,632.5 C397.4,634.1 395.8,635.4 394.7,635.7 C393.6,636.1 392.1,635.9 391.5,634.6 C390.8,633.4 390.9,630.1 390.9,628.1 C390.9,626.2 390.7,623.8 391.5,622.7Z" fill="rgb(201,93,38)" stroke="rgb(201,93,38)" stroke-width="1.0"/><path d="M404.5,611.9 C405.6,610.6 408.6,608.3 409.9,608.7 C411.1,609.0 411.5,611.9 412.0,614.1 C412.6,616.2 412.8,619.3 413.1,621.7 C413.5,624.0 414.0,626.0 414.2,628.1 C414.4,630.3 413.9,632.8 414.2,634.6 C414.6,636.4 415.8,637.2 416.4,639.0 C416.9,640.8 417.5,643.3 417.5,645.5 C417.5,647.6 416.7,649.8 416.4,652.0 C416.0,654.1 415.3,656.3 415.3,658.5 C415.3,660.6 416.4,663.0 416.4,665.0 C416.4,666.9 416.0,668.2 415.3,670.4 C414.6,672.5 413.5,676.7 412.0,677.9 C410.6,679.2 407.7,679.8 406.6,677.9 C405.6,676.1 406.3,670.0 405.6,667.1 C404.8,664.2 403.7,662.2 402.3,660.6 C400.9,659.0 398.0,658.8 396.9,657.4 C395.8,655.9 395.4,653.2 395.8,652.0 C396.2,650.7 398.0,650.0 399.1,649.8 C400.1,649.6 401.0,650.5 402.3,650.9 C403.6,651.2 405.4,652.0 406.6,652.0 C407.9,652.0 409.3,652.0 409.9,650.9 C410.4,649.8 410.6,646.9 409.9,645.5 C409.2,644.0 406.6,643.7 405.6,642.2 C404.5,640.8 403.6,638.6 403.4,636.8 C403.2,635.0 403.9,633.0 404.5,631.4 C405.0,629.8 406.5,628.7 406.6,627.1 C406.8,625.4 406.1,623.5 405.6,621.7 C405.0,619.8 403.6,617.9 403.4,616.2 C403.2,614.6 403.4,613.2 404.5,611.9Z" fill="rgb(201,93,38)" stroke="rgb(201,93,38)" stroke-width="1.0"/><path d="M375.2,650.9 C377.0,650.0 385.9,648.9 388.2,649.8 C390.6,650.7 389.5,654.1 389.3,656.3 C389.1,658.5 387.9,661.0 387.1,662.8 C386.4,664.6 386.1,666.4 385.0,667.1 C383.9,667.8 381.7,668.2 380.7,667.1 C379.6,666.0 379.0,662.6 378.5,660.6 C377.9,658.6 377.9,656.8 377.4,655.2 C376.9,653.6 373.4,651.8 375.2,650.9Z" fill="rgb(201,93,38)" stroke="rgb(201,93,38)" stroke-width="1.0"/><path d="M364.4,667.1 C365.3,664.8 368.0,664.2 369.8,663.9 C371.6,663.5 373.4,664.1 375.2,665.0 C377.0,665.9 379.7,667.1 380.7,669.3 C381.6,671.5 383.4,676.5 380.7,677.9 C377.9,679.4 367.1,679.8 364.4,677.9 C361.7,676.1 363.5,669.5 364.4,667.1Z" fill="rgb(201,93,38)" stroke="rgb(201,93,38)" stroke-width="1.0"/><path d="M419.6,603.2 C420.3,602.0 422.3,601.6 422.9,603.2 C423.4,604.9 423.2,610.6 422.9,613.0 C422.5,615.3 421.3,617.7 420.7,617.3 C420.1,617.0 419.3,613.2 419.1,610.8 C418.9,608.5 419.0,604.5 419.6,603.2Z" fill="rgb(201,93,38)" stroke="rgb(201,93,38)" stroke-width="1.0"/><path d="M418.5,626.0 C419.2,624.2 421.1,623.8 421.8,624.9 C422.5,626.0 422.9,629.8 422.9,632.5 C422.9,635.2 422.3,638.4 421.8,641.1 C421.2,643.8 420.3,647.1 419.6,648.7 C418.9,650.3 418.0,651.8 417.5,650.9 C416.9,650.0 416.3,645.8 416.4,643.3 C416.5,640.8 417.6,638.6 418.0,635.7 C418.4,632.8 417.9,627.8 418.5,626.0Z" fill="rgb(201,93,38)" stroke="rgb(201,93,38)" stroke-width="1.0"/><path d="M419.6,660.6 C420.0,659.4 421.4,661.2 421.8,662.8 C422.2,664.4 422.2,669.1 421.8,670.4 C421.4,671.6 420.0,672.0 419.6,670.4 C419.3,668.7 419.3,661.9 419.6,660.6Z" fill="rgb(201,93,38)" stroke="rgb(201,93,38)" stroke-width="1.0"/></g></g><g mask="url(#cz355_668)"><rect x="355" y="662" width="77.5" height="71" fill="rgb(237,181,90)"/><g filter="url(#fWallC)"><path d="M365.5,666.5 C366.6,665.4 369.6,664.3 372.0,664.3 C374.3,664.3 378.1,667.6 379.6,666.5 C381.0,665.4 379.4,659.3 380.7,657.8 C381.9,656.4 386.4,656.6 387.1,657.8 C387.9,659.1 385.5,663.2 385.0,665.4 C384.4,667.6 383.2,669.2 383.9,670.8 C384.6,672.4 387.7,673.7 389.3,675.2 C390.9,676.6 391.8,677.9 393.6,679.5 C395.4,681.1 398.3,683.1 400.1,684.9 C401.9,686.7 402.8,688.9 404.5,690.3 C406.1,691.8 408.6,692.5 409.9,693.6 C411.1,694.6 412.0,695.5 412.0,696.8 C412.0,698.1 411.1,700.4 409.9,701.1 C408.6,701.9 406.1,701.9 404.5,701.1 C402.8,700.4 401.6,698.3 400.1,696.8 C398.7,695.4 397.4,693.6 395.8,692.5 C394.2,691.4 392.2,690.9 390.4,690.3 C388.6,689.8 386.6,689.8 385.0,689.2 C383.4,688.7 381.2,688.1 380.7,687.1 C380.1,686.0 382.1,684.0 381.7,682.7 C381.4,681.5 379.9,680.4 378.5,679.5 C377.0,678.6 374.9,678.2 373.1,677.3 C371.3,676.4 368.9,675.2 367.7,674.1 C366.4,673.0 365.9,672.1 365.5,670.8 C365.1,669.6 364.4,667.6 365.5,666.5Z" fill="none" stroke="rgb(250,215,140)" stroke-width="3.8"/><path d="M356.8,695.7 C358.3,690.9 363.3,689.8 365.5,688.1 C367.7,686.5 368.2,686.0 369.8,686.0 C371.4,686.0 373.8,687.2 375.2,688.1 C376.7,689.0 377.6,690.0 378.5,691.4 C379.4,692.8 379.6,695.4 380.7,696.8 C381.7,698.3 383.2,699.2 385.0,700.1 C386.8,701.0 390.0,701.3 391.5,702.2 C392.9,703.1 393.8,704.4 393.6,705.5 C393.5,706.6 392.0,707.8 390.4,708.7 C388.8,709.6 385.7,710.0 383.9,710.9 C382.1,711.8 381.0,713.9 379.6,714.1 C378.1,714.3 377.0,712.9 375.2,712.0 C373.4,711.1 370.4,708.9 368.7,708.7 C367.1,708.5 366.4,709.6 365.5,710.9 C364.6,712.1 364.8,715.2 363.3,716.3 C361.9,717.4 357.9,720.8 356.8,717.4 C355.8,713.9 355.4,700.6 356.8,695.7Z" fill="none" stroke="rgb(250,215,140)" stroke-width="3.8"/><path d="M409.9,657.8 C411.0,656.4 415.5,656.4 416.4,657.8 C417.3,659.3 415.7,664.0 415.3,666.5 C414.9,669.0 414.2,670.8 414.2,673.0 C414.2,675.2 414.9,677.3 415.3,679.5 C415.7,681.7 416.0,684.0 416.4,686.0 C416.7,688.0 416.9,689.8 417.5,691.4 C418.0,693.0 419.1,693.9 419.6,695.7 C420.2,697.5 421.1,700.6 420.7,702.2 C420.3,703.8 418.4,704.0 417.5,705.5 C416.6,706.9 415.8,708.7 415.3,710.9 C414.8,713.0 414.8,716.1 414.2,718.5 C413.7,720.8 412.9,723.9 412.0,725.0 C411.1,726.0 409.2,726.8 408.8,725.0 C408.4,723.2 409.5,717.0 409.9,714.1 C410.2,711.2 410.4,709.4 411.0,707.6 C411.5,705.8 412.9,704.7 413.1,703.3 C413.3,701.9 412.4,700.8 412.0,699.0 C411.7,697.2 411.3,694.5 411.0,692.5 C410.6,690.5 409.9,688.9 409.9,687.1 C409.9,685.3 411.0,683.8 411.0,681.7 C411.0,679.5 410.1,676.6 409.9,674.1 C409.7,671.5 409.9,669.2 409.9,666.5 C409.9,663.8 408.8,659.3 409.9,657.8Z" fill="none" stroke="rgb(250,215,140)" stroke-width="3.8"/><path d="M400.1,716.3 C400.9,715.2 402.1,717.0 402.3,718.5 C402.5,719.9 401.9,723.9 401.2,725.0 C400.5,726.0 398.2,726.4 398.0,725.0 C397.8,723.5 399.4,717.4 400.1,716.3Z" fill="none" stroke="rgb(250,215,140)" stroke-width="3.8"/><path d="M365.5,666.5 C366.6,665.4 369.6,664.3 372.0,664.3 C374.3,664.3 378.1,667.6 379.6,666.5 C381.0,665.4 379.4,659.3 380.7,657.8 C381.9,656.4 386.4,656.6 387.1,657.8 C387.9,659.1 385.5,663.2 385.0,665.4 C384.4,667.6 383.2,669.2 383.9,670.8 C384.6,672.4 387.7,673.7 389.3,675.2 C390.9,676.6 391.8,677.9 393.6,679.5 C395.4,681.1 398.3,683.1 400.1,684.9 C401.9,686.7 402.8,688.9 404.5,690.3 C406.1,691.8 408.6,692.5 409.9,693.6 C411.1,694.6 412.0,695.5 412.0,696.8 C412.0,698.1 411.1,700.4 409.9,701.1 C408.6,701.9 406.1,701.9 404.5,701.1 C402.8,700.4 401.6,698.3 400.1,696.8 C398.7,695.4 397.4,693.6 395.8,692.5 C394.2,691.4 392.2,690.9 390.4,690.3 C388.6,689.8 386.6,689.8 385.0,689.2 C383.4,688.7 381.2,688.1 380.7,687.1 C380.1,686.0 382.1,684.0 381.7,682.7 C381.4,681.5 379.9,680.4 378.5,679.5 C377.0,678.6 374.9,678.2 373.1,677.3 C371.3,676.4 368.9,675.2 367.7,674.1 C366.4,673.0 365.9,672.1 365.5,670.8 C365.1,669.6 364.4,667.6 365.5,666.5Z" fill="none" stroke="rgb(165,62,22)" stroke-width="2.4"/><path d="M356.8,695.7 C358.3,690.9 363.3,689.8 365.5,688.1 C367.7,686.5 368.2,686.0 369.8,686.0 C371.4,686.0 373.8,687.2 375.2,688.1 C376.7,689.0 377.6,690.0 378.5,691.4 C379.4,692.8 379.6,695.4 380.7,696.8 C381.7,698.3 383.2,699.2 385.0,700.1 C386.8,701.0 390.0,701.3 391.5,702.2 C392.9,703.1 393.8,704.4 393.6,705.5 C393.5,706.6 392.0,707.8 390.4,708.7 C388.8,709.6 385.7,710.0 383.9,710.9 C382.1,711.8 381.0,713.9 379.6,714.1 C378.1,714.3 377.0,712.9 375.2,712.0 C373.4,711.1 370.4,708.9 368.7,708.7 C367.1,708.5 366.4,709.6 365.5,710.9 C364.6,712.1 364.8,715.2 363.3,716.3 C361.9,717.4 357.9,720.8 356.8,717.4 C355.8,713.9 355.4,700.6 356.8,695.7Z" fill="none" stroke="rgb(165,62,22)" stroke-width="2.4"/><path d="M409.9,657.8 C411.0,656.4 415.5,656.4 416.4,657.8 C417.3,659.3 415.7,664.0 415.3,666.5 C414.9,669.0 414.2,670.8 414.2,673.0 C414.2,675.2 414.9,677.3 415.3,679.5 C415.7,681.7 416.0,684.0 416.4,686.0 C416.7,688.0 416.9,689.8 417.5,691.4 C418.0,693.0 419.1,693.9 419.6,695.7 C420.2,697.5 421.1,700.6 420.7,702.2 C420.3,703.8 418.4,704.0 417.5,705.5 C416.6,706.9 415.8,708.7 415.3,710.9 C414.8,713.0 414.8,716.1 414.2,718.5 C413.7,720.8 412.9,723.9 412.0,725.0 C411.1,726.0 409.2,726.8 408.8,725.0 C408.4,723.2 409.5,717.0 409.9,714.1 C410.2,711.2 410.4,709.4 411.0,707.6 C411.5,705.8 412.9,704.7 413.1,703.3 C413.3,701.9 412.4,700.8 412.0,699.0 C411.7,697.2 411.3,694.5 411.0,692.5 C410.6,690.5 409.9,688.9 409.9,687.1 C409.9,685.3 411.0,683.8 411.0,681.7 C411.0,679.5 410.1,676.6 409.9,674.1 C409.7,671.5 409.9,669.2 409.9,666.5 C409.9,663.8 408.8,659.3 409.9,657.8Z" fill="none" stroke="rgb(165,62,22)" stroke-width="2.4"/><path d="M400.1,716.3 C400.9,715.2 402.1,717.0 402.3,718.5 C402.5,719.9 401.9,723.9 401.2,725.0 C400.5,726.0 398.2,726.4 398.0,725.0 C397.8,723.5 399.4,717.4 400.1,716.3Z" fill="none" stroke="rgb(165,62,22)" stroke-width="2.4"/><path d="M365.5,666.5 C366.6,665.4 369.6,664.3 372.0,664.3 C374.3,664.3 378.1,667.6 379.6,666.5 C381.0,665.4 379.4,659.3 380.7,657.8 C381.9,656.4 386.4,656.6 387.1,657.8 C387.9,659.1 385.5,663.2 385.0,665.4 C384.4,667.6 383.2,669.2 383.9,670.8 C384.6,672.4 387.7,673.7 389.3,675.2 C390.9,676.6 391.8,677.9 393.6,679.5 C395.4,681.1 398.3,683.1 400.1,684.9 C401.9,686.7 402.8,688.9 404.5,690.3 C406.1,691.8 408.6,692.5 409.9,693.6 C411.1,694.6 412.0,695.5 412.0,696.8 C412.0,698.1 411.1,700.4 409.9,701.1 C408.6,701.9 406.1,701.9 404.5,701.1 C402.8,700.4 401.6,698.3 400.1,696.8 C398.7,695.4 397.4,693.6 395.8,692.5 C394.2,691.4 392.2,690.9 390.4,690.3 C388.6,689.8 386.6,689.8 385.0,689.2 C383.4,688.7 381.2,688.1 380.7,687.1 C380.1,686.0 382.1,684.0 381.7,682.7 C381.4,681.5 379.9,680.4 378.5,679.5 C377.0,678.6 374.9,678.2 373.1,677.3 C371.3,676.4 368.9,675.2 367.7,674.1 C366.4,673.0 365.9,672.1 365.5,670.8 C365.1,669.6 364.4,667.6 365.5,666.5Z" fill="rgb(201,93,38)" stroke="rgb(201,93,38)" stroke-width="1.0"/><path d="M356.8,695.7 C358.3,690.9 363.3,689.8 365.5,688.1 C367.7,686.5 368.2,686.0 369.8,686.0 C371.4,686.0 373.8,687.2 375.2,688.1 C376.7,689.0 377.6,690.0 378.5,691.4 C379.4,692.8 379.6,695.4 380.7,696.8 C381.7,698.3 383.2,699.2 385.0,700.1 C386.8,701.0 390.0,701.3 391.5,702.2 C392.9,703.1 393.8,704.4 393.6,705.5 C393.5,706.6 392.0,707.8 390.4,708.7 C388.8,709.6 385.7,710.0 383.9,710.9 C382.1,711.8 381.0,713.9 379.6,714.1 C378.1,714.3 377.0,712.9 375.2,712.0 C373.4,711.1 370.4,708.9 368.7,708.7 C367.1,708.5 366.4,709.6 365.5,710.9 C364.6,712.1 364.8,715.2 363.3,716.3 C361.9,717.4 357.9,720.8 356.8,717.4 C355.8,713.9 355.4,700.6 356.8,695.7Z" fill="rgb(201,93,38)" stroke="rgb(201,93,38)" stroke-width="1.0"/><path d="M409.9,657.8 C411.0,656.4 415.5,656.4 416.4,657.8 C417.3,659.3 415.7,664.0 415.3,666.5 C414.9,669.0 414.2,670.8 414.2,673.0 C414.2,675.2 414.9,677.3 415.3,679.5 C415.7,681.7 416.0,684.0 416.4,686.0 C416.7,688.0 416.9,689.8 417.5,691.4 C418.0,693.0 419.1,693.9 419.6,695.7 C420.2,697.5 421.1,700.6 420.7,702.2 C420.3,703.8 418.4,704.0 417.5,705.5 C416.6,706.9 415.8,708.7 415.3,710.9 C414.8,713.0 414.8,716.1 414.2,718.5 C413.7,720.8 412.9,723.9 412.0,725.0 C411.1,726.0 409.2,726.8 408.8,725.0 C408.4,723.2 409.5,717.0 409.9,714.1 C410.2,711.2 410.4,709.4 411.0,707.6 C411.5,705.8 412.9,704.7 413.1,703.3 C413.3,701.9 412.4,700.8 412.0,699.0 C411.7,697.2 411.3,694.5 411.0,692.5 C410.6,690.5 409.9,688.9 409.9,687.1 C409.9,685.3 411.0,683.8 411.0,681.7 C411.0,679.5 410.1,676.6 409.9,674.1 C409.7,671.5 409.9,669.2 409.9,666.5 C409.9,663.8 408.8,659.3 409.9,657.8Z" fill="rgb(201,93,38)" stroke="rgb(201,93,38)" stroke-width="1.0"/><path d="M400.1,716.3 C400.9,715.2 402.1,717.0 402.3,718.5 C402.5,719.9 401.9,723.9 401.2,725.0 C400.5,726.0 398.2,726.4 398.0,725.0 C397.8,723.5 399.4,717.4 400.1,716.3Z" fill="rgb(201,93,38)" stroke="rgb(201,93,38)" stroke-width="1.0"/></g></g><g mask="url(#cz535_455)"><rect x="535" y="455" width="95" height="99" fill="rgb(237,181,90)"/><g filter="url(#fWallC)"><path d="M550.9,455.4 C555.2,453.3 572.3,454.4 576.6,455.4 C580.9,456.5 578.3,460.4 576.6,461.8 C574.9,463.3 569.3,463.8 566.3,464.4 C563.3,465.1 560.1,464.8 558.6,465.7 C557.1,466.5 556.5,468.0 557.4,469.5 C558.2,471.0 562.1,473.0 563.8,474.7 C565.5,476.4 568.0,478.7 567.6,479.8 C567.2,480.9 562.7,480.4 561.2,481.1 C559.7,481.7 558.6,482.4 558.6,483.6 C558.6,484.9 559.9,487.5 561.2,488.8 C562.5,490.1 564.6,491.1 566.3,491.3 C568.0,491.5 569.8,490.5 571.5,490.1 C573.2,489.6 574.9,488.3 576.6,488.8 C578.3,489.2 580.0,491.8 581.7,492.6 C583.4,493.5 585.6,493.3 586.8,493.9 C588.1,494.5 589.8,495.6 589.4,496.5 C589.0,497.3 586.2,498.6 584.3,499.0 C582.4,499.5 580.0,498.8 577.9,499.0 C575.7,499.2 574.0,500.1 571.5,500.3 C568.9,500.5 564.8,500.1 562.5,500.3 C560.1,500.5 558.4,500.5 557.4,501.6 C556.3,502.7 555.4,505.4 556.1,506.7 C556.7,508.0 559.7,508.4 561.2,509.3 C562.7,510.1 564.2,510.6 565.1,511.8 C565.9,513.1 565.9,515.3 566.3,517.0 C566.8,518.7 568.0,520.4 567.6,522.1 C567.2,523.8 564.8,525.5 563.8,527.2 C562.7,528.9 562.1,530.9 561.2,532.4 C560.4,533.9 559.7,535.4 558.6,536.2 C557.6,537.1 555.9,536.4 554.8,537.5 C553.7,538.6 553.1,540.5 552.2,542.6 C551.4,544.8 551.2,549.0 549.7,550.3 C548.2,551.6 544.1,551.8 543.3,550.3 C542.4,548.8 544.1,543.9 544.5,541.3 C545.0,538.8 545.6,537.3 545.8,534.9 C546.0,532.6 545.6,529.8 545.8,527.2 C546.0,524.7 546.9,522.5 547.1,519.5 C547.3,516.5 546.9,512.3 547.1,509.3 C547.3,506.3 548.4,504.2 548.4,501.6 C548.4,499.0 547.1,496.5 547.1,493.9 C547.1,491.3 547.7,489.0 548.4,486.2 C549.0,483.4 550.5,480.2 550.9,477.2 C551.4,474.2 550.9,471.9 550.9,468.3 C550.9,464.6 546.7,457.6 550.9,455.4Z" fill="none" stroke="rgb(250,215,140)" stroke-width="3.8"/><path d="M583.0,474.7 C583.6,473.4 586.2,471.0 588.1,469.5 C590.1,468.0 592.2,466.5 594.5,465.7 C596.9,464.8 600.1,464.0 602.2,464.4 C604.4,464.8 606.5,466.8 607.4,468.3 C608.2,469.8 608.6,472.1 607.4,473.4 C606.1,474.7 602.2,475.3 599.7,475.9 C597.1,476.6 594.5,477.0 592.0,477.2 C589.4,477.4 585.8,477.7 584.3,477.2 C582.8,476.8 582.4,475.9 583.0,474.7Z" fill="none" stroke="rgb(250,215,140)" stroke-width="3.8"/><path d="M598.4,487.5 C599.6,486.4 602.9,486.2 604.8,487.5 C606.7,488.8 609.3,492.8 609.9,495.2 C610.6,497.5 609.5,499.7 608.6,501.6 C607.8,503.5 606.3,505.4 604.8,506.7 C603.3,508.0 600.7,509.9 599.7,509.3 C598.6,508.6 598.7,505.4 598.4,502.9 C598.1,500.3 597.7,496.5 597.7,493.9 C597.7,491.3 597.2,488.6 598.4,487.5Z" fill="none" stroke="rgb(250,215,140)" stroke-width="3.8"/><path d="M577.9,509.3 C579.4,508.1 585.8,508.2 588.1,508.6 C590.5,509.1 591.1,510.0 592.0,511.8 C592.8,513.7 593.3,517.0 593.3,519.5 C593.3,522.1 593.0,525.7 592.0,527.2 C590.9,528.7 588.3,528.7 586.8,528.5 C585.4,528.3 583.9,527.4 583.0,525.9 C582.1,524.5 582.4,521.2 581.7,519.5 C581.1,517.8 579.8,517.4 579.2,515.7 C578.5,514.0 576.4,510.5 577.9,509.3Z" fill="none" stroke="rgb(250,215,140)" stroke-width="3.8"/><path d="M604.8,514.4 C606.0,513.3 609.3,514.4 611.2,513.1 C613.1,511.8 614.0,508.0 616.3,506.7 C618.7,505.4 623.8,502.4 625.3,505.4 C626.8,508.4 626.6,521.9 625.3,524.7 C624.0,527.4 620.2,521.7 617.6,522.1 C615.1,522.5 612.1,525.7 609.9,527.2 C607.8,528.7 606.0,531.5 604.8,531.1 C603.6,530.6 603.0,526.6 602.9,524.7 C602.8,522.7 603.8,521.2 604.2,519.5 C604.5,517.8 603.6,515.5 604.8,514.4Z" fill="none" stroke="rgb(250,215,140)" stroke-width="3.8"/><path d="M575.3,536.2 C576.2,533.6 578.5,534.3 580.4,534.9 C582.4,535.6 584.7,539.4 586.8,540.1 C589.0,540.7 591.1,539.4 593.3,538.8 C595.4,538.1 597.3,536.8 599.7,536.2 C602.0,535.6 604.8,535.4 607.4,534.9 C609.9,534.5 612.1,534.1 615.1,533.6 C618.0,533.2 623.6,529.6 625.3,532.4 C627.0,535.1 633.6,547.3 625.3,550.3 C617.0,553.3 583.6,552.7 575.3,550.3 C567.0,548.0 574.5,538.8 575.3,536.2Z" fill="none" stroke="rgb(250,215,140)" stroke-width="3.8"/><path d="M550.9,455.4 C555.2,453.3 572.3,454.4 576.6,455.4 C580.9,456.5 578.3,460.4 576.6,461.8 C574.9,463.3 569.3,463.8 566.3,464.4 C563.3,465.1 560.1,464.8 558.6,465.7 C557.1,466.5 556.5,468.0 557.4,469.5 C558.2,471.0 562.1,473.0 563.8,474.7 C565.5,476.4 568.0,478.7 567.6,479.8 C567.2,480.9 562.7,480.4 561.2,481.1 C559.7,481.7 558.6,482.4 558.6,483.6 C558.6,484.9 559.9,487.5 561.2,488.8 C562.5,490.1 564.6,491.1 566.3,491.3 C568.0,491.5 569.8,490.5 571.5,490.1 C573.2,489.6 574.9,488.3 576.6,488.8 C578.3,489.2 580.0,491.8 581.7,492.6 C583.4,493.5 585.6,493.3 586.8,493.9 C588.1,494.5 589.8,495.6 589.4,496.5 C589.0,497.3 586.2,498.6 584.3,499.0 C582.4,499.5 580.0,498.8 577.9,499.0 C575.7,499.2 574.0,500.1 571.5,500.3 C568.9,500.5 564.8,500.1 562.5,500.3 C560.1,500.5 558.4,500.5 557.4,501.6 C556.3,502.7 555.4,505.4 556.1,506.7 C556.7,508.0 559.7,508.4 561.2,509.3 C562.7,510.1 564.2,510.6 565.1,511.8 C565.9,513.1 565.9,515.3 566.3,517.0 C566.8,518.7 568.0,520.4 567.6,522.1 C567.2,523.8 564.8,525.5 563.8,527.2 C562.7,528.9 562.1,530.9 561.2,532.4 C560.4,533.9 559.7,535.4 558.6,536.2 C557.6,537.1 555.9,536.4 554.8,537.5 C553.7,538.6 553.1,540.5 552.2,542.6 C551.4,544.8 551.2,549.0 549.7,550.3 C548.2,551.6 544.1,551.8 543.3,550.3 C542.4,548.8 544.1,543.9 544.5,541.3 C545.0,538.8 545.6,537.3 545.8,534.9 C546.0,532.6 545.6,529.8 545.8,527.2 C546.0,524.7 546.9,522.5 547.1,519.5 C547.3,516.5 546.9,512.3 547.1,509.3 C547.3,506.3 548.4,504.2 548.4,501.6 C548.4,499.0 547.1,496.5 547.1,493.9 C547.1,491.3 547.7,489.0 548.4,486.2 C549.0,483.4 550.5,480.2 550.9,477.2 C551.4,474.2 550.9,471.9 550.9,468.3 C550.9,464.6 546.7,457.6 550.9,455.4Z" fill="none" stroke="rgb(165,62,22)" stroke-width="2.4"/><path d="M583.0,474.7 C583.6,473.4 586.2,471.0 588.1,469.5 C590.1,468.0 592.2,466.5 594.5,465.7 C596.9,464.8 600.1,464.0 602.2,464.4 C604.4,464.8 606.5,466.8 607.4,468.3 C608.2,469.8 608.6,472.1 607.4,473.4 C606.1,474.7 602.2,475.3 599.7,475.9 C597.1,476.6 594.5,477.0 592.0,477.2 C589.4,477.4 585.8,477.7 584.3,477.2 C582.8,476.8 582.4,475.9 583.0,474.7Z" fill="none" stroke="rgb(165,62,22)" stroke-width="2.4"/><path d="M598.4,487.5 C599.6,486.4 602.9,486.2 604.8,487.5 C606.7,488.8 609.3,492.8 609.9,495.2 C610.6,497.5 609.5,499.7 608.6,501.6 C607.8,503.5 606.3,505.4 604.8,506.7 C603.3,508.0 600.7,509.9 599.7,509.3 C598.6,508.6 598.7,505.4 598.4,502.9 C598.1,500.3 597.7,496.5 597.7,493.9 C597.7,491.3 597.2,488.6 598.4,487.5Z" fill="none" stroke="rgb(165,62,22)" stroke-width="2.4"/><path d="M577.9,509.3 C579.4,508.1 585.8,508.2 588.1,508.6 C590.5,509.1 591.1,510.0 592.0,511.8 C592.8,513.7 593.3,517.0 593.3,519.5 C593.3,522.1 593.0,525.7 592.0,527.2 C590.9,528.7 588.3,528.7 586.8,528.5 C585.4,528.3 583.9,527.4 583.0,525.9 C582.1,524.5 582.4,521.2 581.7,519.5 C581.1,517.8 579.8,517.4 579.2,515.7 C578.5,514.0 576.4,510.5 577.9,509.3Z" fill="none" stroke="rgb(165,62,22)" stroke-width="2.4"/><path d="M604.8,514.4 C606.0,513.3 609.3,514.4 611.2,513.1 C613.1,511.8 614.0,508.0 616.3,506.7 C618.7,505.4 623.8,502.4 625.3,505.4 C626.8,508.4 626.6,521.9 625.3,524.7 C624.0,527.4 620.2,521.7 617.6,522.1 C615.1,522.5 612.1,525.7 609.9,527.2 C607.8,528.7 606.0,531.5 604.8,531.1 C603.6,530.6 603.0,526.6 602.9,524.7 C602.8,522.7 603.8,521.2 604.2,519.5 C604.5,517.8 603.6,515.5 604.8,514.4Z" fill="none" stroke="rgb(165,62,22)" stroke-width="2.4"/><path d="M575.3,536.2 C576.2,533.6 578.5,534.3 580.4,534.9 C582.4,535.6 584.7,539.4 586.8,540.1 C589.0,540.7 591.1,539.4 593.3,538.8 C595.4,538.1 597.3,536.8 599.7,536.2 C602.0,535.6 604.8,535.4 607.4,534.9 C609.9,534.5 612.1,534.1 615.1,533.6 C618.0,533.2 623.6,529.6 625.3,532.4 C627.0,535.1 633.6,547.3 625.3,550.3 C617.0,553.3 583.6,552.7 575.3,550.3 C567.0,548.0 574.5,538.8 575.3,536.2Z" fill="none" stroke="rgb(165,62,22)" stroke-width="2.4"/><path d="M550.9,455.4 C555.2,453.3 572.3,454.4 576.6,455.4 C580.9,456.5 578.3,460.4 576.6,461.8 C574.9,463.3 569.3,463.8 566.3,464.4 C563.3,465.1 560.1,464.8 558.6,465.7 C557.1,466.5 556.5,468.0 557.4,469.5 C558.2,471.0 562.1,473.0 563.8,474.7 C565.5,476.4 568.0,478.7 567.6,479.8 C567.2,480.9 562.7,480.4 561.2,481.1 C559.7,481.7 558.6,482.4 558.6,483.6 C558.6,484.9 559.9,487.5 561.2,488.8 C562.5,490.1 564.6,491.1 566.3,491.3 C568.0,491.5 569.8,490.5 571.5,490.1 C573.2,489.6 574.9,488.3 576.6,488.8 C578.3,489.2 580.0,491.8 581.7,492.6 C583.4,493.5 585.6,493.3 586.8,493.9 C588.1,494.5 589.8,495.6 589.4,496.5 C589.0,497.3 586.2,498.6 584.3,499.0 C582.4,499.5 580.0,498.8 577.9,499.0 C575.7,499.2 574.0,500.1 571.5,500.3 C568.9,500.5 564.8,500.1 562.5,500.3 C560.1,500.5 558.4,500.5 557.4,501.6 C556.3,502.7 555.4,505.4 556.1,506.7 C556.7,508.0 559.7,508.4 561.2,509.3 C562.7,510.1 564.2,510.6 565.1,511.8 C565.9,513.1 565.9,515.3 566.3,517.0 C566.8,518.7 568.0,520.4 567.6,522.1 C567.2,523.8 564.8,525.5 563.8,527.2 C562.7,528.9 562.1,530.9 561.2,532.4 C560.4,533.9 559.7,535.4 558.6,536.2 C557.6,537.1 555.9,536.4 554.8,537.5 C553.7,538.6 553.1,540.5 552.2,542.6 C551.4,544.8 551.2,549.0 549.7,550.3 C548.2,551.6 544.1,551.8 543.3,550.3 C542.4,548.8 544.1,543.9 544.5,541.3 C545.0,538.8 545.6,537.3 545.8,534.9 C546.0,532.6 545.6,529.8 545.8,527.2 C546.0,524.7 546.9,522.5 547.1,519.5 C547.3,516.5 546.9,512.3 547.1,509.3 C547.3,506.3 548.4,504.2 548.4,501.6 C548.4,499.0 547.1,496.5 547.1,493.9 C547.1,491.3 547.7,489.0 548.4,486.2 C549.0,483.4 550.5,480.2 550.9,477.2 C551.4,474.2 550.9,471.9 550.9,468.3 C550.9,464.6 546.7,457.6 550.9,455.4Z" fill="rgb(201,93,38)" stroke="rgb(201,93,38)" stroke-width="1.0"/><path d="M583.0,474.7 C583.6,473.4 586.2,471.0 588.1,469.5 C590.1,468.0 592.2,466.5 594.5,465.7 C596.9,464.8 600.1,464.0 602.2,464.4 C604.4,464.8 606.5,466.8 607.4,468.3 C608.2,469.8 608.6,472.1 607.4,473.4 C606.1,474.7 602.2,475.3 599.7,475.9 C597.1,476.6 594.5,477.0 592.0,477.2 C589.4,477.4 585.8,477.7 584.3,477.2 C582.8,476.8 582.4,475.9 583.0,474.7Z" fill="rgb(201,93,38)" stroke="rgb(201,93,38)" stroke-width="1.0"/><path d="M598.4,487.5 C599.6,486.4 602.9,486.2 604.8,487.5 C606.7,488.8 609.3,492.8 609.9,495.2 C610.6,497.5 609.5,499.7 608.6,501.6 C607.8,503.5 606.3,505.4 604.8,506.7 C603.3,508.0 600.7,509.9 599.7,509.3 C598.6,508.6 598.7,505.4 598.4,502.9 C598.1,500.3 597.7,496.5 597.7,493.9 C597.7,491.3 597.2,488.6 598.4,487.5Z" fill="rgb(201,93,38)" stroke="rgb(201,93,38)" stroke-width="1.0"/><path d="M577.9,509.3 C579.4,508.1 585.8,508.2 588.1,508.6 C590.5,509.1 591.1,510.0 592.0,511.8 C592.8,513.7 593.3,517.0 593.3,519.5 C593.3,522.1 593.0,525.7 592.0,527.2 C590.9,528.7 588.3,528.7 586.8,528.5 C585.4,528.3 583.9,527.4 583.0,525.9 C582.1,524.5 582.4,521.2 581.7,519.5 C581.1,517.8 579.8,517.4 579.2,515.7 C578.5,514.0 576.4,510.5 577.9,509.3Z" fill="rgb(201,93,38)" stroke="rgb(201,93,38)" stroke-width="1.0"/><path d="M604.8,514.4 C606.0,513.3 609.3,514.4 611.2,513.1 C613.1,511.8 614.0,508.0 616.3,506.7 C618.7,505.4 623.8,502.4 625.3,505.4 C626.8,508.4 626.6,521.9 625.3,524.7 C624.0,527.4 620.2,521.7 617.6,522.1 C615.1,522.5 612.1,525.7 609.9,527.2 C607.8,528.7 606.0,531.5 604.8,531.1 C603.6,530.6 603.0,526.6 602.9,524.7 C602.8,522.7 603.8,521.2 604.2,519.5 C604.5,517.8 603.6,515.5 604.8,514.4Z" fill="rgb(201,93,38)" stroke="rgb(201,93,38)" stroke-width="1.0"/><path d="M575.3,536.2 C576.2,533.6 578.5,534.3 580.4,534.9 C582.4,535.6 584.7,539.4 586.8,540.1 C589.0,540.7 591.1,539.4 593.3,538.8 C595.4,538.1 597.3,536.8 599.7,536.2 C602.0,535.6 604.8,535.4 607.4,534.9 C609.9,534.5 612.1,534.1 615.1,533.6 C618.0,533.2 623.6,529.6 625.3,532.4 C627.0,535.1 633.6,547.3 625.3,550.3 C617.0,553.3 583.6,552.7 575.3,550.3 C567.0,548.0 574.5,538.8 575.3,536.2Z" fill="rgb(201,93,38)" stroke="rgb(201,93,38)" stroke-width="1.0"/></g></g><g mask="url(#cz535_546)"><rect x="535" y="540" width="95" height="101" fill="rgb(237,181,90)"/><g filter="url(#fWallC)"><path d="M543.3,542.4 C544.8,540.7 550.7,540.7 552.2,542.4 C553.7,544.1 552.4,549.5 552.2,552.7 C552.0,555.9 550.7,558.7 550.9,561.7 C551.2,564.7 552.4,568.5 553.5,570.6 C554.6,572.8 557.1,572.8 557.4,574.5 C557.6,576.2 555.6,578.8 554.8,580.9 C553.9,583.0 552.4,584.7 552.2,587.3 C552.0,589.9 553.5,593.5 553.5,596.3 C553.5,599.1 552.2,601.4 552.2,604.0 C552.2,606.5 552.9,609.3 553.5,611.7 C554.2,614.0 555.2,615.9 556.1,618.1 C556.9,620.2 557.6,622.8 558.6,624.5 C559.7,626.2 561.4,626.2 562.5,628.3 C563.6,630.5 567.8,635.8 565.1,637.3 C562.3,638.8 548.8,638.8 545.8,637.3 C542.8,635.8 547.3,630.9 547.1,628.3 C546.9,625.8 545.2,624.3 544.5,621.9 C543.9,619.6 543.3,616.8 543.3,614.2 C543.3,611.7 544.3,609.5 544.5,606.5 C544.8,603.5 544.3,599.5 544.5,596.3 C544.8,593.1 546.0,590.1 545.8,587.3 C545.6,584.5 543.7,582.4 543.3,579.6 C542.8,576.8 543.0,573.8 543.3,570.6 C543.5,567.4 544.5,563.4 544.5,560.4 C544.5,557.4 543.5,555.7 543.3,552.7 C543.0,549.7 541.8,544.1 543.3,542.4Z" fill="none" stroke="rgb(250,215,140)" stroke-width="3.8"/><path d="M575.3,542.4 C583.6,541.6 617.0,540.7 625.3,542.4 C633.6,544.1 627.9,551.2 625.3,552.7 C622.7,554.2 614.2,551.4 609.9,551.4 C605.6,551.4 603.1,552.5 599.7,552.7 C596.2,552.9 592.8,553.1 589.4,552.7 C586.0,552.3 581.5,551.0 579.2,550.1 C576.8,549.3 575.9,548.8 575.3,547.6 C574.7,546.3 567.0,543.3 575.3,542.4Z" fill="none" stroke="rgb(250,215,140)" stroke-width="3.8"/><path d="M568.9,574.5 C570.0,571.1 573.2,568.1 575.3,565.5 C577.4,562.9 579.8,560.0 581.7,559.1 C583.6,558.2 585.6,558.9 586.8,560.4 C588.1,561.9 588.8,565.1 589.4,568.1 C590.1,571.1 590.7,575.1 590.7,578.3 C590.7,581.5 589.8,584.7 589.4,587.3 C589.0,589.9 587.7,591.8 588.1,593.7 C588.6,595.6 590.9,596.9 592.0,598.8 C593.0,600.8 594.8,603.3 594.5,605.3 C594.3,607.2 592.0,609.1 590.7,610.4 C589.4,611.7 588.3,613.2 586.8,612.9 C585.4,612.7 582.8,611.0 581.7,609.1 C580.6,607.2 580.4,603.5 580.4,601.4 C580.4,599.3 581.1,598.2 581.7,596.3 C582.4,594.4 584.3,592.2 584.3,589.9 C584.3,587.5 582.6,582.8 581.7,582.2 C580.9,581.5 580.0,584.5 579.2,586.0 C578.3,587.5 577.4,589.4 576.6,591.2 C575.7,592.9 575.1,595.9 574.0,596.3 C573.0,596.7 571.0,595.4 570.2,593.7 C569.3,592.0 569.1,589.2 568.9,586.0 C568.7,582.8 567.8,577.9 568.9,574.5Z" fill="none" stroke="rgb(250,215,140)" stroke-width="3.8"/><path d="M603.5,559.1 C604.6,557.7 608.0,557.4 609.9,557.2 C611.8,557.0 613.3,557.3 615.1,557.8 C616.8,558.4 618.5,558.2 620.2,560.4 C621.9,562.5 626.2,568.7 625.3,570.6 C624.5,572.6 617.8,571.9 615.1,571.9 C612.3,571.9 610.6,571.7 608.6,570.6 C606.7,569.6 604.4,567.4 603.5,565.5 C602.7,563.6 602.4,560.5 603.5,559.1Z" fill="none" stroke="rgb(250,215,140)" stroke-width="3.8"/><path d="M599.7,584.7 C600.3,582.6 603.5,579.6 604.8,578.3 C606.1,577.1 606.5,576.2 607.4,577.1 C608.2,577.9 609.3,581.1 609.9,583.5 C610.6,585.8 611.2,588.6 611.2,591.2 C611.2,593.7 610.6,597.1 609.9,598.8 C609.3,600.6 608.4,601.8 607.4,601.4 C606.3,601.0 604.6,598.0 603.5,596.3 C602.4,594.6 601.6,593.1 600.9,591.2 C600.3,589.2 599.0,586.9 599.7,584.7Z" fill="none" stroke="rgb(250,215,140)" stroke-width="3.8"/><path d="M577.9,621.9 C579.2,618.5 582.4,618.1 584.3,616.8 C586.2,615.5 587.9,613.8 589.4,614.2 C590.9,614.7 592.4,617.2 593.3,619.4 C594.1,621.5 594.8,624.1 594.5,627.1 C594.3,630.0 595.0,635.6 592.0,637.3 C589.0,639.0 578.9,639.9 576.6,637.3 C574.2,634.7 576.6,625.3 577.9,621.9Z" fill="none" stroke="rgb(250,215,140)" stroke-width="3.8"/><path d="M617.6,615.5 C619.1,613.8 624.0,610.6 625.3,614.2 C626.6,617.9 626.6,633.5 625.3,637.3 C624.0,641.2 619.1,639.4 617.6,637.3 C616.1,635.2 616.3,628.1 616.3,624.5 C616.3,620.9 616.1,617.2 617.6,615.5Z" fill="none" stroke="rgb(250,215,140)" stroke-width="3.8"/><path d="M556.1,633.5 C557.4,632.6 560.8,631.5 562.5,632.2 C564.2,632.8 567.6,636.5 566.3,637.3 C565.1,638.2 556.5,637.9 554.8,637.3 C553.1,636.7 554.8,634.3 556.1,633.5Z" fill="none" stroke="rgb(250,215,140)" stroke-width="3.8"/><path d="M543.3,542.4 C544.8,540.7 550.7,540.7 552.2,542.4 C553.7,544.1 552.4,549.5 552.2,552.7 C552.0,555.9 550.7,558.7 550.9,561.7 C551.2,564.7 552.4,568.5 553.5,570.6 C554.6,572.8 557.1,572.8 557.4,574.5 C557.6,576.2 555.6,578.8 554.8,580.9 C553.9,583.0 552.4,584.7 552.2,587.3 C552.0,589.9 553.5,593.5 553.5,596.3 C553.5,599.1 552.2,601.4 552.2,604.0 C552.2,606.5 552.9,609.3 553.5,611.7 C554.2,614.0 555.2,615.9 556.1,618.1 C556.9,620.2 557.6,622.8 558.6,624.5 C559.7,626.2 561.4,626.2 562.5,628.3 C563.6,630.5 567.8,635.8 565.1,637.3 C562.3,638.8 548.8,638.8 545.8,637.3 C542.8,635.8 547.3,630.9 547.1,628.3 C546.9,625.8 545.2,624.3 544.5,621.9 C543.9,619.6 543.3,616.8 543.3,614.2 C543.3,611.7 544.3,609.5 544.5,606.5 C544.8,603.5 544.3,599.5 544.5,596.3 C544.8,593.1 546.0,590.1 545.8,587.3 C545.6,584.5 543.7,582.4 543.3,579.6 C542.8,576.8 543.0,573.8 543.3,570.6 C543.5,567.4 544.5,563.4 544.5,560.4 C544.5,557.4 543.5,555.7 543.3,552.7 C543.0,549.7 541.8,544.1 543.3,542.4Z" fill="none" stroke="rgb(165,62,22)" stroke-width="2.4"/><path d="M575.3,542.4 C583.6,541.6 617.0,540.7 625.3,542.4 C633.6,544.1 627.9,551.2 625.3,552.7 C622.7,554.2 614.2,551.4 609.9,551.4 C605.6,551.4 603.1,552.5 599.7,552.7 C596.2,552.9 592.8,553.1 589.4,552.7 C586.0,552.3 581.5,551.0 579.2,550.1 C576.8,549.3 575.9,548.8 575.3,547.6 C574.7,546.3 567.0,543.3 575.3,542.4Z" fill="none" stroke="rgb(165,62,22)" stroke-width="2.4"/><path d="M568.9,574.5 C570.0,571.1 573.2,568.1 575.3,565.5 C577.4,562.9 579.8,560.0 581.7,559.1 C583.6,558.2 585.6,558.9 586.8,560.4 C588.1,561.9 588.8,565.1 589.4,568.1 C590.1,571.1 590.7,575.1 590.7,578.3 C590.7,581.5 589.8,584.7 589.4,587.3 C589.0,589.9 587.7,591.8 588.1,593.7 C588.6,595.6 590.9,596.9 592.0,598.8 C593.0,600.8 594.8,603.3 594.5,605.3 C594.3,607.2 592.0,609.1 590.7,610.4 C589.4,611.7 588.3,613.2 586.8,612.9 C585.4,612.7 582.8,611.0 581.7,609.1 C580.6,607.2 580.4,603.5 580.4,601.4 C580.4,599.3 581.1,598.2 581.7,596.3 C582.4,594.4 584.3,592.2 584.3,589.9 C584.3,587.5 582.6,582.8 581.7,582.2 C580.9,581.5 580.0,584.5 579.2,586.0 C578.3,587.5 577.4,589.4 576.6,591.2 C575.7,592.9 575.1,595.9 574.0,596.3 C573.0,596.7 571.0,595.4 570.2,593.7 C569.3,592.0 569.1,589.2 568.9,586.0 C568.7,582.8 567.8,577.9 568.9,574.5Z" fill="none" stroke="rgb(165,62,22)" stroke-width="2.4"/><path d="M603.5,559.1 C604.6,557.7 608.0,557.4 609.9,557.2 C611.8,557.0 613.3,557.3 615.1,557.8 C616.8,558.4 618.5,558.2 620.2,560.4 C621.9,562.5 626.2,568.7 625.3,570.6 C624.5,572.6 617.8,571.9 615.1,571.9 C612.3,571.9 610.6,571.7 608.6,570.6 C606.7,569.6 604.4,567.4 603.5,565.5 C602.7,563.6 602.4,560.5 603.5,559.1Z" fill="none" stroke="rgb(165,62,22)" stroke-width="2.4"/><path d="M599.7,584.7 C600.3,582.6 603.5,579.6 604.8,578.3 C606.1,577.1 606.5,576.2 607.4,577.1 C608.2,577.9 609.3,581.1 609.9,583.5 C610.6,585.8 611.2,588.6 611.2,591.2 C611.2,593.7 610.6,597.1 609.9,598.8 C609.3,600.6 608.4,601.8 607.4,601.4 C606.3,601.0 604.6,598.0 603.5,596.3 C602.4,594.6 601.6,593.1 600.9,591.2 C600.3,589.2 599.0,586.9 599.7,584.7Z" fill="none" stroke="rgb(165,62,22)" stroke-width="2.4"/><path d="M577.9,621.9 C579.2,618.5 582.4,618.1 584.3,616.8 C586.2,615.5 587.9,613.8 589.4,614.2 C590.9,614.7 592.4,617.2 593.3,619.4 C594.1,621.5 594.8,624.1 594.5,627.1 C594.3,630.0 595.0,635.6 592.0,637.3 C589.0,639.0 578.9,639.9 576.6,637.3 C574.2,634.7 576.6,625.3 577.9,621.9Z" fill="none" stroke="rgb(165,62,22)" stroke-width="2.4"/><path d="M617.6,615.5 C619.1,613.8 624.0,610.6 625.3,614.2 C626.6,617.9 626.6,633.5 625.3,637.3 C624.0,641.2 619.1,639.4 617.6,637.3 C616.1,635.2 616.3,628.1 616.3,624.5 C616.3,620.9 616.1,617.2 617.6,615.5Z" fill="none" stroke="rgb(165,62,22)" stroke-width="2.4"/><path d="M556.1,633.5 C557.4,632.6 560.8,631.5 562.5,632.2 C564.2,632.8 567.6,636.5 566.3,637.3 C565.1,638.2 556.5,637.9 554.8,637.3 C553.1,636.7 554.8,634.3 556.1,633.5Z" fill="none" stroke="rgb(165,62,22)" stroke-width="2.4"/><path d="M543.3,542.4 C544.8,540.7 550.7,540.7 552.2,542.4 C553.7,544.1 552.4,549.5 552.2,552.7 C552.0,555.9 550.7,558.7 550.9,561.7 C551.2,564.7 552.4,568.5 553.5,570.6 C554.6,572.8 557.1,572.8 557.4,574.5 C557.6,576.2 555.6,578.8 554.8,580.9 C553.9,583.0 552.4,584.7 552.2,587.3 C552.0,589.9 553.5,593.5 553.5,596.3 C553.5,599.1 552.2,601.4 552.2,604.0 C552.2,606.5 552.9,609.3 553.5,611.7 C554.2,614.0 555.2,615.9 556.1,618.1 C556.9,620.2 557.6,622.8 558.6,624.5 C559.7,626.2 561.4,626.2 562.5,628.3 C563.6,630.5 567.8,635.8 565.1,637.3 C562.3,638.8 548.8,638.8 545.8,637.3 C542.8,635.8 547.3,630.9 547.1,628.3 C546.9,625.8 545.2,624.3 544.5,621.9 C543.9,619.6 543.3,616.8 543.3,614.2 C543.3,611.7 544.3,609.5 544.5,606.5 C544.8,603.5 544.3,599.5 544.5,596.3 C544.8,593.1 546.0,590.1 545.8,587.3 C545.6,584.5 543.7,582.4 543.3,579.6 C542.8,576.8 543.0,573.8 543.3,570.6 C543.5,567.4 544.5,563.4 544.5,560.4 C544.5,557.4 543.5,555.7 543.3,552.7 C543.0,549.7 541.8,544.1 543.3,542.4Z" fill="rgb(201,93,38)" stroke="rgb(201,93,38)" stroke-width="1.0"/><path d="M575.3,542.4 C583.6,541.6 617.0,540.7 625.3,542.4 C633.6,544.1 627.9,551.2 625.3,552.7 C622.7,554.2 614.2,551.4 609.9,551.4 C605.6,551.4 603.1,552.5 599.7,552.7 C596.2,552.9 592.8,553.1 589.4,552.7 C586.0,552.3 581.5,551.0 579.2,550.1 C576.8,549.3 575.9,548.8 575.3,547.6 C574.7,546.3 567.0,543.3 575.3,542.4Z" fill="rgb(201,93,38)" stroke="rgb(201,93,38)" stroke-width="1.0"/><path d="M568.9,574.5 C570.0,571.1 573.2,568.1 575.3,565.5 C577.4,562.9 579.8,560.0 581.7,559.1 C583.6,558.2 585.6,558.9 586.8,560.4 C588.1,561.9 588.8,565.1 589.4,568.1 C590.1,571.1 590.7,575.1 590.7,578.3 C590.7,581.5 589.8,584.7 589.4,587.3 C589.0,589.9 587.7,591.8 588.1,593.7 C588.6,595.6 590.9,596.9 592.0,598.8 C593.0,600.8 594.8,603.3 594.5,605.3 C594.3,607.2 592.0,609.1 590.7,610.4 C589.4,611.7 588.3,613.2 586.8,612.9 C585.4,612.7 582.8,611.0 581.7,609.1 C580.6,607.2 580.4,603.5 580.4,601.4 C580.4,599.3 581.1,598.2 581.7,596.3 C582.4,594.4 584.3,592.2 584.3,589.9 C584.3,587.5 582.6,582.8 581.7,582.2 C580.9,581.5 580.0,584.5 579.2,586.0 C578.3,587.5 577.4,589.4 576.6,591.2 C575.7,592.9 575.1,595.9 574.0,596.3 C573.0,596.7 571.0,595.4 570.2,593.7 C569.3,592.0 569.1,589.2 568.9,586.0 C568.7,582.8 567.8,577.9 568.9,574.5Z" fill="rgb(201,93,38)" stroke="rgb(201,93,38)" stroke-width="1.0"/><path d="M603.5,559.1 C604.6,557.7 608.0,557.4 609.9,557.2 C611.8,557.0 613.3,557.3 615.1,557.8 C616.8,558.4 618.5,558.2 620.2,560.4 C621.9,562.5 626.2,568.7 625.3,570.6 C624.5,572.6 617.8,571.9 615.1,571.9 C612.3,571.9 610.6,571.7 608.6,570.6 C606.7,569.6 604.4,567.4 603.5,565.5 C602.7,563.6 602.4,560.5 603.5,559.1Z" fill="rgb(201,93,38)" stroke="rgb(201,93,38)" stroke-width="1.0"/><path d="M599.7,584.7 C600.3,582.6 603.5,579.6 604.8,578.3 C606.1,577.1 606.5,576.2 607.4,577.1 C608.2,577.9 609.3,581.1 609.9,583.5 C610.6,585.8 611.2,588.6 611.2,591.2 C611.2,593.7 610.6,597.1 609.9,598.8 C609.3,600.6 608.4,601.8 607.4,601.4 C606.3,601.0 604.6,598.0 603.5,596.3 C602.4,594.6 601.6,593.1 600.9,591.2 C600.3,589.2 599.0,586.9 599.7,584.7Z" fill="rgb(201,93,38)" stroke="rgb(201,93,38)" stroke-width="1.0"/><path d="M577.9,621.9 C579.2,618.5 582.4,618.1 584.3,616.8 C586.2,615.5 587.9,613.8 589.4,614.2 C590.9,614.7 592.4,617.2 593.3,619.4 C594.1,621.5 594.8,624.1 594.5,627.1 C594.3,630.0 595.0,635.6 592.0,637.3 C589.0,639.0 578.9,639.9 576.6,637.3 C574.2,634.7 576.6,625.3 577.9,621.9Z" fill="rgb(201,93,38)" stroke="rgb(201,93,38)" stroke-width="1.0"/><path d="M617.6,615.5 C619.1,613.8 624.0,610.6 625.3,614.2 C626.6,617.9 626.6,633.5 625.3,637.3 C624.0,641.2 619.1,639.4 617.6,637.3 C616.1,635.2 616.3,628.1 616.3,624.5 C616.3,620.9 616.1,617.2 617.6,615.5Z" fill="rgb(201,93,38)" stroke="rgb(201,93,38)" stroke-width="1.0"/><path d="M556.1,633.5 C557.4,632.6 560.8,631.5 562.5,632.2 C564.2,632.8 567.6,636.5 566.3,637.3 C565.1,638.2 556.5,637.9 554.8,637.3 C553.1,636.7 554.8,634.3 556.1,633.5Z" fill="rgb(201,93,38)" stroke="rgb(201,93,38)" stroke-width="1.0"/></g></g><g mask="url(#cz535_633)"><rect x="535" y="627" width="95" height="106" fill="rgb(201,93,38)"/><g filter="url(#fWallC)"><path d="M535.6,629.4 C537.5,626.9 545.0,626.9 547.1,629.4 C549.2,632.0 548.4,640.1 548.4,644.8 C548.4,649.5 547.5,653.4 547.1,657.6 C546.7,661.9 546.0,666.2 545.8,670.5 C545.6,674.7 545.6,679.0 545.8,683.3 C546.0,687.6 547.1,691.8 547.1,696.1 C547.1,700.4 546.2,704.2 545.8,708.9 C545.4,713.6 546.0,721.7 544.5,724.3 C543.0,726.9 538.3,726.9 536.8,724.3 C535.4,721.7 535.6,713.6 535.6,708.9 C535.6,704.2 536.8,700.4 536.8,696.1 C536.8,691.8 535.8,687.6 535.6,683.3 C535.4,679.0 535.5,674.7 535.6,670.5 C535.7,666.2 536.2,661.9 536.2,657.6 C536.2,653.4 535.7,649.5 535.6,644.8 C535.5,640.1 533.6,632.0 535.6,629.4Z" fill="rgb(237,181,90)" stroke="rgb(250,215,140)" stroke-width="1.0"/><path d="M554.8,629.4 C556.5,628.4 563.6,628.2 565.1,629.4 C566.5,630.7 564.0,635.2 563.8,637.1 C563.6,639.1 564.6,640.8 563.8,641.0 C562.9,641.2 560.1,639.3 558.6,638.4 C557.1,637.6 555.4,637.3 554.8,635.8 C554.2,634.4 553.1,630.5 554.8,629.4Z" fill="rgb(237,181,90)" stroke="rgb(250,215,140)" stroke-width="1.0"/><path d="M552.2,669.2 C553.3,667.0 556.3,664.3 558.6,662.8 C561.0,661.3 564.4,661.5 566.3,660.2 C568.3,658.9 569.3,657.2 570.2,655.1 C571.0,652.9 570.8,649.5 571.5,647.4 C572.1,645.2 572.5,644.0 574.0,642.3 C575.5,640.5 578.7,639.3 580.4,637.1 C582.1,635.0 580.2,630.7 584.3,629.4 C588.3,628.2 600.5,628.6 604.8,629.4 C609.1,630.3 608.2,633.3 609.9,634.6 C611.6,635.8 612.5,636.7 615.1,637.1 C617.6,637.6 623.6,635.6 625.3,637.1 C627.0,638.6 627.0,644.2 625.3,646.1 C623.6,648.0 617.6,647.6 615.1,648.7 C612.5,649.7 611.2,651.0 609.9,652.5 C608.6,654.0 607.4,655.5 607.4,657.6 C607.4,659.8 609.1,662.8 609.9,665.3 C610.8,667.9 612.1,670.7 612.5,673.0 C612.9,675.4 613.1,678.6 612.5,679.4 C611.8,680.3 609.9,679.0 608.6,678.2 C607.4,677.3 605.6,676.2 604.8,674.3 C603.9,672.4 604.2,668.5 603.5,666.6 C602.9,664.7 602.0,663.2 600.9,662.8 C599.9,662.3 598.6,663.4 597.1,664.1 C595.6,664.7 593.3,665.5 592.0,666.6 C590.7,667.7 590.3,670.0 589.4,670.5 C588.6,670.9 587.5,670.0 586.8,669.2 C586.2,668.3 586.6,666.2 585.6,665.3 C584.5,664.5 582.1,663.6 580.4,664.1 C578.7,664.5 577.0,666.2 575.3,667.9 C573.6,669.6 571.7,672.4 570.2,674.3 C568.7,676.2 567.8,678.4 566.3,679.4 C564.8,680.5 562.5,679.6 561.2,680.7 C559.9,681.8 559.3,683.7 558.6,685.8 C558.0,688.0 557.4,691.0 557.4,693.5 C557.4,696.1 557.8,698.9 558.6,701.2 C559.5,703.6 561.2,705.9 562.5,707.6 C563.8,709.4 565.3,710.0 566.3,711.5 C567.4,713.0 568.3,714.5 568.9,716.6 C569.5,718.8 573.8,723.0 570.2,724.3 C566.5,725.6 550.5,726.0 547.1,724.3 C543.7,722.6 548.8,717.5 549.7,714.1 C550.5,710.6 551.8,707.2 552.2,703.8 C552.7,700.4 552.2,697.0 552.2,693.5 C552.2,690.1 552.2,686.3 552.2,683.3 C552.2,680.3 552.2,677.9 552.2,675.6 C552.2,673.2 551.2,671.3 552.2,669.2Z" fill="rgb(237,181,90)" stroke="rgb(250,215,140)" stroke-width="1.0"/><path d="M568.9,683.3 C570.2,682.0 572.3,681.6 574.0,682.0 C575.7,682.4 577.2,685.4 579.2,685.8 C581.1,686.3 583.9,684.6 585.6,684.6 C587.3,684.6 588.1,685.4 589.4,685.8 C590.7,686.3 591.8,686.7 593.3,687.1 C594.8,687.6 596.5,687.6 598.4,688.4 C600.3,689.3 602.9,691.8 604.8,692.3 C606.7,692.7 608.0,691.4 609.9,691.0 C611.8,690.5 613.8,689.7 616.3,689.7 C618.9,689.7 623.8,689.5 625.3,691.0 C626.8,692.5 627.0,697.0 625.3,698.7 C623.6,700.4 617.6,700.8 615.1,701.2 C612.5,701.7 611.8,701.7 609.9,701.2 C608.0,700.8 605.6,699.3 603.5,698.7 C601.4,698.0 599.2,697.8 597.1,697.4 C595.0,697.0 592.8,696.5 590.7,696.1 C588.6,695.7 586.4,695.2 584.3,694.8 C582.1,694.4 580.0,694.0 577.9,693.5 C575.7,693.1 573.4,692.9 571.5,692.3 C569.5,691.6 566.8,691.2 566.3,689.7 C565.9,688.2 567.6,684.6 568.9,683.3Z" fill="rgb(237,181,90)" stroke="rgb(250,215,140)" stroke-width="1.0"/><path d="M616.3,669.2 C617.6,667.9 623.8,666.6 625.3,667.9 C626.8,669.2 626.6,675.6 625.3,676.9 C624.0,678.2 619.1,676.9 617.6,675.6 C616.1,674.3 615.1,670.5 616.3,669.2Z" fill="rgb(237,181,90)" stroke="rgb(250,215,140)" stroke-width="1.0"/><path d="M571.5,703.8 C573.2,699.9 578.3,701.4 581.7,701.2 C585.1,701.0 589.0,702.1 592.0,702.5 C595.0,702.9 596.7,703.6 599.7,703.8 C602.7,704.0 605.6,703.6 609.9,703.8 C614.2,704.0 622.7,701.7 625.3,705.1 C627.9,708.5 634.3,721.1 625.3,724.3 C616.3,727.5 580.4,727.7 571.5,724.3 C562.5,720.9 569.8,707.6 571.5,703.8Z" fill="rgb(237,181,90)" stroke="rgb(250,215,140)" stroke-width="1.0"/><path d="M535.6,629.4 C537.5,626.9 545.0,626.9 547.1,629.4 C549.2,632.0 548.4,640.1 548.4,644.8 C548.4,649.5 547.5,653.4 547.1,657.6 C546.7,661.9 546.0,666.2 545.8,670.5 C545.6,674.7 545.6,679.0 545.8,683.3 C546.0,687.6 547.1,691.8 547.1,696.1 C547.1,700.4 546.2,704.2 545.8,708.9 C545.4,713.6 546.0,721.7 544.5,724.3 C543.0,726.9 538.3,726.9 536.8,724.3 C535.4,721.7 535.6,713.6 535.6,708.9 C535.6,704.2 536.8,700.4 536.8,696.1 C536.8,691.8 535.8,687.6 535.6,683.3 C535.4,679.0 535.5,674.7 535.6,670.5 C535.7,666.2 536.2,661.9 536.2,657.6 C536.2,653.4 535.7,649.5 535.6,644.8 C535.5,640.1 533.6,632.0 535.6,629.4Z" fill="none" stroke="rgb(165,62,22)" stroke-width="1.4" stroke-opacity="0.9"/><path d="M554.8,629.4 C556.5,628.4 563.6,628.2 565.1,629.4 C566.5,630.7 564.0,635.2 563.8,637.1 C563.6,639.1 564.6,640.8 563.8,641.0 C562.9,641.2 560.1,639.3 558.6,638.4 C557.1,637.6 555.4,637.3 554.8,635.8 C554.2,634.4 553.1,630.5 554.8,629.4Z" fill="none" stroke="rgb(165,62,22)" stroke-width="1.4" stroke-opacity="0.9"/><path d="M552.2,669.2 C553.3,667.0 556.3,664.3 558.6,662.8 C561.0,661.3 564.4,661.5 566.3,660.2 C568.3,658.9 569.3,657.2 570.2,655.1 C571.0,652.9 570.8,649.5 571.5,647.4 C572.1,645.2 572.5,644.0 574.0,642.3 C575.5,640.5 578.7,639.3 580.4,637.1 C582.1,635.0 580.2,630.7 584.3,629.4 C588.3,628.2 600.5,628.6 604.8,629.4 C609.1,630.3 608.2,633.3 609.9,634.6 C611.6,635.8 612.5,636.7 615.1,637.1 C617.6,637.6 623.6,635.6 625.3,637.1 C627.0,638.6 627.0,644.2 625.3,646.1 C623.6,648.0 617.6,647.6 615.1,648.7 C612.5,649.7 611.2,651.0 609.9,652.5 C608.6,654.0 607.4,655.5 607.4,657.6 C607.4,659.8 609.1,662.8 609.9,665.3 C610.8,667.9 612.1,670.7 612.5,673.0 C612.9,675.4 613.1,678.6 612.5,679.4 C611.8,680.3 609.9,679.0 608.6,678.2 C607.4,677.3 605.6,676.2 604.8,674.3 C603.9,672.4 604.2,668.5 603.5,666.6 C602.9,664.7 602.0,663.2 600.9,662.8 C599.9,662.3 598.6,663.4 597.1,664.1 C595.6,664.7 593.3,665.5 592.0,666.6 C590.7,667.7 590.3,670.0 589.4,670.5 C588.6,670.9 587.5,670.0 586.8,669.2 C586.2,668.3 586.6,666.2 585.6,665.3 C584.5,664.5 582.1,663.6 580.4,664.1 C578.7,664.5 577.0,666.2 575.3,667.9 C573.6,669.6 571.7,672.4 570.2,674.3 C568.7,676.2 567.8,678.4 566.3,679.4 C564.8,680.5 562.5,679.6 561.2,680.7 C559.9,681.8 559.3,683.7 558.6,685.8 C558.0,688.0 557.4,691.0 557.4,693.5 C557.4,696.1 557.8,698.9 558.6,701.2 C559.5,703.6 561.2,705.9 562.5,707.6 C563.8,709.4 565.3,710.0 566.3,711.5 C567.4,713.0 568.3,714.5 568.9,716.6 C569.5,718.8 573.8,723.0 570.2,724.3 C566.5,725.6 550.5,726.0 547.1,724.3 C543.7,722.6 548.8,717.5 549.7,714.1 C550.5,710.6 551.8,707.2 552.2,703.8 C552.7,700.4 552.2,697.0 552.2,693.5 C552.2,690.1 552.2,686.3 552.2,683.3 C552.2,680.3 552.2,677.9 552.2,675.6 C552.2,673.2 551.2,671.3 552.2,669.2Z" fill="none" stroke="rgb(165,62,22)" stroke-width="1.4" stroke-opacity="0.9"/><path d="M568.9,683.3 C570.2,682.0 572.3,681.6 574.0,682.0 C575.7,682.4 577.2,685.4 579.2,685.8 C581.1,686.3 583.9,684.6 585.6,684.6 C587.3,684.6 588.1,685.4 589.4,685.8 C590.7,686.3 591.8,686.7 593.3,687.1 C594.8,687.6 596.5,687.6 598.4,688.4 C600.3,689.3 602.9,691.8 604.8,692.3 C606.7,692.7 608.0,691.4 609.9,691.0 C611.8,690.5 613.8,689.7 616.3,689.7 C618.9,689.7 623.8,689.5 625.3,691.0 C626.8,692.5 627.0,697.0 625.3,698.7 C623.6,700.4 617.6,700.8 615.1,701.2 C612.5,701.7 611.8,701.7 609.9,701.2 C608.0,700.8 605.6,699.3 603.5,698.7 C601.4,698.0 599.2,697.8 597.1,697.4 C595.0,697.0 592.8,696.5 590.7,696.1 C588.6,695.7 586.4,695.2 584.3,694.8 C582.1,694.4 580.0,694.0 577.9,693.5 C575.7,693.1 573.4,692.9 571.5,692.3 C569.5,691.6 566.8,691.2 566.3,689.7 C565.9,688.2 567.6,684.6 568.9,683.3Z" fill="none" stroke="rgb(165,62,22)" stroke-width="1.4" stroke-opacity="0.9"/><path d="M616.3,669.2 C617.6,667.9 623.8,666.6 625.3,667.9 C626.8,669.2 626.6,675.6 625.3,676.9 C624.0,678.2 619.1,676.9 617.6,675.6 C616.1,674.3 615.1,670.5 616.3,669.2Z" fill="none" stroke="rgb(165,62,22)" stroke-width="1.4" stroke-opacity="0.9"/><path d="M571.5,703.8 C573.2,699.9 578.3,701.4 581.7,701.2 C585.1,701.0 589.0,702.1 592.0,702.5 C595.0,702.9 596.7,703.6 599.7,703.8 C602.7,704.0 605.6,703.6 609.9,703.8 C614.2,704.0 622.7,701.7 625.3,705.1 C627.9,708.5 634.3,721.1 625.3,724.3 C616.3,727.5 580.4,727.7 571.5,724.3 C562.5,720.9 569.8,707.6 571.5,703.8Z" fill="none" stroke="rgb(165,62,22)" stroke-width="1.4" stroke-opacity="0.9"/></g></g><g mask="url(#cz547_596)"><rect x="547" y="590" width="83" height="98" fill="rgb(237,181,90)"/><g filter="url(#fWallC)"><path d="M547.3,592.7 C548.1,589.5 551.4,590.3 552.1,592.7 C552.8,595.2 551.3,603.4 551.5,607.3 C551.7,611.1 552.6,612.9 553.3,615.7 C554.0,618.6 554.5,622.2 555.7,624.2 C556.9,626.2 558.6,627.4 560.6,627.8 C562.6,628.2 566.0,626.2 567.8,626.6 C569.7,627.0 570.5,629.1 571.5,630.3 C572.5,631.5 572.5,633.3 573.9,633.9 C575.3,634.5 579.5,632.9 580.0,633.9 C580.4,634.9 577.5,637.9 576.3,640.0 C575.1,642.0 573.5,643.8 572.7,646.0 C571.9,648.2 572.3,651.3 571.5,653.3 C570.7,655.3 569.7,656.7 567.8,658.1 C566.0,659.5 562.8,660.5 560.6,661.7 C558.4,663.0 555.9,664.0 554.5,665.4 C553.1,666.8 552.7,666.6 552.1,670.2 C551.5,673.8 551.7,684.3 550.9,687.2 C550.1,690.0 547.7,690.4 547.3,687.2 C546.9,683.9 548.3,673.2 548.5,667.8 C548.7,662.3 548.4,659.1 548.5,654.5 C548.6,649.8 549.2,645.0 549.1,640.0 C549.0,634.9 548.2,628.9 547.9,624.2 C547.6,619.6 547.4,617.4 547.3,612.1 C547.2,606.9 546.5,596.0 547.3,592.7Z" fill="none" stroke="rgb(250,215,140)" stroke-width="3.8"/><path d="M580.0,592.7 C582.4,590.9 593.5,590.3 595.7,592.7 C597.9,595.2 594.1,603.8 593.3,607.3 C592.5,610.7 590.8,611.3 590.8,613.3 C590.8,615.3 592.9,616.3 593.3,619.4 C593.7,622.4 594.1,629.1 593.3,631.5 C592.5,633.9 590.6,633.5 588.4,633.9 C586.2,634.3 581.8,634.9 580.0,633.9 C578.1,632.9 577.5,629.7 577.5,627.8 C577.5,626.0 578.7,624.8 580.0,623.0 C581.2,621.2 583.6,618.8 584.8,616.9 C586.0,615.1 587.4,613.7 587.2,612.1 C587.0,610.5 584.6,608.7 583.6,607.3 C582.6,605.9 581.8,606.1 581.2,603.6 C580.6,601.2 577.5,594.6 580.0,592.7Z" fill="none" stroke="rgb(250,215,140)" stroke-width="3.8"/><path d="M617.5,614.5 C619.5,613.1 625.6,612.1 627.2,615.7 C628.8,619.4 628.8,631.9 627.2,636.3 C625.6,640.8 619.9,641.4 617.5,642.4 C615.1,643.4 613.8,643.4 612.6,642.4 C611.4,641.4 610.0,638.1 610.2,636.3 C610.4,634.5 613.0,633.5 613.8,631.5 C614.7,629.5 614.5,627.0 615.1,624.2 C615.7,621.4 615.5,615.9 617.5,614.5Z" fill="none" stroke="rgb(250,215,140)" stroke-width="3.8"/><path d="M570.3,687.2 C563.8,684.3 573.3,674.1 575.1,670.2 C576.9,666.4 579.3,665.2 581.2,664.2 C583.0,663.2 584.8,663.2 586.0,664.2 C587.2,665.2 587.4,669.6 588.4,670.2 C589.4,670.8 590.4,669.2 592.1,667.8 C593.7,666.4 596.3,662.3 598.1,661.7 C599.9,661.1 601.3,662.8 603.0,664.2 C604.6,665.6 606.2,668.0 607.8,670.2 C609.4,672.4 611.6,674.7 612.6,677.5 C613.6,680.3 620.9,685.6 613.8,687.2 C606.8,688.8 576.7,690.0 570.3,687.2Z" fill="none" stroke="rgb(250,215,140)" stroke-width="3.8"/><path d="M609.0,654.5 C610.2,652.5 614.5,651.5 617.5,650.8 C620.5,650.2 625.6,644.8 627.2,650.8 C628.8,656.9 628.8,681.1 627.2,687.2 C625.6,693.2 619.5,689.6 617.5,687.2 C615.5,684.7 616.3,676.7 615.1,672.6 C613.8,668.6 611.2,666.0 610.2,663.0 C609.2,659.9 607.8,656.5 609.0,654.5Z" fill="none" stroke="rgb(250,215,140)" stroke-width="3.8"/><path d="M605.4,592.7 C606.0,591.1 609.6,591.1 610.2,592.7 C610.8,594.4 609.6,600.8 609.0,602.4 C608.4,604.0 607.2,604.0 606.6,602.4 C606.0,600.8 604.8,594.4 605.4,592.7Z" fill="none" stroke="rgb(250,215,140)" stroke-width="3.8"/><path d="M547.3,592.7 C548.1,589.5 551.4,590.3 552.1,592.7 C552.8,595.2 551.3,603.4 551.5,607.3 C551.7,611.1 552.6,612.9 553.3,615.7 C554.0,618.6 554.5,622.2 555.7,624.2 C556.9,626.2 558.6,627.4 560.6,627.8 C562.6,628.2 566.0,626.2 567.8,626.6 C569.7,627.0 570.5,629.1 571.5,630.3 C572.5,631.5 572.5,633.3 573.9,633.9 C575.3,634.5 579.5,632.9 580.0,633.9 C580.4,634.9 577.5,637.9 576.3,640.0 C575.1,642.0 573.5,643.8 572.7,646.0 C571.9,648.2 572.3,651.3 571.5,653.3 C570.7,655.3 569.7,656.7 567.8,658.1 C566.0,659.5 562.8,660.5 560.6,661.7 C558.4,663.0 555.9,664.0 554.5,665.4 C553.1,666.8 552.7,666.6 552.1,670.2 C551.5,673.8 551.7,684.3 550.9,687.2 C550.1,690.0 547.7,690.4 547.3,687.2 C546.9,683.9 548.3,673.2 548.5,667.8 C548.7,662.3 548.4,659.1 548.5,654.5 C548.6,649.8 549.2,645.0 549.1,640.0 C549.0,634.9 548.2,628.9 547.9,624.2 C547.6,619.6 547.4,617.4 547.3,612.1 C547.2,606.9 546.5,596.0 547.3,592.7Z" fill="none" stroke="rgb(165,62,22)" stroke-width="2.4"/><path d="M580.0,592.7 C582.4,590.9 593.5,590.3 595.7,592.7 C597.9,595.2 594.1,603.8 593.3,607.3 C592.5,610.7 590.8,611.3 590.8,613.3 C590.8,615.3 592.9,616.3 593.3,619.4 C593.7,622.4 594.1,629.1 593.3,631.5 C592.5,633.9 590.6,633.5 588.4,633.9 C586.2,634.3 581.8,634.9 580.0,633.9 C578.1,632.9 577.5,629.7 577.5,627.8 C577.5,626.0 578.7,624.8 580.0,623.0 C581.2,621.2 583.6,618.8 584.8,616.9 C586.0,615.1 587.4,613.7 587.2,612.1 C587.0,610.5 584.6,608.7 583.6,607.3 C582.6,605.9 581.8,606.1 581.2,603.6 C580.6,601.2 577.5,594.6 580.0,592.7Z" fill="none" stroke="rgb(165,62,22)" stroke-width="2.4"/><path d="M617.5,614.5 C619.5,613.1 625.6,612.1 627.2,615.7 C628.8,619.4 628.8,631.9 627.2,636.3 C625.6,640.8 619.9,641.4 617.5,642.4 C615.1,643.4 613.8,643.4 612.6,642.4 C611.4,641.4 610.0,638.1 610.2,636.3 C610.4,634.5 613.0,633.5 613.8,631.5 C614.7,629.5 614.5,627.0 615.1,624.2 C615.7,621.4 615.5,615.9 617.5,614.5Z" fill="none" stroke="rgb(165,62,22)" stroke-width="2.4"/><path d="M570.3,687.2 C563.8,684.3 573.3,674.1 575.1,670.2 C576.9,666.4 579.3,665.2 581.2,664.2 C583.0,663.2 584.8,663.2 586.0,664.2 C587.2,665.2 587.4,669.6 588.4,670.2 C589.4,670.8 590.4,669.2 592.1,667.8 C593.7,666.4 596.3,662.3 598.1,661.7 C599.9,661.1 601.3,662.8 603.0,664.2 C604.6,665.6 606.2,668.0 607.8,670.2 C609.4,672.4 611.6,674.7 612.6,677.5 C613.6,680.3 620.9,685.6 613.8,687.2 C606.8,688.8 576.7,690.0 570.3,687.2Z" fill="none" stroke="rgb(165,62,22)" stroke-width="2.4"/><path d="M609.0,654.5 C610.2,652.5 614.5,651.5 617.5,650.8 C620.5,650.2 625.6,644.8 627.2,650.8 C628.8,656.9 628.8,681.1 627.2,687.2 C625.6,693.2 619.5,689.6 617.5,687.2 C615.5,684.7 616.3,676.7 615.1,672.6 C613.8,668.6 611.2,666.0 610.2,663.0 C609.2,659.9 607.8,656.5 609.0,654.5Z" fill="none" stroke="rgb(165,62,22)" stroke-width="2.4"/><path d="M605.4,592.7 C606.0,591.1 609.6,591.1 610.2,592.7 C610.8,594.4 609.6,600.8 609.0,602.4 C608.4,604.0 607.2,604.0 606.6,602.4 C606.0,600.8 604.8,594.4 605.4,592.7Z" fill="none" stroke="rgb(165,62,22)" stroke-width="2.4"/><path d="M547.3,592.7 C548.1,589.5 551.4,590.3 552.1,592.7 C552.8,595.2 551.3,603.4 551.5,607.3 C551.7,611.1 552.6,612.9 553.3,615.7 C554.0,618.6 554.5,622.2 555.7,624.2 C556.9,626.2 558.6,627.4 560.6,627.8 C562.6,628.2 566.0,626.2 567.8,626.6 C569.7,627.0 570.5,629.1 571.5,630.3 C572.5,631.5 572.5,633.3 573.9,633.9 C575.3,634.5 579.5,632.9 580.0,633.9 C580.4,634.9 577.5,637.9 576.3,640.0 C575.1,642.0 573.5,643.8 572.7,646.0 C571.9,648.2 572.3,651.3 571.5,653.3 C570.7,655.3 569.7,656.7 567.8,658.1 C566.0,659.5 562.8,660.5 560.6,661.7 C558.4,663.0 555.9,664.0 554.5,665.4 C553.1,666.8 552.7,666.6 552.1,670.2 C551.5,673.8 551.7,684.3 550.9,687.2 C550.1,690.0 547.7,690.4 547.3,687.2 C546.9,683.9 548.3,673.2 548.5,667.8 C548.7,662.3 548.4,659.1 548.5,654.5 C548.6,649.8 549.2,645.0 549.1,640.0 C549.0,634.9 548.2,628.9 547.9,624.2 C547.6,619.6 547.4,617.4 547.3,612.1 C547.2,606.9 546.5,596.0 547.3,592.7Z" fill="rgb(201,93,38)" stroke="rgb(201,93,38)" stroke-width="1.0"/><path d="M580.0,592.7 C582.4,590.9 593.5,590.3 595.7,592.7 C597.9,595.2 594.1,603.8 593.3,607.3 C592.5,610.7 590.8,611.3 590.8,613.3 C590.8,615.3 592.9,616.3 593.3,619.4 C593.7,622.4 594.1,629.1 593.3,631.5 C592.5,633.9 590.6,633.5 588.4,633.9 C586.2,634.3 581.8,634.9 580.0,633.9 C578.1,632.9 577.5,629.7 577.5,627.8 C577.5,626.0 578.7,624.8 580.0,623.0 C581.2,621.2 583.6,618.8 584.8,616.9 C586.0,615.1 587.4,613.7 587.2,612.1 C587.0,610.5 584.6,608.7 583.6,607.3 C582.6,605.9 581.8,606.1 581.2,603.6 C580.6,601.2 577.5,594.6 580.0,592.7Z" fill="rgb(201,93,38)" stroke="rgb(201,93,38)" stroke-width="1.0"/><path d="M617.5,614.5 C619.5,613.1 625.6,612.1 627.2,615.7 C628.8,619.4 628.8,631.9 627.2,636.3 C625.6,640.8 619.9,641.4 617.5,642.4 C615.1,643.4 613.8,643.4 612.6,642.4 C611.4,641.4 610.0,638.1 610.2,636.3 C610.4,634.5 613.0,633.5 613.8,631.5 C614.7,629.5 614.5,627.0 615.1,624.2 C615.7,621.4 615.5,615.9 617.5,614.5Z" fill="rgb(201,93,38)" stroke="rgb(201,93,38)" stroke-width="1.0"/><path d="M570.3,687.2 C563.8,684.3 573.3,674.1 575.1,670.2 C576.9,666.4 579.3,665.2 581.2,664.2 C583.0,663.2 584.8,663.2 586.0,664.2 C587.2,665.2 587.4,669.6 588.4,670.2 C589.4,670.8 590.4,669.2 592.1,667.8 C593.7,666.4 596.3,662.3 598.1,661.7 C599.9,661.1 601.3,662.8 603.0,664.2 C604.6,665.6 606.2,668.0 607.8,670.2 C609.4,672.4 611.6,674.7 612.6,677.5 C613.6,680.3 620.9,685.6 613.8,687.2 C606.8,688.8 576.7,690.0 570.3,687.2Z" fill="rgb(201,93,38)" stroke="rgb(201,93,38)" stroke-width="1.0"/><path d="M609.0,654.5 C610.2,652.5 614.5,651.5 617.5,650.8 C620.5,650.2 625.6,644.8 627.2,650.8 C628.8,656.9 628.8,681.1 627.2,687.2 C625.6,693.2 619.5,689.6 617.5,687.2 C615.5,684.7 616.3,676.7 615.1,672.6 C613.8,668.6 611.2,666.0 610.2,663.0 C609.2,659.9 607.8,656.5 609.0,654.5Z" fill="rgb(201,93,38)" stroke="rgb(201,93,38)" stroke-width="1.0"/><path d="M605.4,592.7 C606.0,591.1 609.6,591.1 610.2,592.7 C610.8,594.4 609.6,600.8 609.0,602.4 C608.4,604.0 607.2,604.0 606.6,602.4 C606.0,600.8 604.8,594.4 605.4,592.7Z" fill="rgb(201,93,38)" stroke="rgb(201,93,38)" stroke-width="1.0"/><path d="M554.5,632.7 C554.9,632.0 557.8,631.1 559.4,632.1 C561.0,633.1 563.7,637.2 564.2,638.7 C564.7,640.3 563.6,641.6 562.4,641.2 C561.2,640.8 558.3,637.7 556.9,636.3 C555.6,634.9 554.1,633.4 554.5,632.7Z" fill="rgb(237,181,90)" stroke="rgb(250,215,140)" stroke-width="1.0"/><path d="M554.5,632.7 C554.9,632.0 557.8,631.1 559.4,632.1 C561.0,633.1 563.7,637.2 564.2,638.7 C564.7,640.3 563.6,641.6 562.4,641.2 C561.2,640.8 558.3,637.7 556.9,636.3 C555.6,634.9 554.1,633.4 554.5,632.7Z" fill="none" stroke="rgb(165,62,22)" stroke-width="1.4" stroke-opacity="0.9"/></g></g><g mask="url(#cz548_672)"><rect x="548" y="666" width="82" height="67" fill="rgb(201,93,38)"/><g filter="url(#fWallC)"><path d="M551.3,657.7 C552.8,655.4 559.5,655.4 561.0,657.7 C562.4,660.0 560.2,667.6 559.8,671.4 C559.4,675.2 558.7,677.5 558.7,680.5 C558.7,683.6 560.0,686.8 559.8,689.6 C559.6,692.5 558.1,694.9 557.5,697.6 C557.0,700.3 556.0,703.5 556.4,705.6 C556.8,707.7 558.3,708.8 559.8,710.1 C561.3,711.5 564.2,711.7 565.5,713.6 C566.8,715.5 568.2,719.4 567.8,721.5 C567.4,723.6 566.3,725.3 563.2,726.1 C560.2,726.9 551.5,728.0 549.6,726.1 C547.7,724.2 551.6,718.1 551.8,714.7 C552.0,711.3 550.7,709.0 550.7,705.6 C550.7,702.2 551.5,698.0 551.8,694.2 C552.2,690.4 553.0,686.6 553.0,682.8 C553.0,679.0 552.1,675.6 551.8,671.4 C551.6,667.2 549.7,660.0 551.3,657.7Z" fill="rgb(237,181,90)" stroke="rgb(250,215,140)" stroke-width="1.0"/><path d="M559.8,657.7 C565.3,655.1 587.7,656.8 592.9,657.7 C598.0,658.7 591.7,662.3 590.6,663.4 C589.4,664.6 587.4,663.8 586.0,664.6 C584.7,665.3 584.1,667.2 582.6,668.0 C581.1,668.7 578.6,668.5 576.9,669.1 C575.2,669.7 573.9,670.4 572.4,671.4 C570.8,672.3 569.3,673.9 567.8,674.8 C566.3,675.8 564.6,677.3 563.2,677.1 C561.9,676.9 560.4,676.9 559.8,673.7 C559.2,670.4 554.3,660.4 559.8,657.7Z" fill="rgb(237,181,90)" stroke="rgb(250,215,140)" stroke-width="1.0"/><path d="M584.9,662.3 C585.6,661.1 589.4,661.1 590.6,662.3 C591.7,663.4 591.9,667.4 591.7,669.1 C591.5,670.8 590.4,672.5 589.4,672.5 C588.5,672.5 586.8,670.8 586.0,669.1 C585.3,667.4 584.1,663.4 584.9,662.3Z" fill="rgb(237,181,90)" stroke="rgb(250,215,140)" stroke-width="1.0"/><path d="M599.7,657.7 C601.4,656.4 609.0,655.8 611.1,657.7 C613.2,659.6 611.7,666.1 612.2,669.1 C612.8,672.2 614.7,674.1 614.5,676.0 C614.3,677.9 612.4,679.9 611.1,680.5 C609.8,681.1 607.7,680.9 606.5,679.4 C605.4,677.9 605.2,673.7 604.3,671.4 C603.3,669.1 601.6,668.0 600.8,665.7 C600.1,663.4 598.0,659.1 599.7,657.7Z" fill="rgb(237,181,90)" stroke="rgb(250,215,140)" stroke-width="1.0"/><path d="M567.8,682.8 C568.6,681.5 571.6,681.1 573.5,681.7 C575.4,682.2 576.7,685.8 579.2,686.2 C581.7,686.6 585.8,683.9 588.3,683.9 C590.8,683.9 592.3,685.3 594.0,686.2 C595.7,687.2 596.9,688.9 598.6,689.6 C600.3,690.4 602.2,690.6 604.3,690.8 C606.3,691.0 608.8,691.0 611.1,690.8 C613.4,690.6 615.3,689.6 617.9,689.6 C620.6,689.6 625.5,689.6 627.1,690.8 C628.6,691.9 629.0,695.5 627.1,696.5 C625.2,697.4 618.7,696.3 615.7,696.5 C612.6,696.7 611.1,697.8 608.8,697.6 C606.5,697.4 604.3,695.9 602.0,695.3 C599.7,694.8 597.4,694.6 595.1,694.2 C592.9,693.8 590.6,693.2 588.3,693.0 C586.0,692.9 583.7,693.2 581.5,693.0 C579.2,692.9 576.7,692.5 574.6,691.9 C572.5,691.3 570.1,691.1 568.9,689.6 C567.8,688.1 567.0,684.1 567.8,682.8Z" fill="rgb(237,181,90)" stroke="rgb(250,215,140)" stroke-width="1.0"/><path d="M619.1,670.3 C620.2,668.9 625.7,667.8 627.1,669.1 C628.4,670.4 628.2,676.9 627.1,678.2 C625.9,679.6 621.5,678.4 620.2,677.1 C618.9,675.8 617.9,671.6 619.1,670.3Z" fill="rgb(237,181,90)" stroke="rgb(250,215,140)" stroke-width="1.0"/><path d="M567.8,697.6 C568.6,696.7 571.0,695.7 572.4,696.5 C573.7,697.2 576.0,700.8 575.8,702.2 C575.6,703.5 572.5,704.4 571.2,704.4 C569.9,704.4 568.4,703.3 567.8,702.2 C567.2,701.0 567.0,698.6 567.8,697.6Z" fill="rgb(237,181,90)" stroke="rgb(250,215,140)" stroke-width="1.0"/><path d="M598.6,712.4 C599.7,711.9 602.9,712.4 604.3,713.6 C605.6,714.7 607.3,717.5 606.5,719.3 C605.8,721.0 601.2,724.2 599.7,723.8 C598.2,723.4 597.6,718.9 597.4,717.0 C597.2,715.1 597.4,713.0 598.6,712.4Z" fill="rgb(237,181,90)" stroke="rgb(250,215,140)" stroke-width="1.0"/><path d="M615.7,709.0 C617.2,706.3 625.2,705.4 627.1,707.9 C629.0,710.3 628.6,721.2 627.1,723.8 C625.5,726.5 619.8,726.3 617.9,723.8 C616.0,721.3 614.1,711.7 615.7,709.0Z" fill="rgb(237,181,90)" stroke="rgb(250,215,140)" stroke-width="1.0"/><path d="M551.3,657.7 C552.8,655.4 559.5,655.4 561.0,657.7 C562.4,660.0 560.2,667.6 559.8,671.4 C559.4,675.2 558.7,677.5 558.7,680.5 C558.7,683.6 560.0,686.8 559.8,689.6 C559.6,692.5 558.1,694.9 557.5,697.6 C557.0,700.3 556.0,703.5 556.4,705.6 C556.8,707.7 558.3,708.8 559.8,710.1 C561.3,711.5 564.2,711.7 565.5,713.6 C566.8,715.5 568.2,719.4 567.8,721.5 C567.4,723.6 566.3,725.3 563.2,726.1 C560.2,726.9 551.5,728.0 549.6,726.1 C547.7,724.2 551.6,718.1 551.8,714.7 C552.0,711.3 550.7,709.0 550.7,705.6 C550.7,702.2 551.5,698.0 551.8,694.2 C552.2,690.4 553.0,686.6 553.0,682.8 C553.0,679.0 552.1,675.6 551.8,671.4 C551.6,667.2 549.7,660.0 551.3,657.7Z" fill="none" stroke="rgb(165,62,22)" stroke-width="1.4" stroke-opacity="0.9"/><path d="M559.8,657.7 C565.3,655.1 587.7,656.8 592.9,657.7 C598.0,658.7 591.7,662.3 590.6,663.4 C589.4,664.6 587.4,663.8 586.0,664.6 C584.7,665.3 584.1,667.2 582.6,668.0 C581.1,668.7 578.6,668.5 576.9,669.1 C575.2,669.7 573.9,670.4 572.4,671.4 C570.8,672.3 569.3,673.9 567.8,674.8 C566.3,675.8 564.6,677.3 563.2,677.1 C561.9,676.9 560.4,676.9 559.8,673.7 C559.2,670.4 554.3,660.4 559.8,657.7Z" fill="none" stroke="rgb(165,62,22)" stroke-width="1.4" stroke-opacity="0.9"/><path d="M584.9,662.3 C585.6,661.1 589.4,661.1 590.6,662.3 C591.7,663.4 591.9,667.4 591.7,669.1 C591.5,670.8 590.4,672.5 589.4,672.5 C588.5,672.5 586.8,670.8 586.0,669.1 C585.3,667.4 584.1,663.4 584.9,662.3Z" fill="none" stroke="rgb(165,62,22)" stroke-width="1.4" stroke-opacity="0.9"/><path d="M599.7,657.7 C601.4,656.4 609.0,655.8 611.1,657.7 C613.2,659.6 611.7,666.1 612.2,669.1 C612.8,672.2 614.7,674.1 614.5,676.0 C614.3,677.9 612.4,679.9 611.1,680.5 C609.8,681.1 607.7,680.9 606.5,679.4 C605.4,677.9 605.2,673.7 604.3,671.4 C603.3,669.1 601.6,668.0 600.8,665.7 C600.1,663.4 598.0,659.1 599.7,657.7Z" fill="none" stroke="rgb(165,62,22)" stroke-width="1.4" stroke-opacity="0.9"/><path d="M567.8,682.8 C568.6,681.5 571.6,681.1 573.5,681.7 C575.4,682.2 576.7,685.8 579.2,686.2 C581.7,686.6 585.8,683.9 588.3,683.9 C590.8,683.9 592.3,685.3 594.0,686.2 C595.7,687.2 596.9,688.9 598.6,689.6 C600.3,690.4 602.2,690.6 604.3,690.8 C606.3,691.0 608.8,691.0 611.1,690.8 C613.4,690.6 615.3,689.6 617.9,689.6 C620.6,689.6 625.5,689.6 627.1,690.8 C628.6,691.9 629.0,695.5 627.1,696.5 C625.2,697.4 618.7,696.3 615.7,696.5 C612.6,696.7 611.1,697.8 608.8,697.6 C606.5,697.4 604.3,695.9 602.0,695.3 C599.7,694.8 597.4,694.6 595.1,694.2 C592.9,693.8 590.6,693.2 588.3,693.0 C586.0,692.9 583.7,693.2 581.5,693.0 C579.2,692.9 576.7,692.5 574.6,691.9 C572.5,691.3 570.1,691.1 568.9,689.6 C567.8,688.1 567.0,684.1 567.8,682.8Z" fill="none" stroke="rgb(165,62,22)" stroke-width="1.4" stroke-opacity="0.9"/><path d="M619.1,670.3 C620.2,668.9 625.7,667.8 627.1,669.1 C628.4,670.4 628.2,676.9 627.1,678.2 C625.9,679.6 621.5,678.4 620.2,677.1 C618.9,675.8 617.9,671.6 619.1,670.3Z" fill="none" stroke="rgb(165,62,22)" stroke-width="1.4" stroke-opacity="0.9"/><path d="M567.8,697.6 C568.6,696.7 571.0,695.7 572.4,696.5 C573.7,697.2 576.0,700.8 575.8,702.2 C575.6,703.5 572.5,704.4 571.2,704.4 C569.9,704.4 568.4,703.3 567.8,702.2 C567.2,701.0 567.0,698.6 567.8,697.6Z" fill="none" stroke="rgb(165,62,22)" stroke-width="1.4" stroke-opacity="0.9"/><path d="M598.6,712.4 C599.7,711.9 602.9,712.4 604.3,713.6 C605.6,714.7 607.3,717.5 606.5,719.3 C605.8,721.0 601.2,724.2 599.7,723.8 C598.2,723.4 597.6,718.9 597.4,717.0 C597.2,715.1 597.4,713.0 598.6,712.4Z" fill="none" stroke="rgb(165,62,22)" stroke-width="1.4" stroke-opacity="0.9"/><path d="M615.7,709.0 C617.2,706.3 625.2,705.4 627.1,707.9 C629.0,710.3 628.6,721.2 627.1,723.8 C625.5,726.5 619.8,726.3 617.9,723.8 C616.0,721.3 614.1,711.7 615.7,709.0Z" fill="none" stroke="rgb(165,62,22)" stroke-width="1.4" stroke-opacity="0.9"/></g></g><g mask="url(#cz355_630)"><rect x="355" y="624" width="77.5" height="109" fill="rgb(237,181,90)"/><g filter="url(#fWallC)"><path d="M365.7,627.7 C366.8,626.9 370.6,626.1 372.4,627.0 C374.2,627.9 375.5,631.1 376.4,633.0 C377.3,634.9 378.2,637.3 377.7,638.4 C377.3,639.5 375.3,640.1 373.7,639.7 C372.2,639.3 369.7,637.0 368.4,635.7 C367.0,634.4 366.1,633.0 365.7,631.7 C365.2,630.3 364.6,628.5 365.7,627.7Z" fill="none" stroke="rgb(250,215,140)" stroke-width="3.8"/><path d="M391.1,622.3 C392.2,621.2 396.7,620.8 397.8,622.3 C398.9,623.9 398.2,629.5 397.8,631.7 C397.3,633.9 396.1,635.2 395.1,635.7 C394.1,636.1 392.4,635.5 391.8,634.4 C391.1,633.2 391.2,631.0 391.1,629.0 C391.0,627.0 390.0,623.4 391.1,622.3Z" fill="none" stroke="rgb(250,215,140)" stroke-width="3.8"/><path d="M403.1,622.3 C405.1,620.5 415.1,620.5 417.8,622.3 C420.5,624.1 418.7,629.2 419.2,633.0 C419.6,636.8 420.7,642.2 420.5,645.0 C420.3,647.9 418.7,647.9 417.8,650.4 C416.9,652.8 415.4,656.6 415.1,659.8 C414.9,662.9 416.0,666.0 416.5,669.1 C416.9,672.2 417.4,675.1 417.8,678.5 C418.3,681.8 418.7,685.6 419.2,689.2 C419.6,692.7 420.7,696.7 420.5,699.8 C420.3,703.0 418.5,703.9 417.8,707.9 C417.1,711.9 417.4,721.2 416.5,723.9 C415.6,726.6 412.9,726.1 412.5,723.9 C412.0,721.7 413.8,714.5 413.8,710.5 C413.8,706.5 413.4,702.5 412.5,699.8 C411.6,697.2 409.6,696.5 408.5,694.5 C407.3,692.5 406.5,690.0 405.8,687.8 C405.1,685.6 404.0,682.9 404.5,681.1 C404.9,679.4 407.1,678.7 408.5,677.1 C409.8,675.6 412.0,673.8 412.5,671.8 C412.9,669.8 412.0,667.1 411.1,665.1 C410.2,663.1 408.7,661.1 407.1,659.8 C405.6,658.4 403.3,657.7 401.8,657.1 C400.2,656.4 398.7,656.6 397.8,655.7 C396.9,654.8 396.0,652.8 396.4,651.7 C396.9,650.6 398.9,648.8 400.4,649.1 C402.0,649.3 404.2,652.6 405.8,653.1 C407.3,653.5 408.9,652.8 409.8,651.7 C410.7,650.6 411.4,648.6 411.1,646.4 C410.9,644.2 409.4,640.6 408.5,638.4 C407.6,636.1 406.7,635.7 405.8,633.0 C404.9,630.3 401.1,624.1 403.1,622.3Z" fill="none" stroke="rgb(250,215,140)" stroke-width="3.8"/><path d="M375.0,650.4 C377.1,649.3 386.0,648.4 388.4,649.1 C390.9,649.7 390.2,652.6 389.8,654.4 C389.3,656.2 386.6,658.0 385.7,659.8 C384.8,661.5 384.0,663.3 384.4,665.1 C384.8,666.9 386.6,668.7 388.4,670.4 C390.2,672.2 393.1,674.0 395.1,675.8 C397.1,677.6 398.7,679.1 400.4,681.1 C402.2,683.1 404.0,685.6 405.8,687.8 C407.6,690.0 410.2,692.3 411.1,694.5 C412.0,696.7 411.8,700.1 411.1,701.2 C410.5,702.3 408.7,702.1 407.1,701.2 C405.6,700.3 403.8,697.8 401.8,695.8 C399.8,693.8 397.3,690.9 395.1,689.2 C392.9,687.4 390.6,686.5 388.4,685.1 C386.2,683.8 384.2,682.5 381.7,681.1 C379.3,679.8 376.4,678.2 373.7,677.1 C371.0,676.0 367.3,676.0 365.7,674.5 C364.1,672.9 363.9,669.6 364.4,667.8 C364.8,666.0 366.6,664.2 368.4,663.8 C370.1,663.3 373.3,665.5 375.0,665.1 C376.8,664.7 378.8,662.6 379.1,661.1 C379.3,659.5 377.1,657.5 376.4,655.7 C375.7,654.0 373.0,651.5 375.0,650.4Z" fill="none" stroke="rgb(250,215,140)" stroke-width="3.8"/><path d="M357.7,685.1 C359.7,678.8 366.8,684.7 369.7,685.8 C372.6,686.9 373.6,689.5 375.0,691.8 C376.5,694.2 376.6,698.1 378.4,699.8 C380.2,701.6 383.2,701.9 385.7,702.5 C388.3,703.2 392.6,703.0 393.8,703.9 C394.9,704.7 394.4,707.1 392.4,707.9 C390.4,708.6 384.8,708.1 381.7,708.5 C378.6,709.0 375.9,709.1 373.7,710.5 C371.5,712.0 371.0,715.0 368.4,717.2 C365.7,719.4 359.5,729.3 357.7,723.9 C355.9,718.6 355.7,691.5 357.7,685.1Z" fill="none" stroke="rgb(250,215,140)" stroke-width="3.8"/><path d="M397.8,717.2 C398.7,715.9 401.8,714.8 403.1,715.9 C404.5,717.0 406.7,722.6 405.8,723.9 C404.9,725.2 399.1,725.0 397.8,723.9 C396.4,722.8 396.9,718.6 397.8,717.2Z" fill="none" stroke="rgb(250,215,140)" stroke-width="3.8"/><path d="M365.7,627.7 C366.8,626.9 370.6,626.1 372.4,627.0 C374.2,627.9 375.5,631.1 376.4,633.0 C377.3,634.9 378.2,637.3 377.7,638.4 C377.3,639.5 375.3,640.1 373.7,639.7 C372.2,639.3 369.7,637.0 368.4,635.7 C367.0,634.4 366.1,633.0 365.7,631.7 C365.2,630.3 364.6,628.5 365.7,627.7Z" fill="none" stroke="rgb(165,62,22)" stroke-width="2.4"/><path d="M391.1,622.3 C392.2,621.2 396.7,620.8 397.8,622.3 C398.9,623.9 398.2,629.5 397.8,631.7 C397.3,633.9 396.1,635.2 395.1,635.7 C394.1,636.1 392.4,635.5 391.8,634.4 C391.1,633.2 391.2,631.0 391.1,629.0 C391.0,627.0 390.0,623.4 391.1,622.3Z" fill="none" stroke="rgb(165,62,22)" stroke-width="2.4"/><path d="M403.1,622.3 C405.1,620.5 415.1,620.5 417.8,622.3 C420.5,624.1 418.7,629.2 419.2,633.0 C419.6,636.8 420.7,642.2 420.5,645.0 C420.3,647.9 418.7,647.9 417.8,650.4 C416.9,652.8 415.4,656.6 415.1,659.8 C414.9,662.9 416.0,666.0 416.5,669.1 C416.9,672.2 417.4,675.1 417.8,678.5 C418.3,681.8 418.7,685.6 419.2,689.2 C419.6,692.7 420.7,696.7 420.5,699.8 C420.3,703.0 418.5,703.9 417.8,707.9 C417.1,711.9 417.4,721.2 416.5,723.9 C415.6,726.6 412.9,726.1 412.5,723.9 C412.0,721.7 413.8,714.5 413.8,710.5 C413.8,706.5 413.4,702.5 412.5,699.8 C411.6,697.2 409.6,696.5 408.5,694.5 C407.3,692.5 406.5,690.0 405.8,687.8 C405.1,685.6 404.0,682.9 404.5,681.1 C404.9,679.4 407.1,678.7 408.5,677.1 C409.8,675.6 412.0,673.8 412.5,671.8 C412.9,669.8 412.0,667.1 411.1,665.1 C410.2,663.1 408.7,661.1 407.1,659.8 C405.6,658.4 403.3,657.7 401.8,657.1 C400.2,656.4 398.7,656.6 397.8,655.7 C396.9,654.8 396.0,652.8 396.4,651.7 C396.9,650.6 398.9,648.8 400.4,649.1 C402.0,649.3 404.2,652.6 405.8,653.1 C407.3,653.5 408.9,652.8 409.8,651.7 C410.7,650.6 411.4,648.6 411.1,646.4 C410.9,644.2 409.4,640.6 408.5,638.4 C407.6,636.1 406.7,635.7 405.8,633.0 C404.9,630.3 401.1,624.1 403.1,622.3Z" fill="none" stroke="rgb(165,62,22)" stroke-width="2.4"/><path d="M375.0,650.4 C377.1,649.3 386.0,648.4 388.4,649.1 C390.9,649.7 390.2,652.6 389.8,654.4 C389.3,656.2 386.6,658.0 385.7,659.8 C384.8,661.5 384.0,663.3 384.4,665.1 C384.8,666.9 386.6,668.7 388.4,670.4 C390.2,672.2 393.1,674.0 395.1,675.8 C397.1,677.6 398.7,679.1 400.4,681.1 C402.2,683.1 404.0,685.6 405.8,687.8 C407.6,690.0 410.2,692.3 411.1,694.5 C412.0,696.7 411.8,700.1 411.1,701.2 C410.5,702.3 408.7,702.1 407.1,701.2 C405.6,700.3 403.8,697.8 401.8,695.8 C399.8,693.8 397.3,690.9 395.1,689.2 C392.9,687.4 390.6,686.5 388.4,685.1 C386.2,683.8 384.2,682.5 381.7,681.1 C379.3,679.8 376.4,678.2 373.7,677.1 C371.0,676.0 367.3,676.0 365.7,674.5 C364.1,672.9 363.9,669.6 364.4,667.8 C364.8,666.0 366.6,664.2 368.4,663.8 C370.1,663.3 373.3,665.5 375.0,665.1 C376.8,664.7 378.8,662.6 379.1,661.1 C379.3,659.5 377.1,657.5 376.4,655.7 C375.7,654.0 373.0,651.5 375.0,650.4Z" fill="none" stroke="rgb(165,62,22)" stroke-width="2.4"/><path d="M357.7,685.1 C359.7,678.8 366.8,684.7 369.7,685.8 C372.6,686.9 373.6,689.5 375.0,691.8 C376.5,694.2 376.6,698.1 378.4,699.8 C380.2,701.6 383.2,701.9 385.7,702.5 C388.3,703.2 392.6,703.0 393.8,703.9 C394.9,704.7 394.4,707.1 392.4,707.9 C390.4,708.6 384.8,708.1 381.7,708.5 C378.6,709.0 375.9,709.1 373.7,710.5 C371.5,712.0 371.0,715.0 368.4,717.2 C365.7,719.4 359.5,729.3 357.7,723.9 C355.9,718.6 355.7,691.5 357.7,685.1Z" fill="none" stroke="rgb(165,62,22)" stroke-width="2.4"/><path d="M397.8,717.2 C398.7,715.9 401.8,714.8 403.1,715.9 C404.5,717.0 406.7,722.6 405.8,723.9 C404.9,725.2 399.1,725.0 397.8,723.9 C396.4,722.8 396.9,718.6 397.8,717.2Z" fill="none" stroke="rgb(165,62,22)" stroke-width="2.4"/><path d="M365.7,627.7 C366.8,626.9 370.6,626.1 372.4,627.0 C374.2,627.9 375.5,631.1 376.4,633.0 C377.3,634.9 378.2,637.3 377.7,638.4 C377.3,639.5 375.3,640.1 373.7,639.7 C372.2,639.3 369.7,637.0 368.4,635.7 C367.0,634.4 366.1,633.0 365.7,631.7 C365.2,630.3 364.6,628.5 365.7,627.7Z" fill="rgb(201,93,38)" stroke="rgb(201,93,38)" stroke-width="1.0"/><path d="M391.1,622.3 C392.2,621.2 396.7,620.8 397.8,622.3 C398.9,623.9 398.2,629.5 397.8,631.7 C397.3,633.9 396.1,635.2 395.1,635.7 C394.1,636.1 392.4,635.5 391.8,634.4 C391.1,633.2 391.2,631.0 391.1,629.0 C391.0,627.0 390.0,623.4 391.1,622.3Z" fill="rgb(201,93,38)" stroke="rgb(201,93,38)" stroke-width="1.0"/><path d="M403.1,622.3 C405.1,620.5 415.1,620.5 417.8,622.3 C420.5,624.1 418.7,629.2 419.2,633.0 C419.6,636.8 420.7,642.2 420.5,645.0 C420.3,647.9 418.7,647.9 417.8,650.4 C416.9,652.8 415.4,656.6 415.1,659.8 C414.9,662.9 416.0,666.0 416.5,669.1 C416.9,672.2 417.4,675.1 417.8,678.5 C418.3,681.8 418.7,685.6 419.2,689.2 C419.6,692.7 420.7,696.7 420.5,699.8 C420.3,703.0 418.5,703.9 417.8,707.9 C417.1,711.9 417.4,721.2 416.5,723.9 C415.6,726.6 412.9,726.1 412.5,723.9 C412.0,721.7 413.8,714.5 413.8,710.5 C413.8,706.5 413.4,702.5 412.5,699.8 C411.6,697.2 409.6,696.5 408.5,694.5 C407.3,692.5 406.5,690.0 405.8,687.8 C405.1,685.6 404.0,682.9 404.5,681.1 C404.9,679.4 407.1,678.7 408.5,677.1 C409.8,675.6 412.0,673.8 412.5,671.8 C412.9,669.8 412.0,667.1 411.1,665.1 C410.2,663.1 408.7,661.1 407.1,659.8 C405.6,658.4 403.3,657.7 401.8,657.1 C400.2,656.4 398.7,656.6 397.8,655.7 C396.9,654.8 396.0,652.8 396.4,651.7 C396.9,650.6 398.9,648.8 400.4,649.1 C402.0,649.3 404.2,652.6 405.8,653.1 C407.3,653.5 408.9,652.8 409.8,651.7 C410.7,650.6 411.4,648.6 411.1,646.4 C410.9,644.2 409.4,640.6 408.5,638.4 C407.6,636.1 406.7,635.7 405.8,633.0 C404.9,630.3 401.1,624.1 403.1,622.3Z" fill="rgb(201,93,38)" stroke="rgb(201,93,38)" stroke-width="1.0"/><path d="M375.0,650.4 C377.1,649.3 386.0,648.4 388.4,649.1 C390.9,649.7 390.2,652.6 389.8,654.4 C389.3,656.2 386.6,658.0 385.7,659.8 C384.8,661.5 384.0,663.3 384.4,665.1 C384.8,666.9 386.6,668.7 388.4,670.4 C390.2,672.2 393.1,674.0 395.1,675.8 C397.1,677.6 398.7,679.1 400.4,681.1 C402.2,683.1 404.0,685.6 405.8,687.8 C407.6,690.0 410.2,692.3 411.1,694.5 C412.0,696.7 411.8,700.1 411.1,701.2 C410.5,702.3 408.7,702.1 407.1,701.2 C405.6,700.3 403.8,697.8 401.8,695.8 C399.8,693.8 397.3,690.9 395.1,689.2 C392.9,687.4 390.6,686.5 388.4,685.1 C386.2,683.8 384.2,682.5 381.7,681.1 C379.3,679.8 376.4,678.2 373.7,677.1 C371.0,676.0 367.3,676.0 365.7,674.5 C364.1,672.9 363.9,669.6 364.4,667.8 C364.8,666.0 366.6,664.2 368.4,663.8 C370.1,663.3 373.3,665.5 375.0,665.1 C376.8,664.7 378.8,662.6 379.1,661.1 C379.3,659.5 377.1,657.5 376.4,655.7 C375.7,654.0 373.0,651.5 375.0,650.4Z" fill="rgb(201,93,38)" stroke="rgb(201,93,38)" stroke-width="1.0"/><path d="M357.7,685.1 C359.7,678.8 366.8,684.7 369.7,685.8 C372.6,686.9 373.6,689.5 375.0,691.8 C376.5,694.2 376.6,698.1 378.4,699.8 C380.2,701.6 383.2,701.9 385.7,702.5 C388.3,703.2 392.6,703.0 393.8,703.9 C394.9,704.7 394.4,707.1 392.4,707.9 C390.4,708.6 384.8,708.1 381.7,708.5 C378.6,709.0 375.9,709.1 373.7,710.5 C371.5,712.0 371.0,715.0 368.4,717.2 C365.7,719.4 359.5,729.3 357.7,723.9 C355.9,718.6 355.7,691.5 357.7,685.1Z" fill="rgb(201,93,38)" stroke="rgb(201,93,38)" stroke-width="1.0"/><path d="M397.8,717.2 C398.7,715.9 401.8,714.8 403.1,715.9 C404.5,717.0 406.7,722.6 405.8,723.9 C404.9,725.2 399.1,725.0 397.8,723.9 C396.4,722.8 396.9,718.6 397.8,717.2Z" fill="rgb(201,93,38)" stroke="rgb(201,93,38)" stroke-width="1.0"/></g></g><g mask="url(#cz355_536)"><rect x="355" y="530" width="77.5" height="104" fill="rgb(237,181,90)"/><g filter="url(#fWallC)"><path d="M357.8,525.8 C359.9,523.9 368.5,524.5 370.5,525.8 C372.4,527.1 369.4,531.8 369.8,533.5 C370.1,535.3 371.0,535.5 372.6,536.3 C374.1,537.1 376.8,538.3 378.9,538.4 C381.0,538.6 383.3,537.9 385.2,537.3 C387.1,536.7 389.0,536.8 390.1,534.9 C391.3,533.0 391.1,527.3 392.2,525.8 C393.4,524.3 396.6,523.8 397.1,525.8 C397.7,527.8 396.8,535.2 395.7,537.7 C394.7,540.3 392.9,540.4 390.8,541.2 C388.7,542.1 385.6,542.2 383.1,542.6 C380.6,543.1 377.8,542.9 376.1,543.8 C374.3,544.6 373.7,547.0 372.6,547.6 C371.4,548.1 370.2,547.8 369.0,546.9 C367.9,545.9 366.7,543.5 365.5,541.9 C364.4,540.4 363.3,538.5 362.0,537.7 C360.7,536.9 358.5,539.0 357.8,537.0 C357.1,535.0 355.7,527.7 357.8,525.8Z" fill="none" stroke="rgb(250,215,140)" stroke-width="3.8"/><path d="M402.8,525.8 C405.8,523.7 416.6,524.1 419.6,525.8 C422.7,527.4 421.0,532.8 421.0,535.6 C421.0,538.4 420.1,540.5 419.6,542.6 C419.2,544.8 419.2,547.6 418.2,548.3 C417.3,549.0 415.2,546.9 414.0,546.9 C412.8,546.9 412.1,547.3 411.2,548.3 C410.3,549.2 409.6,552.2 408.4,552.5 C407.2,552.7 405.6,550.1 404.2,549.7 C402.8,549.2 401.1,550.4 400.0,549.7 C398.8,549.0 396.9,547.3 397.1,545.5 C397.4,543.6 400.4,541.7 401.4,538.4 C402.3,535.2 399.7,527.9 402.8,525.8Z" fill="none" stroke="rgb(250,215,140)" stroke-width="3.8"/><path d="M371.9,563.7 C372.1,561.8 374.2,558.6 376.1,556.7 C377.9,554.8 380.5,553.4 383.1,552.5 C385.7,551.5 389.2,551.5 391.5,551.1 C393.9,550.6 395.7,549.7 397.1,549.7 C398.6,549.7 399.3,549.7 400.0,551.1 C400.7,552.5 401.8,556.0 401.4,558.1 C400.9,560.2 399.0,562.8 397.1,563.7 C395.3,564.7 392.5,563.6 390.1,563.7 C387.8,563.8 385.0,564.0 383.1,564.4 C381.2,564.9 380.3,565.9 378.9,566.5 C377.5,567.1 375.8,568.4 374.7,567.9 C373.5,567.5 371.6,565.6 371.9,563.7Z" fill="none" stroke="rgb(250,215,140)" stroke-width="3.8"/><path d="M357.8,569.3 C359.7,567.9 365.8,570.3 369.0,570.7 C372.3,571.2 375.1,572.1 377.5,572.1 C379.8,572.1 381.5,570.7 383.1,570.7 C384.7,570.7 386.6,571.0 387.3,572.1 C388.0,573.3 388.0,576.4 387.3,577.8 C386.6,579.2 385.0,580.1 383.1,580.6 C381.2,581.0 378.4,580.8 376.1,580.6 C373.7,580.3 372.1,579.4 369.0,579.2 C366.0,578.9 359.7,580.8 357.8,579.2 C355.9,577.5 355.9,570.7 357.8,569.3Z" fill="none" stroke="rgb(250,215,140)" stroke-width="3.8"/><path d="M394.3,577.8 C395.2,576.8 398.2,575.7 400.0,575.7 C401.7,575.7 404.2,576.7 404.9,577.8 C405.6,578.8 405.2,581.0 404.2,582.0 C403.1,582.9 400.1,583.5 398.6,583.4 C397.0,583.3 395.7,582.2 395.0,581.3 C394.3,580.3 393.5,578.7 394.3,577.8Z" fill="none" stroke="rgb(250,215,140)" stroke-width="3.8"/><path d="M409.8,553.9 C410.3,552.9 411.9,555.5 412.6,558.1 C413.3,560.7 413.5,565.1 414.0,569.3 C414.5,573.6 415.4,580.8 415.4,583.4 C415.4,586.0 414.7,586.7 414.0,584.8 C413.3,582.9 411.9,575.7 411.2,572.1 C410.5,568.6 410.0,566.8 409.8,563.7 C409.6,560.7 409.3,554.8 409.8,553.9Z" fill="none" stroke="rgb(250,215,140)" stroke-width="3.8"/><path d="M419.6,552.5 C420.1,551.1 422.9,552.9 423.8,555.3 C424.8,557.6 425.5,563.7 425.2,566.5 C425.0,569.3 423.1,572.6 422.4,572.1 C421.7,571.7 421.5,567.0 421.0,563.7 C420.6,560.4 419.2,553.9 419.6,552.5Z" fill="none" stroke="rgb(250,215,140)" stroke-width="3.8"/><path d="M416.8,569.3 C417.4,568.6 419.0,569.8 419.6,572.1 C420.2,574.5 420.7,581.3 420.3,583.4 C420.0,585.5 418.2,586.0 417.5,584.8 C416.8,583.6 416.2,578.9 416.1,576.4 C416.0,573.8 416.2,570.0 416.8,569.3Z" fill="none" stroke="rgb(250,215,140)" stroke-width="3.8"/><path d="M357.8,586.2 C359.0,582.2 363.4,586.0 364.8,587.6 C366.2,589.2 364.8,594.4 366.2,596.0 C367.6,597.7 370.7,597.4 373.3,597.4 C375.8,597.4 379.1,596.8 381.7,596.0 C384.3,595.2 386.4,593.7 388.7,592.5 C391.1,591.3 394.2,588.4 395.7,589.0 C397.3,589.6 397.1,593.7 397.8,596.0 C398.6,598.4 399.8,600.7 400.0,603.1 C400.1,605.4 399.5,608.1 398.6,610.1 C397.6,612.1 396.0,613.7 394.3,615.0 C392.7,616.3 391.1,617.2 388.7,617.8 C386.4,618.4 382.9,618.7 380.3,618.5 C377.7,618.3 375.6,617.1 373.3,616.4 C370.9,615.7 368.8,615.1 366.2,614.3 C363.7,613.5 359.2,616.2 357.8,611.5 C356.4,606.8 356.6,590.2 357.8,586.2Z" fill="none" stroke="rgb(250,215,140)" stroke-width="3.8"/><path d="M408.4,610.1 C409.6,608.0 412.8,607.0 414.0,608.7 C415.2,610.3 415.4,615.2 415.4,619.9 C415.4,624.6 415.2,634.0 414.0,636.8 C412.8,639.6 409.6,639.3 408.4,636.8 C407.2,634.2 407.0,625.8 407.0,621.3 C407.0,616.9 407.2,612.2 408.4,610.1Z" fill="none" stroke="rgb(250,215,140)" stroke-width="3.8"/><path d="M419.6,603.1 C420.2,601.9 421.7,601.2 422.4,603.1 C423.1,604.9 424.1,612.0 423.8,614.3 C423.6,616.6 421.8,617.8 421.0,617.1 C420.2,616.4 419.2,612.4 418.9,610.1 C418.7,607.7 419.0,604.2 419.6,603.1Z" fill="none" stroke="rgb(250,215,140)" stroke-width="3.8"/><path d="M363.4,626.9 C364.8,625.1 370.2,623.9 371.9,625.5 C373.5,627.2 374.7,634.9 373.3,636.8 C371.9,638.6 365.1,638.4 363.4,636.8 C361.8,635.1 362.0,628.8 363.4,626.9Z" fill="none" stroke="rgb(250,215,140)" stroke-width="3.8"/><path d="M390.1,622.7 C391.3,620.4 396.0,620.4 397.1,622.7 C398.3,625.1 398.3,634.4 397.1,636.8 C396.0,639.1 391.3,639.1 390.1,636.8 C389.0,634.4 389.0,625.1 390.1,622.7Z" fill="none" stroke="rgb(250,215,140)" stroke-width="3.8"/><path d="M357.8,525.8 C359.9,523.9 368.5,524.5 370.5,525.8 C372.4,527.1 369.4,531.8 369.8,533.5 C370.1,535.3 371.0,535.5 372.6,536.3 C374.1,537.1 376.8,538.3 378.9,538.4 C381.0,538.6 383.3,537.9 385.2,537.3 C387.1,536.7 389.0,536.8 390.1,534.9 C391.3,533.0 391.1,527.3 392.2,525.8 C393.4,524.3 396.6,523.8 397.1,525.8 C397.7,527.8 396.8,535.2 395.7,537.7 C394.7,540.3 392.9,540.4 390.8,541.2 C388.7,542.1 385.6,542.2 383.1,542.6 C380.6,543.1 377.8,542.9 376.1,543.8 C374.3,544.6 373.7,547.0 372.6,547.6 C371.4,548.1 370.2,547.8 369.0,546.9 C367.9,545.9 366.7,543.5 365.5,541.9 C364.4,540.4 363.3,538.5 362.0,537.7 C360.7,536.9 358.5,539.0 357.8,537.0 C357.1,535.0 355.7,527.7 357.8,525.8Z" fill="none" stroke="rgb(165,62,22)" stroke-width="2.4"/><path d="M402.8,525.8 C405.8,523.7 416.6,524.1 419.6,525.8 C422.7,527.4 421.0,532.8 421.0,535.6 C421.0,538.4 420.1,540.5 419.6,542.6 C419.2,544.8 419.2,547.6 418.2,548.3 C417.3,549.0 415.2,546.9 414.0,546.9 C412.8,546.9 412.1,547.3 411.2,548.3 C410.3,549.2 409.6,552.2 408.4,552.5 C407.2,552.7 405.6,550.1 404.2,549.7 C402.8,549.2 401.1,550.4 400.0,549.7 C398.8,549.0 396.9,547.3 397.1,545.5 C397.4,543.6 400.4,541.7 401.4,538.4 C402.3,535.2 399.7,527.9 402.8,525.8Z" fill="none" stroke="rgb(165,62,22)" stroke-width="2.4"/><path d="M371.9,563.7 C372.1,561.8 374.2,558.6 376.1,556.7 C377.9,554.8 380.5,553.4 383.1,552.5 C385.7,551.5 389.2,551.5 391.5,551.1 C393.9,550.6 395.7,549.7 397.1,549.7 C398.6,549.7 399.3,549.7 400.0,551.1 C400.7,552.5 401.8,556.0 401.4,558.1 C400.9,560.2 399.0,562.8 397.1,563.7 C395.3,564.7 392.5,563.6 390.1,563.7 C387.8,563.8 385.0,564.0 383.1,564.4 C381.2,564.9 380.3,565.9 378.9,566.5 C377.5,567.1 375.8,568.4 374.7,567.9 C373.5,567.5 371.6,565.6 371.9,563.7Z" fill="none" stroke="rgb(165,62,22)" stroke-width="2.4"/><path d="M357.8,569.3 C359.7,567.9 365.8,570.3 369.0,570.7 C372.3,571.2 375.1,572.1 377.5,572.1 C379.8,572.1 381.5,570.7 383.1,570.7 C384.7,570.7 386.6,571.0 387.3,572.1 C388.0,573.3 388.0,576.4 387.3,577.8 C386.6,579.2 385.0,580.1 383.1,580.6 C381.2,581.0 378.4,580.8 376.1,580.6 C373.7,580.3 372.1,579.4 369.0,579.2 C366.0,578.9 359.7,580.8 357.8,579.2 C355.9,577.5 355.9,570.7 357.8,569.3Z" fill="none" stroke="rgb(165,62,22)" stroke-width="2.4"/><path d="M394.3,577.8 C395.2,576.8 398.2,575.7 400.0,575.7 C401.7,575.7 404.2,576.7 404.9,577.8 C405.6,578.8 405.2,581.0 404.2,582.0 C403.1,582.9 400.1,583.5 398.6,583.4 C397.0,583.3 395.7,582.2 395.0,581.3 C394.3,580.3 393.5,578.7 394.3,577.8Z" fill="none" stroke="rgb(165,62,22)" stroke-width="2.4"/><path d="M409.8,553.9 C410.3,552.9 411.9,555.5 412.6,558.1 C413.3,560.7 413.5,565.1 414.0,569.3 C414.5,573.6 415.4,580.8 415.4,583.4 C415.4,586.0 414.7,586.7 414.0,584.8 C413.3,582.9 411.9,575.7 411.2,572.1 C410.5,568.6 410.0,566.8 409.8,563.7 C409.6,560.7 409.3,554.8 409.8,553.9Z" fill="none" stroke="rgb(165,62,22)" stroke-width="2.4"/><path d="M419.6,552.5 C420.1,551.1 422.9,552.9 423.8,555.3 C424.8,557.6 425.5,563.7 425.2,566.5 C425.0,569.3 423.1,572.6 422.4,572.1 C421.7,571.7 421.5,567.0 421.0,563.7 C420.6,560.4 419.2,553.9 419.6,552.5Z" fill="none" stroke="rgb(165,62,22)" stroke-width="2.4"/><path d="M416.8,569.3 C417.4,568.6 419.0,569.8 419.6,572.1 C420.2,574.5 420.7,581.3 420.3,583.4 C420.0,585.5 418.2,586.0 417.5,584.8 C416.8,583.6 416.2,578.9 416.1,576.4 C416.0,573.8 416.2,570.0 416.8,569.3Z" fill="none" stroke="rgb(165,62,22)" stroke-width="2.4"/><path d="M357.8,586.2 C359.0,582.2 363.4,586.0 364.8,587.6 C366.2,589.2 364.8,594.4 366.2,596.0 C367.6,597.7 370.7,597.4 373.3,597.4 C375.8,597.4 379.1,596.8 381.7,596.0 C384.3,595.2 386.4,593.7 388.7,592.5 C391.1,591.3 394.2,588.4 395.7,589.0 C397.3,589.6 397.1,593.7 397.8,596.0 C398.6,598.4 399.8,600.7 400.0,603.1 C400.1,605.4 399.5,608.1 398.6,610.1 C397.6,612.1 396.0,613.7 394.3,615.0 C392.7,616.3 391.1,617.2 388.7,617.8 C386.4,618.4 382.9,618.7 380.3,618.5 C377.7,618.3 375.6,617.1 373.3,616.4 C370.9,615.7 368.8,615.1 366.2,614.3 C363.7,613.5 359.2,616.2 357.8,611.5 C356.4,606.8 356.6,590.2 357.8,586.2Z" fill="none" stroke="rgb(165,62,22)" stroke-width="2.4"/><path d="M408.4,610.1 C409.6,608.0 412.8,607.0 414.0,608.7 C415.2,610.3 415.4,615.2 415.4,619.9 C415.4,624.6 415.2,634.0 414.0,636.8 C412.8,639.6 409.6,639.3 408.4,636.8 C407.2,634.2 407.0,625.8 407.0,621.3 C407.0,616.9 407.2,612.2 408.4,610.1Z" fill="none" stroke="rgb(165,62,22)" stroke-width="2.4"/><path d="M419.6,603.1 C420.2,601.9 421.7,601.2 422.4,603.1 C423.1,604.9 424.1,612.0 423.8,614.3 C423.6,616.6 421.8,617.8 421.0,617.1 C420.2,616.4 419.2,612.4 418.9,610.1 C418.7,607.7 419.0,604.2 419.6,603.1Z" fill="none" stroke="rgb(165,62,22)" stroke-width="2.4"/><path d="M363.4,626.9 C364.8,625.1 370.2,623.9 371.9,625.5 C373.5,627.2 374.7,634.9 373.3,636.8 C371.9,638.6 365.1,638.4 363.4,636.8 C361.8,635.1 362.0,628.8 363.4,626.9Z" fill="none" stroke="rgb(165,62,22)" stroke-width="2.4"/><path d="M390.1,622.7 C391.3,620.4 396.0,620.4 397.1,622.7 C398.3,625.1 398.3,634.4 397.1,636.8 C396.0,639.1 391.3,639.1 390.1,636.8 C389.0,634.4 389.0,625.1 390.1,622.7Z" fill="none" stroke="rgb(165,62,22)" stroke-width="2.4"/><path d="M357.8,525.8 C359.9,523.9 368.5,524.5 370.5,525.8 C372.4,527.1 369.4,531.8 369.8,533.5 C370.1,535.3 371.0,535.5 372.6,536.3 C374.1,537.1 376.8,538.3 378.9,538.4 C381.0,538.6 383.3,537.9 385.2,537.3 C387.1,536.7 389.0,536.8 390.1,534.9 C391.3,533.0 391.1,527.3 392.2,525.8 C393.4,524.3 396.6,523.8 397.1,525.8 C397.7,527.8 396.8,535.2 395.7,537.7 C394.7,540.3 392.9,540.4 390.8,541.2 C388.7,542.1 385.6,542.2 383.1,542.6 C380.6,543.1 377.8,542.9 376.1,543.8 C374.3,544.6 373.7,547.0 372.6,547.6 C371.4,548.1 370.2,547.8 369.0,546.9 C367.9,545.9 366.7,543.5 365.5,541.9 C364.4,540.4 363.3,538.5 362.0,537.7 C360.7,536.9 358.5,539.0 357.8,537.0 C357.1,535.0 355.7,527.7 357.8,525.8Z" fill="rgb(201,93,38)" stroke="rgb(201,93,38)" stroke-width="1.0"/><path d="M402.8,525.8 C405.8,523.7 416.6,524.1 419.6,525.8 C422.7,527.4 421.0,532.8 421.0,535.6 C421.0,538.4 420.1,540.5 419.6,542.6 C419.2,544.8 419.2,547.6 418.2,548.3 C417.3,549.0 415.2,546.9 414.0,546.9 C412.8,546.9 412.1,547.3 411.2,548.3 C410.3,549.2 409.6,552.2 408.4,552.5 C407.2,552.7 405.6,550.1 404.2,549.7 C402.8,549.2 401.1,550.4 400.0,549.7 C398.8,549.0 396.9,547.3 397.1,545.5 C397.4,543.6 400.4,541.7 401.4,538.4 C402.3,535.2 399.7,527.9 402.8,525.8Z" fill="rgb(201,93,38)" stroke="rgb(201,93,38)" stroke-width="1.0"/><path d="M371.9,563.7 C372.1,561.8 374.2,558.6 376.1,556.7 C377.9,554.8 380.5,553.4 383.1,552.5 C385.7,551.5 389.2,551.5 391.5,551.1 C393.9,550.6 395.7,549.7 397.1,549.7 C398.6,549.7 399.3,549.7 400.0,551.1 C400.7,552.5 401.8,556.0 401.4,558.1 C400.9,560.2 399.0,562.8 397.1,563.7 C395.3,564.7 392.5,563.6 390.1,563.7 C387.8,563.8 385.0,564.0 383.1,564.4 C381.2,564.9 380.3,565.9 378.9,566.5 C377.5,567.1 375.8,568.4 374.7,567.9 C373.5,567.5 371.6,565.6 371.9,563.7Z" fill="rgb(201,93,38)" stroke="rgb(201,93,38)" stroke-width="1.0"/><path d="M357.8,569.3 C359.7,567.9 365.8,570.3 369.0,570.7 C372.3,571.2 375.1,572.1 377.5,572.1 C379.8,572.1 381.5,570.7 383.1,570.7 C384.7,570.7 386.6,571.0 387.3,572.1 C388.0,573.3 388.0,576.4 387.3,577.8 C386.6,579.2 385.0,580.1 383.1,580.6 C381.2,581.0 378.4,580.8 376.1,580.6 C373.7,580.3 372.1,579.4 369.0,579.2 C366.0,578.9 359.7,580.8 357.8,579.2 C355.9,577.5 355.9,570.7 357.8,569.3Z" fill="rgb(201,93,38)" stroke="rgb(201,93,38)" stroke-width="1.0"/><path d="M394.3,577.8 C395.2,576.8 398.2,575.7 400.0,575.7 C401.7,575.7 404.2,576.7 404.9,577.8 C405.6,578.8 405.2,581.0 404.2,582.0 C403.1,582.9 400.1,583.5 398.6,583.4 C397.0,583.3 395.7,582.2 395.0,581.3 C394.3,580.3 393.5,578.7 394.3,577.8Z" fill="rgb(201,93,38)" stroke="rgb(201,93,38)" stroke-width="1.0"/><path d="M409.8,553.9 C410.3,552.9 411.9,555.5 412.6,558.1 C413.3,560.7 413.5,565.1 414.0,569.3 C414.5,573.6 415.4,580.8 415.4,583.4 C415.4,586.0 414.7,586.7 414.0,584.8 C413.3,582.9 411.9,575.7 411.2,572.1 C410.5,568.6 410.0,566.8 409.8,563.7 C409.6,560.7 409.3,554.8 409.8,553.9Z" fill="rgb(201,93,38)" stroke="rgb(201,93,38)" stroke-width="1.0"/><path d="M419.6,552.5 C420.1,551.1 422.9,552.9 423.8,555.3 C424.8,557.6 425.5,563.7 425.2,566.5 C425.0,569.3 423.1,572.6 422.4,572.1 C421.7,571.7 421.5,567.0 421.0,563.7 C420.6,560.4 419.2,553.9 419.6,552.5Z" fill="rgb(201,93,38)" stroke="rgb(201,93,38)" stroke-width="1.0"/><path d="M416.8,569.3 C417.4,568.6 419.0,569.8 419.6,572.1 C420.2,574.5 420.7,581.3 420.3,583.4 C420.0,585.5 418.2,586.0 417.5,584.8 C416.8,583.6 416.2,578.9 416.1,576.4 C416.0,573.8 416.2,570.0 416.8,569.3Z" fill="rgb(201,93,38)" stroke="rgb(201,93,38)" stroke-width="1.0"/><path d="M357.8,586.2 C359.0,582.2 363.4,586.0 364.8,587.6 C366.2,589.2 364.8,594.4 366.2,596.0 C367.6,597.7 370.7,597.4 373.3,597.4 C375.8,597.4 379.1,596.8 381.7,596.0 C384.3,595.2 386.4,593.7 388.7,592.5 C391.1,591.3 394.2,588.4 395.7,589.0 C397.3,589.6 397.1,593.7 397.8,596.0 C398.6,598.4 399.8,600.7 400.0,603.1 C400.1,605.4 399.5,608.1 398.6,610.1 C397.6,612.1 396.0,613.7 394.3,615.0 C392.7,616.3 391.1,617.2 388.7,617.8 C386.4,618.4 382.9,618.7 380.3,618.5 C377.7,618.3 375.6,617.1 373.3,616.4 C370.9,615.7 368.8,615.1 366.2,614.3 C363.7,613.5 359.2,616.2 357.8,611.5 C356.4,606.8 356.6,590.2 357.8,586.2Z" fill="rgb(201,93,38)" stroke="rgb(201,93,38)" stroke-width="1.0"/><path d="M408.4,610.1 C409.6,608.0 412.8,607.0 414.0,608.7 C415.2,610.3 415.4,615.2 415.4,619.9 C415.4,624.6 415.2,634.0 414.0,636.8 C412.8,639.6 409.6,639.3 408.4,636.8 C407.2,634.2 407.0,625.8 407.0,621.3 C407.0,616.9 407.2,612.2 408.4,610.1Z" fill="rgb(201,93,38)" stroke="rgb(201,93,38)" stroke-width="1.0"/><path d="M419.6,603.1 C420.2,601.9 421.7,601.2 422.4,603.1 C423.1,604.9 424.1,612.0 423.8,614.3 C423.6,616.6 421.8,617.8 421.0,617.1 C420.2,616.4 419.2,612.4 418.9,610.1 C418.7,607.7 419.0,604.2 419.6,603.1Z" fill="rgb(201,93,38)" stroke="rgb(201,93,38)" stroke-width="1.0"/><path d="M363.4,626.9 C364.8,625.1 370.2,623.9 371.9,625.5 C373.5,627.2 374.7,634.9 373.3,636.8 C371.9,638.6 365.1,638.4 363.4,636.8 C361.8,635.1 362.0,628.8 363.4,626.9Z" fill="rgb(201,93,38)" stroke="rgb(201,93,38)" stroke-width="1.0"/><path d="M390.1,622.7 C391.3,620.4 396.0,620.4 397.1,622.7 C398.3,625.1 398.3,634.4 397.1,636.8 C396.0,639.1 391.3,639.1 390.1,636.8 C389.0,634.4 389.0,625.1 390.1,622.7Z" fill="rgb(201,93,38)" stroke="rgb(201,93,38)" stroke-width="1.0"/></g></g><g mask="url(#mChC1)"><rect x="414" y="455" width="20" height="270" filter="url(#fChC1)"/></g><g mask="url(#mChC2)"><rect x="533" y="455" width="16" height="270" filter="url(#fChC2)"/></g><g filter="url(#fWallC)"><ellipse cx="422.9" cy="474.2" rx="1.3" ry="1.5" fill="rgb(150,50,15)"/><ellipse cx="424.5" cy="484.0" rx="1.1" ry="1.1" fill="rgb(150,50,15)"/><ellipse cx="419.1" cy="490.5" rx="1.3" ry="2.4" fill="rgb(150,50,15)"/><ellipse cx="424.0" cy="492.6" rx="0.9" ry="0.9" fill="rgb(150,50,15)"/><ellipse cx="424.5" cy="496.4" rx="1.0" ry="1.0" fill="rgb(150,50,15)"/><ellipse cx="427.2" cy="497.0" rx="0.6" ry="0.6" fill="rgb(150,50,15)"/><ellipse cx="420.7" cy="514.3" rx="0.6" ry="0.6" fill="rgb(150,50,15)"/><ellipse cx="426.7" cy="610.8" rx="1.0" ry="1.3" fill="rgb(150,50,15)"/><ellipse cx="427.2" cy="621.7" rx="1.0" ry="1.0" fill="rgb(150,50,15)"/><ellipse cx="427.7" cy="628.1" rx="0.8" ry="0.8" fill="rgb(150,50,15)"/><ellipse cx="426.7" cy="635.7" rx="0.8" ry="0.8" fill="rgb(150,50,15)"/><ellipse cx="428.3" cy="643.3" rx="1.3" ry="1.5" fill="rgb(150,50,15)"/><ellipse cx="427.7" cy="652.0" rx="0.8" ry="0.8" fill="rgb(150,50,15)"/><ellipse cx="426.1" cy="660.6" rx="0.9" ry="0.9" fill="rgb(150,50,15)"/><ellipse cx="428.3" cy="667.1" rx="0.8" ry="0.8" fill="rgb(150,50,15)"/><ellipse cx="426.7" cy="673.6" rx="0.8" ry="0.8" fill="rgb(150,50,15)"/><ellipse cx="540.1" cy="470.8" rx="0.9" ry="1.3" fill="rgb(150,50,15)"/><ellipse cx="543.3" cy="483.6" rx="1.0" ry="1.8" fill="rgb(150,50,15)"/><ellipse cx="542.0" cy="500.3" rx="0.8" ry="3.8" fill="rgb(150,50,15)"/><ellipse cx="538.8" cy="514.4" rx="0.8" ry="0.8" fill="rgb(150,50,15)"/><ellipse cx="539.4" cy="534.9" rx="1.0" ry="1.0" fill="rgb(150,50,15)"/><ellipse cx="540.7" cy="542.6" rx="0.8" ry="0.8" fill="rgb(150,50,15)"/><ellipse cx="538.1" cy="639.7" rx="0.8" ry="1.0" fill="rgb(150,50,15)"/><ellipse cx="538.8" cy="651.2" rx="0.6" ry="1.0" fill="rgb(150,50,15)"/><ellipse cx="537.5" cy="665.3" rx="0.8" ry="1.3" fill="rgb(150,50,15)"/><ellipse cx="538.8" cy="680.7" rx="0.6" ry="1.0" fill="rgb(150,50,15)"/><ellipse cx="538.1" cy="692.3" rx="0.8" ry="1.0" fill="rgb(150,50,15)"/><ellipse cx="537.5" cy="703.8" rx="0.6" ry="0.9" fill="rgb(150,50,15)"/></g><rect x="355" y="455" width="275" height="270" filter="url(#fGrainC)" opacity="0.45"/></g><rect x="359.5" y="458.2" width="263.3" height="262.1" fill="none" stroke="#111" stroke-width="1.5"/><rect x="211.4" y="541" width="46.7" height="6.8" fill="#fff"/><text x="212" y="561.5" font-size="17" text-anchor="start" fill="#fff" font-family="Liberation Sans, sans-serif" textLength="48" lengthAdjust="spacingAndGlyphs" font-weight="bold">10 μm</text><rect x="573" y="397.7" width="46.7" height="6.8" fill="#fff"/><text x="574" y="418" font-size="17" text-anchor="start" fill="#fff" font-family="Liberation Sans, sans-serif" textLength="48.4" lengthAdjust="spacingAndGlyphs" font-weight="bold">10 μm</text><rect x="571" y="694.8" width="44" height="7.2" fill="#fff"/><text x="571" y="714.7" font-size="17" text-anchor="start" fill="#fff" font-family="Liberation Sans, sans-serif" textLength="48" lengthAdjust="spacingAndGlyphs" font-weight="bold">10 μm</text><text x="368.6" y="483.8" font-size="21" font-weight="bold" fill="#fff" font-family="Liberation Sans, sans-serif">(</text><text x="375.8" y="484.8" font-size="24" font-weight="bold" fill="#fff" font-family="Liberation Sans, sans-serif" textLength="10.2" lengthAdjust="spacingAndGlyphs">c</text><text x="386.2" y="483.8" font-size="21" font-weight="bold" fill="#fff" font-family="Liberation Sans, sans-serif">)</text><line x1="2.6" y1="358.9" x2="262" y2="358.9" stroke="#1010e0" stroke-width="1.9" stroke-dasharray="4.3 3.93"/><rect x="531.1" y="52.7" width="3.2" height="3.2" fill="#000"/><rect x="531.1" y="63.0" width="3.2" height="3.2" fill="#000"/><rect x="531.1" y="73.3" width="3.2" height="3.2" fill="#000"/><rect x="531.1" y="83.6" width="3.2" height="3.2" fill="#000"/><rect x="531.1" y="93.9" width="3.2" height="3.2" fill="#000"/><rect x="531.1" y="104.2" width="3.2" height="3.2" fill="#000"/><rect x="531.1" y="114.5" width="3.2" height="3.2" fill="#000"/><rect x="531.1" y="124.8" width="3.2" height="3.2" fill="#000"/><rect x="531.1" y="135.1" width="3.2" height="3.2" fill="#000"/><rect x="531.1" y="145.4" width="3.2" height="3.2" fill="#000"/><rect x="531.1" y="155.7" width="3.2" height="3.2" fill="#000"/><rect x="531.1" y="166.0" width="3.2" height="3.2" fill="#000"/><rect x="531.1" y="176.3" width="3.2" height="3.2" fill="#000"/><rect x="531.1" y="186.6" width="3.2" height="3.2" fill="#000"/><rect x="531.1" y="196.9" width="3.2" height="3.2" fill="#000"/><rect x="531.1" y="207.2" width="3.2" height="3.2" fill="#000"/><rect x="531.1" y="217.5" width="3.2" height="3.2" fill="#000"/><rect x="531.1" y="227.8" width="3.2" height="3.2" fill="#000"/><rect x="531.1" y="238.1" width="3.2" height="3.2" fill="#000"/><rect x="531.1" y="248.4" width="3.2" height="3.2" fill="#000"/><rect x="531.1" y="258.7" width="3.2" height="3.2" fill="#000"/><rect x="531.1" y="269.0" width="3.2" height="3.2" fill="#000"/><rect x="531.1" y="279.3" width="3.2" height="3.2" fill="#000"/><rect x="531.1" y="289.6" width="3.2" height="3.2" fill="#000"/><rect x="531.1" y="299.9" width="3.2" height="3.2" fill="#000"/><rect x="531.1" y="310.2" width="3.2" height="3.2" fill="#000"/><rect x="531.1" y="320.5" width="3.2" height="3.2" fill="#000"/><rect x="531.1" y="330.8" width="3.2" height="3.2" fill="#000"/><rect x="531.1" y="341.1" width="3.2" height="3.2" fill="#000"/><rect x="531.1" y="351.4" width="3.2" height="3.2" fill="#000"/><rect x="531.1" y="361.7" width="3.2" height="3.2" fill="#000"/><rect x="531.1" y="372.0" width="3.2" height="3.2" fill="#000"/><rect x="531.1" y="382.3" width="3.2" height="3.2" fill="#000"/><rect x="531.1" y="392.6" width="3.2" height="3.2" fill="#000"/><rect x="531.1" y="402.9" width="3.2" height="3.2" fill="#000"/><rect x="531.1" y="413.2" width="3.2" height="3.2" fill="#000"/><rect x="569.6" y="52.7" width="3.2" height="3.2" fill="#000"/><rect x="569.6" y="63.0" width="3.2" height="3.2" fill="#000"/><rect x="569.6" y="73.3" width="3.2" height="3.2" fill="#000"/><rect x="569.6" y="83.6" width="3.2" height="3.2" fill="#000"/><rect x="569.6" y="93.9" width="3.2" height="3.2" fill="#000"/><rect x="569.6" y="104.2" width="3.2" height="3.2" fill="#000"/><rect x="569.6" y="114.5" width="3.2" height="3.2" fill="#000"/><rect x="569.6" y="124.8" width="3.2" height="3.2" fill="#000"/><rect x="569.6" y="135.1" width="3.2" height="3.2" fill="#000"/><rect x="569.6" y="145.4" width="3.2" height="3.2" fill="#000"/><rect x="569.6" y="155.7" width="3.2" height="3.2" fill="#000"/><rect x="569.6" y="166.0" width="3.2" height="3.2" fill="#000"/><rect x="569.6" y="176.3" width="3.2" height="3.2" fill="#000"/><rect x="569.6" y="186.6" width="3.2" height="3.2" fill="#000"/><rect x="569.6" y="196.9" width="3.2" height="3.2" fill="#000"/><rect x="569.6" y="207.2" width="3.2" height="3.2" fill="#000"/><rect x="569.6" y="217.5" width="3.2" height="3.2" fill="#000"/><rect x="569.6" y="227.8" width="3.2" height="3.2" fill="#000"/><rect x="569.6" y="238.1" width="3.2" height="3.2" fill="#000"/><rect x="569.6" y="248.4" width="3.2" height="3.2" fill="#000"/><rect x="569.6" y="258.7" width="3.2" height="3.2" fill="#000"/><rect x="569.6" y="269.0" width="3.2" height="3.2" fill="#000"/><rect x="569.6" y="279.3" width="3.2" height="3.2" fill="#000"/><rect x="569.6" y="289.6" width="3.2" height="3.2" fill="#000"/><rect x="569.6" y="299.9" width="3.2" height="3.2" fill="#000"/><rect x="569.6" y="310.2" width="3.2" height="3.2" fill="#000"/><rect x="569.6" y="320.5" width="3.2" height="3.2" fill="#000"/><rect x="569.6" y="330.8" width="3.2" height="3.2" fill="#000"/><rect x="569.6" y="341.1" width="3.2" height="3.2" fill="#000"/><rect x="569.6" y="351.4" width="3.2" height="3.2" fill="#000"/><rect x="569.6" y="361.7" width="3.2" height="3.2" fill="#000"/><rect x="569.6" y="372.0" width="3.2" height="3.2" fill="#000"/><rect x="569.6" y="382.3" width="3.2" height="3.2" fill="#000"/><rect x="569.6" y="392.6" width="3.2" height="3.2" fill="#000"/><rect x="569.6" y="402.9" width="3.2" height="3.2" fill="#000"/><rect x="569.6" y="413.2" width="3.2" height="3.2" fill="#000"/><rect x="276.8" y="304" width="11.599999999999966" height="262" fill="url(#gGray)"/><path d="M276.8,566 L276.8,304 L294.4,304 M288.4,304 L288.4,566 M276.8,566 L294.4,566" fill="none" stroke="#888" stroke-width="1"/><line x1="288.4" y1="319.5" x2="291.4" y2="319.5" stroke="#888" stroke-width="1"/><text x="295" y="324.2" font-size="13" text-anchor="start" fill="#111" font-family="Liberation Sans, sans-serif" >130.0</text><line x1="288.4" y1="339.68" x2="291.4" y2="339.68" stroke="#888" stroke-width="1"/><text x="295" y="344.38" font-size="13" text-anchor="start" fill="#111" font-family="Liberation Sans, sans-serif" >120.0</text><line x1="288.4" y1="359.86" x2="291.4" y2="359.86" stroke="#888" stroke-width="1"/><text x="295" y="364.56" font-size="13" text-anchor="start" fill="#111" font-family="Liberation Sans, sans-serif" >110.0</text><line x1="288.4" y1="380.04" x2="291.4" y2="380.04" stroke="#888" stroke-width="1"/><text x="295" y="384.74" font-size="13" text-anchor="start" fill="#111" font-family="Liberation Sans, sans-serif" >100.0</text><line x1="288.4" y1="400.22" x2="291.4" y2="400.22" stroke="#888" stroke-width="1"/><text x="295" y="404.92" font-size="13" text-anchor="start" fill="#111" font-family="Liberation Sans, sans-serif" >90.0</text><line x1="288.4" y1="420.4" x2="291.4" y2="420.4" stroke="#888" stroke-width="1"/><text x="295" y="425.09999999999997" font-size="13" text-anchor="start" fill="#111" font-family="Liberation Sans, sans-serif" >80.0</text><line x1="288.4" y1="440.58" x2="291.4" y2="440.58" stroke="#888" stroke-width="1"/><text x="295" y="445.28" font-size="13" text-anchor="start" fill="#111" font-family="Liberation Sans, sans-serif" >70.0</text><line x1="288.4" y1="460.76" x2="291.4" y2="460.76" stroke="#888" stroke-width="1"/><text x="295" y="465.46" font-size="13" text-anchor="start" fill="#111" font-family="Liberation Sans, sans-serif" >60.0</text><line x1="288.4" y1="480.94" x2="291.4" y2="480.94" stroke="#888" stroke-width="1"/><text x="295" y="485.64" font-size="13" text-anchor="start" fill="#111" font-family="Liberation Sans, sans-serif" >50.0</text><line x1="288.4" y1="501.12" x2="291.4" y2="501.12" stroke="#888" stroke-width="1"/><text x="295" y="505.82" font-size="13" text-anchor="start" fill="#111" font-family="Liberation Sans, sans-serif" >40.0</text><line x1="288.4" y1="521.3" x2="291.4" y2="521.3" stroke="#888" stroke-width="1"/><text x="295" y="526.0" font-size="13" text-anchor="start" fill="#111" font-family="Liberation Sans, sans-serif" >30.0</text><line x1="288.4" y1="541.48" x2="291.4" y2="541.48" stroke="#888" stroke-width="1"/><text x="295" y="546.1800000000001" font-size="13" text-anchor="start" fill="#111" font-family="Liberation Sans, sans-serif" >20.0</text><text transform="translate(344.6,433.1) rotate(-90)" font-size="13.8" text-anchor="middle" fill="#111" font-family="Liberation Sans, sans-serif" textLength="76.6" lengthAdjust="spacingAndGlyphs">height [nm]</text><rect x="637.5" y="161.5" width="11.5" height="261.5" fill="url(#gGwy)"/><path d="M637.5,423 L637.5,161.5 L655,161.5 M649,161.5 L649,423 M637.5,423 L655,423" fill="none" stroke="#888" stroke-width="1"/><text x="655" y="166.39999999999998" font-size="13" text-anchor="start" fill="#111" font-family="Liberation Sans, sans-serif" >76.9</text><line x1="649" y1="187.8" x2="652" y2="187.8" stroke="#888" stroke-width="1"/><text x="655" y="192.5" font-size="13" text-anchor="start" fill="#111" font-family="Liberation Sans, sans-serif" >76.8</text><line x1="649" y1="210.9" x2="652" y2="210.9" stroke="#888" stroke-width="1"/><text x="655" y="215.6" font-size="13" text-anchor="start" fill="#111" font-family="Liberation Sans, sans-serif" >76.7</text><line x1="649" y1="234" x2="652" y2="234" stroke="#888" stroke-width="1"/><text x="655" y="238.7" font-size="13" text-anchor="start" fill="#111" font-family="Liberation Sans, sans-serif" >76.6</text><line x1="649" y1="259.1" x2="652" y2="259.1" stroke="#888" stroke-width="1"/><text x="655" y="263.8" font-size="13" text-anchor="start" fill="#111" font-family="Liberation Sans, sans-serif" >76.5</text><line x1="649" y1="282.3" x2="652" y2="282.3" stroke="#888" stroke-width="1"/><text x="655" y="287.0" font-size="13" text-anchor="start" fill="#111" font-family="Liberation Sans, sans-serif" >76.4</text><line x1="649" y1="306" x2="652" y2="306" stroke="#888" stroke-width="1"/><text x="655" y="310.7" font-size="13" text-anchor="start" fill="#111" font-family="Liberation Sans, sans-serif" >76.3</text><line x1="649" y1="330" x2="652" y2="330" stroke="#888" stroke-width="1"/><text x="655" y="334.7" font-size="13" text-anchor="start" fill="#111" font-family="Liberation Sans, sans-serif" >76.2</text><line x1="649" y1="354" x2="652" y2="354" stroke="#888" stroke-width="1"/><text x="655" y="358.7" font-size="13" text-anchor="start" fill="#111" font-family="Liberation Sans, sans-serif" >76.1</text><line x1="649" y1="377.4" x2="652" y2="377.4" stroke="#888" stroke-width="1"/><text x="655" y="382.09999999999997" font-size="13" text-anchor="start" fill="#111" font-family="Liberation Sans, sans-serif" >76.0</text><line x1="649" y1="401" x2="652" y2="401" stroke="#888" stroke-width="1"/><text x="655" y="405.7" font-size="13" text-anchor="start" fill="#111" font-family="Liberation Sans, sans-serif" >75.9</text><text x="655" y="427.7" font-size="13" text-anchor="start" fill="#111" font-family="Liberation Sans, sans-serif" >75.8</text><text transform="translate(698,290.6) rotate(-90)" font-size="14" text-anchor="middle" fill="#111" font-family="Liberation Sans, sans-serif" textLength="80.6" lengthAdjust="spacingAndGlyphs">phase [deg]</text><rect x="635.6" y="458.9" width="12.100000000000023" height="261.4" fill="url(#gGwy)"/><path d="M635.6,720.3 L635.6,458.9 L653.7,458.9 M647.7,458.9 L647.7,720.3 M635.6,720.3 L653.7,720.3" fill="none" stroke="#888" stroke-width="1"/><text x="656" y="463.09999999999997" font-size="13" text-anchor="start" fill="#111" font-family="Liberation Sans, sans-serif" >1.9</text><line x1="647.7" y1="505" x2="650.7" y2="505" stroke="#888" stroke-width="1"/><text x="656" y="509.7" font-size="13" text-anchor="start" fill="#111" font-family="Liberation Sans, sans-serif" >1.8</text><line x1="647.7" y1="540.5" x2="650.7" y2="540.5" stroke="#888" stroke-width="1"/><text x="656" y="545.2" font-size="13" text-anchor="start" fill="#111" font-family="Liberation Sans, sans-serif" >1.7</text><line x1="647.7" y1="575.5" x2="650.7" y2="575.5" stroke="#888" stroke-width="1"/><text x="656" y="580.2" font-size="13" text-anchor="start" fill="#111" font-family="Liberation Sans, sans-serif" >1.6</text><line x1="647.7" y1="611.6" x2="650.7" y2="611.6" stroke="#888" stroke-width="1"/><text x="656" y="616.3000000000001" font-size="13" text-anchor="start" fill="#111" font-family="Liberation Sans, sans-serif" >1.5</text><line x1="647.7" y1="647.7" x2="650.7" y2="647.7" stroke="#888" stroke-width="1"/><text x="656" y="652.4000000000001" font-size="13" text-anchor="start" fill="#111" font-family="Liberation Sans, sans-serif" >1.4</text><line x1="647.7" y1="682.7" x2="650.7" y2="682.7" stroke="#888" stroke-width="1"/><text x="656" y="687.4000000000001" font-size="13" text-anchor="start" fill="#111" font-family="Liberation Sans, sans-serif" >1.3</text><text x="656" y="725.4000000000001" font-size="13" text-anchor="start" fill="#111" font-family="Liberation Sans, sans-serif" >1.2</text><text transform="translate(698,580.6) rotate(-90)" font-size="14" text-anchor="middle" fill="#111" font-family="Liberation Sans, sans-serif" textLength="80.6" lengthAdjust="spacingAndGlyphs">phase [deg]</text><polygon points="436.8,413.7 522.9,413.7 522.9,442.4 559.2,442.4 479.7,466 400.3,442.4 436.8,442.4" fill="#fff" stroke="#111" stroke-width="1.3" stroke-linejoin="miter"/><text x="479.85" y="429.7" font-size="11" text-anchor="middle" fill="#111" font-family="Liberation Sans, sans-serif" textLength="15.7" lengthAdjust="spacingAndGlyphs" >AC-</text><text x="440.3" y="442.2" font-size="11" text-anchor="start" fill="#111" font-family="Liberation Sans, sans-serif" textLength="79.7" lengthAdjust="spacingAndGlyphs" >demagnetization</text></svg></body></html>
